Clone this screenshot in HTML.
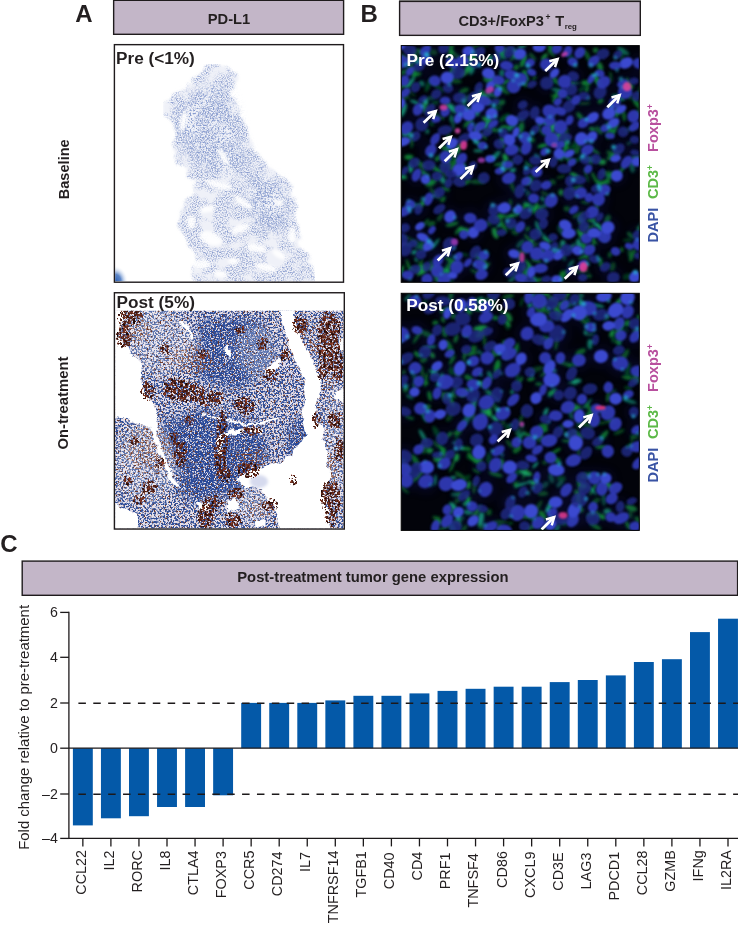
<!DOCTYPE html>
<html><head><meta charset="utf-8"><title>Figure</title>
<style>
html,body{margin:0;padding:0;background:#fff;}
body{width:738px;height:925px;overflow:hidden;font-family:"Liberation Sans",sans-serif;}
svg{display:block;font-family:"Liberation Sans",sans-serif;will-change:transform;-webkit-font-smoothing:antialiased;}
</style></head><body>
<svg width="738" height="925" viewBox="0 0 738 925">
<rect width="738" height="925" fill="#fff"/>
<defs>
<clipPath id="cA1"><rect x="115.1" y="45.3" width="227.7" height="236.2"/></clipPath>
<clipPath id="cA2"><rect x="115.1" y="310.8" width="228.5" height="217.6"/></clipPath>
<clipPath id="cB1"><rect x="401.2" y="45.6" width="238.1" height="236.7"/></clipPath>
<clipPath id="cB2"><rect x="401.2" y="293.3" width="238.1" height="237.1"/></clipPath>

<!-- pale tissue speckle for A-top -->
<filter id="fPale" x="0" y="0" width="100%" height="100%" color-interpolation-filters="sRGB">
  <feTurbulence type="fractalNoise" baseFrequency="0.8" numOctaves="1" seed="7" result="n"/>
  <feColorMatrix in="n" type="matrix" values="0 0 0 0 0.55  0 0 0 0 0.62  0 0 0 0 0.81  3.2 0 0 0 -1.35" result="sp0"/>
  <feTurbulence type="fractalNoise" baseFrequency="0.06" numOctaves="3" seed="29" result="lf"/>
  <feColorMatrix in="lf" type="matrix" values="0 0 0 0 0  0 0 0 0 0  0 0 0 0 0  0 4.5 0 0 -1.45" result="lfa"/>
  <feComposite in="sp0" in2="lfa" operator="in" result="sp1"/>
  <feGaussianBlur in="sp1" stdDeviation="0.7" result="sp"/>
  <feTurbulence type="fractalNoise" baseFrequency="0.05" numOctaves="3" seed="11" result="m"/>
  <feDisplacementMap in="SourceGraphic" in2="m" scale="16" xChannelSelector="R" yChannelSelector="G" result="shape"/>
  <feGaussianBlur in="shape" stdDeviation="1.0" result="soft"/>
  <feComposite in="sp" in2="soft" operator="in" result="tex"/>
  <feFlood flood-color="#dfe4f2" flood-opacity="0.5" result="bg"/>
  <feComposite in="bg" in2="soft" operator="in" result="bgc"/>
  <feMerge><feMergeNode in="bgc"/><feMergeNode in="tex"/></feMerge>
</filter>
<!-- denser pale layer -->
<filter id="fPale2" x="0" y="0" width="100%" height="100%" color-interpolation-filters="sRGB">
  <feTurbulence type="fractalNoise" baseFrequency="0.6" numOctaves="2" seed="19" result="n"/>
  <feColorMatrix in="n" type="matrix" values="0 0 0 0 0.53  0 0 0 0 0.61  0 0 0 0 0.81  4 0 0 0 -1.9" result="sp0"/>
  <feGaussianBlur in="sp0" stdDeviation="0.75" result="sp"/>
  <feGaussianBlur in="SourceGraphic" stdDeviation="6" result="soft"/>
  <feComposite in="sp" in2="soft" operator="in"/>
</filter>

<!-- blue speckled tissue for A-bottom -->
<filter id="fTis" x="0" y="0" width="100%" height="100%" color-interpolation-filters="sRGB">
  <feTurbulence type="fractalNoise" baseFrequency="0.55" numOctaves="2" seed="5" result="n"/>
  <feColorMatrix in="n" type="matrix" values="0 0 0 0 0.19  0 0 0 0 0.31  0 0 0 0 0.60  7 0 0 0 -3.15" result="sp0"/>
  <feGaussianBlur in="sp0" stdDeviation="0.35" result="sp"/>
  <feTurbulence type="fractalNoise" baseFrequency="0.09" numOctaves="3" seed="23" result="m"/>
  <feDisplacementMap in="SourceGraphic" in2="m" scale="9" xChannelSelector="R" yChannelSelector="G" result="shape"/>
  <feComposite in="sp" in2="shape" operator="in" result="tex"/>
  <feFlood flood-color="#e6dfe8" result="bg"/>
  <feComposite in="bg" in2="shape" operator="in" result="bgc"/>
  <feMerge><feMergeNode in="bgc"/><feMergeNode in="tex"/></feMerge>
</filter>
<!-- extra-dense blue overlay -->
<filter id="fDense" x="0" y="0" width="100%" height="100%" color-interpolation-filters="sRGB">
  <feTurbulence type="fractalNoise" baseFrequency="0.7" numOctaves="2" seed="31" result="n"/>
  <feColorMatrix in="n" type="matrix" values="0 0 0 0 0.15  0 0 0 0 0.28  0 0 0 0 0.60  7 0 0 0 -3.0" result="sp"/>
  <feGaussianBlur in="SourceGraphic" stdDeviation="5" result="soft"/>
  <feComposite in="sp" in2="soft" operator="in"/>
</filter>
<!-- brown stain clumps -->
<filter id="fBrown" x="0" y="0" width="100%" height="100%" color-interpolation-filters="sRGB">
  <feTurbulence type="fractalNoise" baseFrequency="0.42" numOctaves="2" seed="41" result="n"/>
  <feColorMatrix in="n" type="matrix" values="0 0.9 0 0 -0.12  0 0.42 0 0 -0.08  0 0.25 0 0 -0.04  1 0 0 0 0" result="na"/>
  <feGaussianBlur in="SourceGraphic" stdDeviation="2.2" result="soft"/>
  <feComposite in="na" in2="soft" operator="in" result="prod"/>
  <feColorMatrix in="prod" type="matrix" values="1 0 0 0 0  0 1 0 0 0  0 0 1 0 0  0 0 0 14 -6.25"/>
</filter>
<!-- faint brown/pink tint -->
<filter id="fTint" x="0" y="0" width="100%" height="100%" color-interpolation-filters="sRGB">
  <feTurbulence type="fractalNoise" baseFrequency="0.5" numOctaves="2" seed="53" result="n"/>
  <feColorMatrix in="n" type="matrix" values="0 0 0 0 0  0 0 0 0 0  0 0 0 0 0  1 0 0 0 0" result="na"/>
  <feGaussianBlur in="SourceGraphic" stdDeviation="5" result="soft"/>
  <feComposite in="na" in2="soft" operator="in" result="prod"/>
  <feColorMatrix in="prod" type="matrix" values="0 0 0 0 0.50  0 0 0 0 0.27  0 0 0 0 0.20  0 0 0 10 -5.4"/>
</filter>
<!-- global sparse brown specks -->
<filter id="fSpeck" x="0" y="0" width="100%" height="100%" color-interpolation-filters="sRGB">
  <feTurbulence type="fractalNoise" baseFrequency="0.55" numOctaves="2" seed="77" result="n"/>
  <feColorMatrix in="n" type="matrix" values="0 0 0 0 0.42  0 0 0 0 0.22  0 0 0 0 0.16  0 9 0 0 -5.6" result="sp"/>
  <feComposite in="sp" in2="SourceGraphic" operator="in"/>
</filter>
<!-- white holes with ragged edge -->
<filter id="fHole" x="0" y="0" width="100%" height="100%" color-interpolation-filters="sRGB">
  <feTurbulence type="fractalNoise" baseFrequency="0.12" numOctaves="3" seed="61" result="m"/>
  <feDisplacementMap in="SourceGraphic" in2="m" scale="7" xChannelSelector="R" yChannelSelector="G"/>
</filter>
<filter id="fBlurS" x="-20%" y="-20%" width="140%" height="140%"><feGaussianBlur stdDeviation="0.9"/></filter>
<filter id="fBlurM" x="-20%" y="-20%" width="140%" height="140%"><feGaussianBlur stdDeviation="1.6"/></filter>
<filter id="fBlurL" x="-50%" y="-50%" width="200%" height="200%"><feGaussianBlur stdDeviation="4"/></filter>
<radialGradient id="gN" cx="50%" cy="50%" r="50%"><stop offset="0" stop-color="#3444d8"/><stop offset="0.7" stop-color="#2a36c8"/><stop offset="1" stop-color="#1c249a"/></radialGradient>
<radialGradient id="gCorner" cx="0" cy="1" r="1"><stop offset="0" stop-color="#2b5fb4"/><stop offset="0.45" stop-color="#5c86c8"/><stop offset="1" stop-color="#ffffff" stop-opacity="0"/></radialGradient>
</defs>
<rect x="399" y="0" width="242" height="0.9" fill="#8e8e8e"/>
<g stroke="#1f1b1d" stroke-width="1.4" fill="#c3b6c8">
<rect x="113.65" y="0.3" width="229.95" height="34"/>
<rect x="399.6" y="1.4" width="240.7" height="33.95"/>
<rect x="22.2" y="561.1" width="715.4" height="34.2"/>
</g>
<g font-weight="bold" fill="#231f20">
<text x="75.2" y="21.7" font-size="24">A</text>
<text x="360.5" y="21.6" font-size="24">B</text>
<text x="0.2" y="551.8" font-size="24">C</text>
<text x="229" y="24.4" font-size="14.7" text-anchor="middle">PD-L1</text>
<text x="458.4" y="25.5" font-size="14.6">CD3+/FoxP3<tspan font-size="8.5" dy="-5.6" dx="1.6">+</tspan><tspan dy="5.6" dx="0.7"> T</tspan><tspan font-size="7.8" dy="3.6" dx="0.4">reg</tspan></text>
<text x="372.9" y="582.2" font-size="14.8" text-anchor="middle">Post-treatment tumor gene expression</text>
<text font-size="14.6" text-anchor="middle" transform="translate(69,169.3) rotate(-90)">Baseline</text>
<text font-size="14.8" text-anchor="middle" transform="translate(68,403.1) rotate(-90)">On-treatment</text>
</g>
<rect x="114.4" y="44.65" width="229.1" height="237.55" fill="#fff"/>
<g clip-path="url(#cA1)">
<g filter="url(#fPale)"><path d="M202.7,67.6 L217.3,64.4 L233.6,72.5 L238.5,80.7 L235.2,92.0 L240.1,108.3 L243.3,124.6 L248.2,137.6 L256.3,150.6 L269.3,166.8 L285.6,179.8 L293.7,186.3 L295.4,202.6 L292.1,215.6 L298.6,228.6 L300.2,244.9 L305.1,254.6 L311.6,267.6 L314.9,287.2 L194.6,287.2 L192.9,267.6 L196.2,254.6 L186.4,238.4 L179.9,228.6 L178.3,215.6 L183.2,202.6 L192.9,192.8 L196.2,179.8 L188.0,170.1 L175.0,160.3 L170.2,150.6 L173.4,137.6 L166.9,124.6 L163.7,109.9 L175.0,95.3 L188.0,85.5 L197.8,75.8Z" fill="#000"/></g>
<g filter="url(#fPale2)"><path d="M184.8,98.5 L217.3,82.3 L233.6,105.0 L240.1,137.6 L249.8,157.1 L233.6,176.6 L207.6,170.1 L184.8,150.6 L175.0,124.6Z" fill="#000"/><path d="M249.8,170.1 L285.6,186.3 L288.9,222.1 L266.1,235.1 L249.8,209.1Z" fill="#000"/></g>
<g filter="url(#fBlurM)" fill="#ffffff" opacity="0.9">
<ellipse cx="183.2" cy="121.3" rx="3.3" ry="10.4" transform="rotate(10 183.2 121.3)"/>
<ellipse cx="218.9" cy="184.7" rx="14.3" ry="3.9" transform="rotate(15 218.9 184.7)"/>
<ellipse cx="243.3" cy="202.6" rx="11.1" ry="3.6" transform="rotate(35 243.3 202.6)"/>
<ellipse cx="210.8" cy="238.4" rx="11.7" ry="6.5" transform="rotate(20 210.8 238.4)"/>
<ellipse cx="223.8" cy="157.1" rx="3.3" ry="9.8" transform="rotate(-30 223.8 157.1)"/>
<ellipse cx="256.3" cy="248.1" rx="10.4" ry="4.2" transform="rotate(10 256.3 248.1)"/>
<ellipse cx="207.6" cy="209.1" rx="8.5" ry="3.3" transform="rotate(-10 207.6 209.1)"/>
<ellipse cx="279.1" cy="254.6" rx="7.8" ry="3.3" transform="rotate(30 279.1 254.6)"/>
<ellipse cx="201.1" cy="264.4" rx="9.8" ry="4.6" transform="rotate(0 201.1 264.4)"/>
<ellipse cx="240.1" cy="228.6" rx="9.8" ry="3.9" transform="rotate(-20 240.1 228.6)"/>
<ellipse cx="266.1" cy="267.6" rx="11.1" ry="3.9" transform="rotate(15 266.1 267.6)"/>
<ellipse cx="292.1" cy="235.1" rx="3.9" ry="8.5" transform="rotate(0 292.1 235.1)"/>
<ellipse cx="220.6" cy="274.1" rx="7.8" ry="3.3" transform="rotate(10 220.6 274.1)"/>
<ellipse cx="191.3" cy="222.1" rx="4.6" ry="6.5" transform="rotate(0 191.3 222.1)"/>
<ellipse cx="279.1" cy="202.6" rx="5.2" ry="3.3" transform="rotate(0 279.1 202.6)"/>
<ellipse cx="233.6" cy="261.1" rx="5.9" ry="3.3" transform="rotate(0 233.6 261.1)"/>
</g>
<rect x="115.1" y="265.5" width="13" height="16" fill="url(#gCorner)"/>
</g>
<rect x="114.4" y="44.65" width="229.1" height="237.55" fill="none" stroke="#1f1b1d" stroke-width="1.4"/>
<text x="116" y="64.4" font-size="17.2" font-weight="bold" fill="#231f20">Pre (&lt;1%)</text>
<rect x="114.4" y="292.75" width="229.9" height="236.3" fill="#fff"/>
<g clip-path="url(#cA2)">
<g filter="url(#fTis)"><rect x="100" y="300" width="260" height="240" fill="#000"/></g>
<g filter="url(#fDense)">
<path d="M160.0,424.0 L200.0,410.0 L250.0,420.0 L268.0,440.0 L262.0,470.0 L240.0,490.0 L215.0,500.0 L195.0,492.0 L180.0,470.0 L165.0,445.0Z" fill="#000"/>
<path d="M180.0,465.0 L205.0,470.0 L212.0,495.0 L195.0,505.0 L178.0,490.0Z" fill="#000"/>
<path d="M292.0,420.0 L312.0,418.0 L312.0,445.0 L296.0,458.0 L286.0,450.0Z" fill="#000"/>
<path d="M200.0,320.0 L260.0,316.0 L275.0,360.0 L240.0,390.0 L200.0,380.0Z" fill="#000"/>
</g>
<g filter="url(#fTint)">
<ellipse cx="135" cy="330" rx="22" ry="18" fill="#000"/>
<ellipse cx="150" cy="450" rx="30" ry="30" fill="#000"/>
<ellipse cx="300" cy="340" rx="20" ry="25" fill="#000"/>
<ellipse cx="330" cy="360" rx="14" ry="40" fill="#000"/>
<ellipse cx="250" cy="460" rx="25" ry="18" fill="#000"/>
<ellipse cx="190" cy="360" rx="30" ry="20" fill="#000"/>
<ellipse cx="330" cy="480" rx="12" ry="40" fill="#000"/>
<ellipse cx="260" cy="510" rx="20" ry="14" fill="#000"/>
</g>
<g filter="url(#fBlurL)" fill="#fff" opacity="0.24">
<ellipse cx="146" cy="462" rx="30" ry="42"/>
<ellipse cx="160" cy="345" rx="34" ry="30"/>
<ellipse cx="150" cy="320" rx="30" ry="14"/>
<ellipse cx="334" cy="450" rx="10" ry="70"/>
<ellipse cx="330" cy="345" rx="12" ry="30"/>
<ellipse cx="255" cy="350" rx="20" ry="26"/>
<ellipse cx="250" cy="505" rx="24" ry="18"/>
</g>
<g filter="url(#fSpeck)"><rect x="100" y="300" width="260" height="240" fill="#000"/></g>
<g filter="url(#fHole)" fill="#fff">
<path d="M110.0,305.0 L127.0,305.0 L121.0,322.0 L120.0,334.0 L122.0,344.0 L133.0,355.0 L143.0,366.0 L141.0,378.0 L143.0,391.0 L153.0,404.0 L158.0,418.0 L157.0,430.0 L140.0,424.0 L126.0,419.0 L110.0,416.0Z"/>
<path d="M279.1,304.3 L282.4,323.8 L287.2,336.8 L292.1,353.0 L300.2,369.3 L303.5,382.3 L305.1,401.8 L301.9,418.1 L304.5,431.1 L310.0,440.8 L318.1,463.6 L323.0,457.1 L325.3,444.1 L321.4,427.8 L314.9,418.1 L316.5,401.8 L321.4,388.8 L319.8,375.8 L311.6,359.5 L305.1,343.3 L297.0,330.3 L294.1,304.3Z"/>
<path d="M265.0,369.7 L279.7,358.3 L281.0,366.4 L268.3,374.6Z"/>
<path d="M302.4,410.0 L313.8,410.0 L317.1,429.5 L323.6,442.5 L326.8,452.3 L325.2,463.7 L330.1,475.0 L323.6,491.3 L326.8,507.6 L331.7,535.0 L279.7,535.0 L276.4,510.8 L265.0,494.6 L258.5,488.0 L245.5,486.4 L237.4,481.5 L242.3,475.0 L255.3,468.5 L268.3,465.3 L279.7,462.0 L291.0,455.5 L294.3,447.4 L304.0,440.9 L310.6,427.9 L307.3,418.1Z"/>
<path d="M110.0,499.0 L121.8,507.6 L136.4,515.7 L140.0,535.0 L110.0,535.0Z"/>
<path d="M226.0,500.0 L236.0,498.0 L239.0,508.0 L229.0,514.0Z"/>
<path d="M198.0,503.0 L210.0,504.0 L211.0,509.0 L199.0,509.0Z"/>
<path d="M255.0,520.0 L266.0,522.0 L265.0,527.0 L254.0,526.0Z"/>
<path d="M202.0,414.0 L222.0,418.0 L245.0,423.5 L262.0,421.5 L278.0,417.0 L278.5,418.6 L262.0,424.0 L245.0,425.6 L222.0,420.0 L202.0,415.6Z"/>
<path d="M216.0,441.0 L222.0,434.0 L232.0,430.0 L246.0,428.0 L262.0,430.0 L262.0,433.0 L246.0,432.0 L233.0,434.0 L225.0,438.0 L221.0,446.0 L222.0,456.0 L218.0,456.0Z"/>
<path d="M151.0,428.0 L155.0,428.0 L162.0,450.0 L174.0,478.0 L178.0,485.0 L175.0,486.0 L168.0,474.0 L158.0,452.0Z"/>
<path d="M178.0,322.0 L182.0,320.0 L196.0,337.0 L194.0,339.0Z"/>
<path d="M226.0,345.0 L232.0,352.0 L229.0,357.0 L224.0,349.0Z"/>
<path d="M338.0,340.0 L345.0,338.0 L345.0,352.0 L339.0,350.0Z"/>
<path d="M334.0,392.0 L345.0,388.0 L345.0,402.0 L336.0,400.0Z"/>
</g>
<ellipse cx="259" cy="481.5" rx="9" ry="6.5" fill="#d6daee" filter="url(#fBlurM)"/>
<g filter="url(#fBrown)">
<ellipse cx="131" cy="316" rx="14.8" ry="11.0" fill="#000"/>
<ellipse cx="124" cy="338" rx="9.8" ry="13.5" fill="#000"/>
<ellipse cx="177" cy="389" rx="17.2" ry="13.5" fill="#000"/>
<ellipse cx="148" cy="391" rx="9.8" ry="11.0" fill="#000"/>
<ellipse cx="208" cy="399" rx="13.5" ry="9.8" fill="#000"/>
<ellipse cx="246" cy="406" rx="11.0" ry="11.0" fill="#000"/>
<ellipse cx="270" cy="375" rx="9.8" ry="8.5" fill="#000"/>
<ellipse cx="263" cy="344" rx="8.5" ry="8.5" fill="#000"/>
<ellipse cx="203" cy="355" rx="7.2" ry="7.2" fill="#000"/>
<ellipse cx="222" cy="428" rx="7.2" ry="21.0" fill="#000"/>
<ellipse cx="219" cy="456" rx="7.2" ry="21.0" fill="#000"/>
<ellipse cx="224" cy="474" rx="9.8" ry="9.8" fill="#000"/>
<ellipse cx="252" cy="431" rx="13.5" ry="7.2" fill="#000"/>
<ellipse cx="251" cy="472" rx="11.0" ry="8.5" fill="#000"/>
<ellipse cx="181" cy="455" rx="8.5" ry="16.0" fill="#000"/>
<ellipse cx="175" cy="438" rx="7.2" ry="9.8" fill="#000"/>
<ellipse cx="293.5" cy="480" rx="5.5" ry="8.0" fill="#000"/>
<ellipse cx="213" cy="503" rx="12.2" ry="9.8" fill="#000"/>
<ellipse cx="236" cy="494" rx="11.0" ry="8.5" fill="#000"/>
<ellipse cx="328" cy="495" rx="9.8" ry="14.8" fill="#000"/>
<ellipse cx="331" cy="515" rx="8.5" ry="13.5" fill="#000"/>
<ellipse cx="334" cy="330" rx="9.8" ry="16.0" fill="#000"/>
<ellipse cx="338" cy="365" rx="8.5" ry="18.5" fill="#000"/>
<ellipse cx="322" cy="372" rx="7.2" ry="11.0" fill="#000"/>
<ellipse cx="335" cy="420" rx="9.8" ry="11.0" fill="#000"/>
<ellipse cx="316" cy="420" rx="6.0" ry="11.0" fill="#000"/>
<ellipse cx="233" cy="520" rx="11.0" ry="9.8" fill="#000"/>
<ellipse cx="205" cy="523" rx="8.5" ry="8.5" fill="#000"/>
<ellipse cx="150" cy="487" rx="9.8" ry="8.5" fill="#000"/>
<ellipse cx="160" cy="463" rx="7.2" ry="7.2" fill="#000"/>
<ellipse cx="134" cy="441" rx="7.2" ry="7.2" fill="#000"/>
<ellipse cx="190" cy="420" rx="7.2" ry="7.2" fill="#000"/>
<ellipse cx="300" cy="325" rx="9.8" ry="11.0" fill="#000"/>
<ellipse cx="285" cy="355" rx="7.2" ry="8.5" fill="#000"/>
<ellipse cx="128" cy="318" rx="12.2" ry="9.8" fill="#000"/>
<ellipse cx="328" cy="340" rx="13.5" ry="31.0" fill="#000"/>
<ellipse cx="186" cy="392" rx="21.0" ry="12.2" fill="#000"/>
<ellipse cx="212" cy="398" rx="13.5" ry="9.8" fill="#000"/>
<ellipse cx="243" cy="404" rx="12.2" ry="9.8" fill="#000"/>
<ellipse cx="332" cy="500" rx="11.0" ry="21.0" fill="#000"/>
<ellipse cx="222" cy="445" rx="7.2" ry="31.0" fill="#000"/>
<ellipse cx="249" cy="470" rx="13.5" ry="9.8" fill="#000"/>
<ellipse cx="205" cy="515" rx="11.0" ry="9.8" fill="#000"/>
<ellipse cx="240" cy="330" rx="7.2" ry="7.2" fill="#000"/>
<ellipse cx="165" cy="350" rx="7.2" ry="7.2" fill="#000"/>
<ellipse cx="270" cy="505" rx="9.8" ry="8.5" fill="#000"/>
<ellipse cx="128" cy="480" rx="7.2" ry="7.2" fill="#000"/>
<ellipse cx="140" cy="500" rx="8.5" ry="7.2" fill="#000"/>
<ellipse cx="340" cy="450" rx="8.5" ry="13.5" fill="#000"/>
</g>
</g>
<rect x="114.4" y="292.75" width="229.9" height="236.3" fill="none" stroke="#1f1b1d" stroke-width="1.4"/>
<text x="116.6" y="308" font-size="17.2" font-weight="bold" fill="#231f20">Post (5%)</text>
<rect x="401.2" y="45.6" width="238.1" height="236.7" fill="#02030a"/>
<g clip-path="url(#cB1)">
<g filter="url(#fBlurL)" opacity="0.25">
<circle cx="508.9" cy="178.1" r="10.8" fill="#15166a"/>
<circle cx="422.8" cy="237.2" r="9.8" fill="#15166a"/>
<circle cx="511.7" cy="149.9" r="10.4" fill="#15166a"/>
<circle cx="569.7" cy="120.2" r="7.9" fill="#15166a"/>
<circle cx="634.6" cy="139.7" r="7.2" fill="#15166a"/>
<circle cx="425.3" cy="59.8" r="10.2" fill="#15166a"/>
<circle cx="592.5" cy="117.6" r="10.6" fill="#15166a"/>
<circle cx="418.7" cy="66.9" r="9.3" fill="#15166a"/>
<circle cx="437.9" cy="260.6" r="10.3" fill="#15166a"/>
<circle cx="569.0" cy="106.4" r="10.4" fill="#15166a"/>
<circle cx="467.9" cy="262.7" r="7.8" fill="#15166a"/>
<circle cx="613.3" cy="277.7" r="9.7" fill="#15166a"/>
<circle cx="639.1" cy="63.4" r="9.2" fill="#15166a"/>
<circle cx="589.4" cy="250.0" r="9.3" fill="#15166a"/>
<circle cx="493.7" cy="219.6" r="9.3" fill="#15166a"/>
<circle cx="519.6" cy="191.1" r="10.8" fill="#15166a"/>
<circle cx="613.5" cy="123.0" r="9.7" fill="#15166a"/>
<circle cx="570.5" cy="270.5" r="8.1" fill="#15166a"/>
<circle cx="635.0" cy="152.7" r="7.2" fill="#15166a"/>
<circle cx="509.5" cy="51.5" r="10.4" fill="#15166a"/>
<circle cx="443.7" cy="48.1" r="8.9" fill="#15166a"/>
<circle cx="573.2" cy="76.3" r="8.8" fill="#15166a"/>
<circle cx="450.0" cy="216.5" r="9.6" fill="#15166a"/>
<circle cx="605.0" cy="128.1" r="7.2" fill="#15166a"/>
<circle cx="434.7" cy="80.8" r="9.1" fill="#15166a"/>
<circle cx="470.3" cy="218.1" r="9.6" fill="#15166a"/>
<circle cx="526.0" cy="181.2" r="7.7" fill="#15166a"/>
<circle cx="518.1" cy="209.2" r="7.2" fill="#15166a"/>
<circle cx="615.6" cy="158.4" r="8.2" fill="#15166a"/>
<circle cx="522.7" cy="104.9" r="7.7" fill="#15166a"/>
<circle cx="527.3" cy="247.1" r="9.5" fill="#15166a"/>
<circle cx="638.9" cy="255.7" r="7.5" fill="#15166a"/>
<circle cx="428.7" cy="165.3" r="10.1" fill="#15166a"/>
<circle cx="583.3" cy="123.0" r="8.9" fill="#15166a"/>
<circle cx="497.7" cy="91.8" r="7.6" fill="#15166a"/>
<circle cx="521.3" cy="278.2" r="10.3" fill="#15166a"/>
<circle cx="583.9" cy="226.7" r="8.6" fill="#15166a"/>
<circle cx="582.6" cy="277.6" r="7.0" fill="#15166a"/>
<circle cx="616.8" cy="175.8" r="9.0" fill="#15166a"/>
<circle cx="622.7" cy="83.5" r="8.9" fill="#15166a"/>
<circle cx="534.7" cy="112.7" r="9.9" fill="#15166a"/>
<circle cx="459.2" cy="169.5" r="10.8" fill="#15166a"/>
<circle cx="430.8" cy="150.4" r="9.7" fill="#15166a"/>
<circle cx="535.7" cy="185.6" r="9.6" fill="#15166a"/>
<circle cx="530.2" cy="62.8" r="7.3" fill="#15166a"/>
<circle cx="584.2" cy="96.1" r="8.7" fill="#15166a"/>
<circle cx="503.0" cy="133.0" r="7.3" fill="#15166a"/>
<circle cx="573.8" cy="209.9" r="8.1" fill="#15166a"/>
<circle cx="618.7" cy="149.3" r="10.3" fill="#15166a"/>
<circle cx="535.4" cy="234.3" r="9.2" fill="#15166a"/>
<circle cx="416.5" cy="175.0" r="10.2" fill="#15166a"/>
<circle cx="459.6" cy="97.8" r="10.1" fill="#15166a"/>
<circle cx="604.4" cy="236.4" r="10.4" fill="#15166a"/>
<circle cx="490.6" cy="85.3" r="7.8" fill="#15166a"/>
<circle cx="409.9" cy="71.3" r="7.7" fill="#15166a"/>
<circle cx="595.8" cy="159.1" r="8.0" fill="#15166a"/>
<circle cx="592.0" cy="136.7" r="9.1" fill="#15166a"/>
<circle cx="477.8" cy="107.0" r="10.6" fill="#15166a"/>
<circle cx="473.5" cy="232.4" r="8.7" fill="#15166a"/>
<circle cx="475.2" cy="63.6" r="8.2" fill="#15166a"/>
<circle cx="637.3" cy="234.8" r="7.8" fill="#15166a"/>
<circle cx="493.1" cy="124.0" r="8.6" fill="#15166a"/>
<circle cx="546.8" cy="83.1" r="10.1" fill="#15166a"/>
<circle cx="600.1" cy="92.3" r="10.9" fill="#15166a"/>
<circle cx="511.4" cy="75.0" r="11.0" fill="#15166a"/>
<circle cx="444.1" cy="279.2" r="10.8" fill="#15166a"/>
<circle cx="410.2" cy="204.4" r="7.5" fill="#15166a"/>
<circle cx="526.2" cy="147.9" r="10.7" fill="#15166a"/>
<circle cx="507.6" cy="164.6" r="8.6" fill="#15166a"/>
<circle cx="579.0" cy="179.8" r="10.7" fill="#15166a"/>
<circle cx="519.9" cy="266.7" r="11.0" fill="#15166a"/>
<circle cx="446.8" cy="253.9" r="7.1" fill="#15166a"/>
<circle cx="448.0" cy="88.4" r="7.9" fill="#15166a"/>
<circle cx="560.0" cy="111.1" r="9.6" fill="#15166a"/>
<circle cx="467.7" cy="175.3" r="7.7" fill="#15166a"/>
<circle cx="533.6" cy="198.3" r="8.4" fill="#15166a"/>
<circle cx="520.0" cy="54.0" r="9.4" fill="#15166a"/>
<circle cx="436.0" cy="119.2" r="7.1" fill="#15166a"/>
<circle cx="452.7" cy="275.3" r="7.1" fill="#15166a"/>
<circle cx="576.0" cy="100.0" r="8.0" fill="#15166a"/>
<circle cx="566.6" cy="250.2" r="9.4" fill="#15166a"/>
<circle cx="418.5" cy="209.2" r="8.4" fill="#15166a"/>
<circle cx="583.5" cy="216.8" r="10.7" fill="#15166a"/>
<circle cx="495.0" cy="102.0" r="7.1" fill="#15166a"/>
<circle cx="470.7" cy="127.3" r="7.8" fill="#15166a"/>
<circle cx="415.5" cy="136.3" r="8.3" fill="#15166a"/>
<circle cx="567.9" cy="51.1" r="8.5" fill="#15166a"/>
<circle cx="406.8" cy="127.8" r="10.6" fill="#15166a"/>
<circle cx="499.0" cy="144.0" r="8.1" fill="#15166a"/>
<circle cx="633.8" cy="81.1" r="7.7" fill="#15166a"/>
<circle cx="439.2" cy="192.7" r="9.0" fill="#15166a"/>
<circle cx="585.0" cy="159.4" r="7.6" fill="#15166a"/>
<circle cx="569.5" cy="193.1" r="10.4" fill="#15166a"/>
<circle cx="551.6" cy="139.5" r="10.8" fill="#15166a"/>
<circle cx="493.9" cy="209.9" r="9.2" fill="#15166a"/>
<circle cx="516.0" cy="132.2" r="8.0" fill="#15166a"/>
<circle cx="599.7" cy="217.2" r="7.6" fill="#15166a"/>
<circle cx="427.0" cy="279.3" r="8.7" fill="#15166a"/>
<circle cx="547.9" cy="255.7" r="10.5" fill="#15166a"/>
<circle cx="636.9" cy="161.8" r="7.9" fill="#15166a"/>
<circle cx="546.4" cy="130.2" r="7.7" fill="#15166a"/>
<circle cx="609.0" cy="113.4" r="10.5" fill="#15166a"/>
<circle cx="560.5" cy="127.0" r="10.7" fill="#15166a"/>
<circle cx="598.5" cy="199.4" r="9.8" fill="#15166a"/>
<circle cx="405.0" cy="249.1" r="10.9" fill="#15166a"/>
<circle cx="523.2" cy="115.2" r="10.2" fill="#15166a"/>
<circle cx="499.6" cy="48.1" r="7.5" fill="#15166a"/>
<circle cx="413.0" cy="243.4" r="7.2" fill="#15166a"/>
<circle cx="546.2" cy="185.1" r="8.2" fill="#15166a"/>
<circle cx="588.9" cy="197.6" r="7.1" fill="#15166a"/>
<circle cx="587.3" cy="149.9" r="10.1" fill="#15166a"/>
<circle cx="565.4" cy="137.4" r="10.2" fill="#15166a"/>
<circle cx="462.4" cy="60.8" r="10.4" fill="#15166a"/>
<circle cx="437.3" cy="270.7" r="10.1" fill="#15166a"/>
<circle cx="484.2" cy="100.6" r="10.9" fill="#15166a"/>
<circle cx="588.1" cy="169.0" r="7.2" fill="#15166a"/>
<circle cx="404.8" cy="227.9" r="8.0" fill="#15166a"/>
<circle cx="445.1" cy="100.6" r="8.2" fill="#15166a"/>
<circle cx="491.6" cy="113.5" r="9.4" fill="#15166a"/>
<circle cx="429.8" cy="110.2" r="10.8" fill="#15166a"/>
<circle cx="544.8" cy="245.8" r="8.9" fill="#15166a"/>
<circle cx="456.8" cy="267.1" r="10.5" fill="#15166a"/>
<circle cx="506.6" cy="65.6" r="10.3" fill="#15166a"/>
<circle cx="607.8" cy="227.5" r="10.2" fill="#15166a"/>
<circle cx="479.9" cy="265.0" r="10.7" fill="#15166a"/>
<circle cx="504.3" cy="207.9" r="10.1" fill="#15166a"/>
<circle cx="437.0" cy="176.1" r="8.0" fill="#15166a"/>
<circle cx="418.1" cy="109.4" r="9.8" fill="#15166a"/>
<circle cx="514.0" cy="253.8" r="8.8" fill="#15166a"/>
<circle cx="541.8" cy="214.2" r="10.1" fill="#15166a"/>
<circle cx="546.3" cy="279.2" r="7.8" fill="#15166a"/>
<circle cx="425.4" cy="50.5" r="9.8" fill="#15166a"/>
<circle cx="428.1" cy="245.9" r="8.9" fill="#15166a"/>
<circle cx="509.4" cy="139.7" r="9.2" fill="#15166a"/>
<circle cx="452.2" cy="62.8" r="10.1" fill="#15166a"/>
<circle cx="571.4" cy="89.5" r="9.0" fill="#15166a"/>
<circle cx="520.2" cy="226.9" r="9.3" fill="#15166a"/>
<circle cx="468.9" cy="114.9" r="10.1" fill="#15166a"/>
<circle cx="639.1" cy="244.2" r="9.7" fill="#15166a"/>
<circle cx="605.2" cy="267.0" r="8.7" fill="#15166a"/>
</g>
<g filter="url(#fBlurM)">
<ellipse cx="455.8" cy="161.5" rx="4.8" ry="2.3" fill="#0c8030" opacity="0.68" transform="rotate(152 455.8 161.5)"/>
<ellipse cx="489.0" cy="223.6" rx="2.8" ry="2.4" fill="#14a040" opacity="0.41" transform="rotate(18 489.0 223.6)"/>
<ellipse cx="402.1" cy="86.1" rx="5.5" ry="1.4" fill="#1cb450" opacity="0.77" transform="rotate(154 402.1 86.1)"/>
<ellipse cx="630.0" cy="97.1" rx="3.1" ry="1.9" fill="#14a040" opacity="0.42" transform="rotate(106 630.0 97.1)"/>
<ellipse cx="587.2" cy="55.7" rx="7.0" ry="2.4" fill="#14a040" opacity="0.52" transform="rotate(62 587.2 55.7)"/>
<ellipse cx="521.1" cy="127.6" rx="5.5" ry="3.0" fill="#14a040" opacity="0.65" transform="rotate(105 521.1 127.6)"/>
<ellipse cx="552.6" cy="113.8" rx="4.1" ry="2.1" fill="#109838" opacity="0.35" transform="rotate(76 552.6 113.8)"/>
<ellipse cx="517.6" cy="148.9" rx="7.5" ry="1.5" fill="#1cb450" opacity="0.38" transform="rotate(28 517.6 148.9)"/>
<ellipse cx="476.6" cy="44.9" rx="7.9" ry="2.3" fill="#1cb450" opacity="0.38" transform="rotate(143 476.6 44.9)"/>
<ellipse cx="406.3" cy="133.5" rx="4.7" ry="2.5" fill="#18b090" opacity="0.77" transform="rotate(166 406.3 133.5)"/>
<ellipse cx="590.8" cy="162.6" rx="3.1" ry="2.5" fill="#0c8030" opacity="0.39" transform="rotate(126 590.8 162.6)"/>
<ellipse cx="547.2" cy="239.4" rx="5.6" ry="2.1" fill="#109838" opacity="0.69" transform="rotate(18 547.2 239.4)"/>
<ellipse cx="560.9" cy="176.9" rx="4.6" ry="1.6" fill="#14a040" opacity="0.35" transform="rotate(164 560.9 176.9)"/>
<ellipse cx="588.8" cy="232.1" rx="3.2" ry="1.6" fill="#14a040" opacity="0.60" transform="rotate(160 588.8 232.1)"/>
<ellipse cx="408.9" cy="138.7" rx="5.8" ry="1.5" fill="#14a040" opacity="0.50" transform="rotate(9 408.9 138.7)"/>
<ellipse cx="516.0" cy="56.8" rx="2.7" ry="2.9" fill="#18b090" opacity="0.53" transform="rotate(117 516.0 56.8)"/>
<ellipse cx="529.9" cy="206.3" rx="7.5" ry="2.9" fill="#18b090" opacity="0.49" transform="rotate(32 529.9 206.3)"/>
<ellipse cx="491.6" cy="78.7" rx="7.8" ry="2.4" fill="#109838" opacity="0.78" transform="rotate(75 491.6 78.7)"/>
<ellipse cx="591.5" cy="220.0" rx="4.8" ry="1.7" fill="#14a040" opacity="0.72" transform="rotate(167 591.5 220.0)"/>
<ellipse cx="556.2" cy="80.8" rx="5.5" ry="1.8" fill="#109838" opacity="0.60" transform="rotate(51 556.2 80.8)"/>
<ellipse cx="529.2" cy="181.2" rx="3.9" ry="2.9" fill="#18b090" opacity="0.74" transform="rotate(44 529.2 181.2)"/>
<ellipse cx="469.5" cy="108.9" rx="3.2" ry="2.0" fill="#109838" opacity="0.46" transform="rotate(17 469.5 108.9)"/>
<ellipse cx="474.2" cy="271.6" rx="4.5" ry="1.5" fill="#0c8030" opacity="0.62" transform="rotate(32 474.2 271.6)"/>
<ellipse cx="535.0" cy="209.4" rx="5.9" ry="2.6" fill="#0c8030" opacity="0.71" transform="rotate(139 535.0 209.4)"/>
<ellipse cx="526.3" cy="76.0" rx="6.1" ry="1.5" fill="#18b090" opacity="0.70" transform="rotate(67 526.3 76.0)"/>
<ellipse cx="506.1" cy="82.0" rx="4.4" ry="2.0" fill="#109838" opacity="0.73" transform="rotate(152 506.1 82.0)"/>
<ellipse cx="613.3" cy="285.6" rx="4.2" ry="1.8" fill="#109838" opacity="0.76" transform="rotate(18 613.3 285.6)"/>
<ellipse cx="588.7" cy="227.0" rx="6.3" ry="1.4" fill="#0c8030" opacity="0.75" transform="rotate(176 588.7 227.0)"/>
<ellipse cx="445.6" cy="270.6" rx="5.2" ry="2.1" fill="#14a040" opacity="0.51" transform="rotate(17 445.6 270.6)"/>
<ellipse cx="484.1" cy="267.2" rx="7.6" ry="1.4" fill="#1cb450" opacity="0.68" transform="rotate(145 484.1 267.2)"/>
<ellipse cx="488.8" cy="102.1" rx="2.6" ry="2.3" fill="#14a040" opacity="0.71" transform="rotate(75 488.8 102.1)"/>
<ellipse cx="629.6" cy="252.3" rx="5.1" ry="2.0" fill="#1cb450" opacity="0.37" transform="rotate(88 629.6 252.3)"/>
<ellipse cx="478.2" cy="95.2" rx="3.2" ry="1.9" fill="#0c8030" opacity="0.41" transform="rotate(112 478.2 95.2)"/>
<ellipse cx="607.8" cy="133.8" rx="6.1" ry="1.6" fill="#109838" opacity="0.53" transform="rotate(91 607.8 133.8)"/>
<ellipse cx="412.3" cy="205.9" rx="7.4" ry="2.1" fill="#18b090" opacity="0.64" transform="rotate(172 412.3 205.9)"/>
<ellipse cx="562.8" cy="243.4" rx="3.4" ry="2.6" fill="#18b090" opacity="0.71" transform="rotate(95 562.8 243.4)"/>
<ellipse cx="582.4" cy="271.4" rx="7.2" ry="1.5" fill="#1cb450" opacity="0.40" transform="rotate(173 582.4 271.4)"/>
<ellipse cx="528.5" cy="182.6" rx="4.0" ry="1.9" fill="#1cb450" opacity="0.40" transform="rotate(140 528.5 182.6)"/>
<ellipse cx="419.3" cy="243.4" rx="5.5" ry="1.8" fill="#109838" opacity="0.38" transform="rotate(17 419.3 243.4)"/>
<ellipse cx="528.7" cy="164.5" rx="5.4" ry="1.4" fill="#18b090" opacity="0.37" transform="rotate(37 528.7 164.5)"/>
<ellipse cx="436.6" cy="115.6" rx="3.3" ry="2.1" fill="#0c8030" opacity="0.59" transform="rotate(36 436.6 115.6)"/>
<ellipse cx="448.6" cy="106.5" rx="4.6" ry="2.6" fill="#18b090" opacity="0.43" transform="rotate(29 448.6 106.5)"/>
<ellipse cx="576.0" cy="150.9" rx="3.6" ry="2.8" fill="#109838" opacity="0.54" transform="rotate(22 576.0 150.9)"/>
<ellipse cx="610.3" cy="124.7" rx="5.1" ry="1.8" fill="#1cb450" opacity="0.39" transform="rotate(23 610.3 124.7)"/>
<ellipse cx="578.7" cy="243.5" rx="4.9" ry="2.6" fill="#18b090" opacity="0.70" transform="rotate(82 578.7 243.5)"/>
<ellipse cx="538.5" cy="206.6" rx="6.4" ry="1.6" fill="#0c8030" opacity="0.66" transform="rotate(59 538.5 206.6)"/>
<ellipse cx="586.1" cy="83.2" rx="4.5" ry="2.4" fill="#14a040" opacity="0.75" transform="rotate(6 586.1 83.2)"/>
<ellipse cx="482.3" cy="99.7" rx="2.7" ry="2.6" fill="#1cb450" opacity="0.40" transform="rotate(57 482.3 99.7)"/>
<ellipse cx="512.3" cy="186.4" rx="7.1" ry="1.9" fill="#109838" opacity="0.43" transform="rotate(69 512.3 186.4)"/>
<ellipse cx="605.4" cy="182.3" rx="3.8" ry="1.9" fill="#14a040" opacity="0.44" transform="rotate(130 605.4 182.3)"/>
<ellipse cx="545.7" cy="238.5" rx="6.6" ry="1.5" fill="#18b090" opacity="0.57" transform="rotate(55 545.7 238.5)"/>
<ellipse cx="477.7" cy="127.5" rx="3.9" ry="2.9" fill="#1cb450" opacity="0.62" transform="rotate(146 477.7 127.5)"/>
<ellipse cx="438.2" cy="87.4" rx="8.0" ry="1.8" fill="#109838" opacity="0.40" transform="rotate(36 438.2 87.4)"/>
<ellipse cx="444.6" cy="274.4" rx="5.7" ry="2.8" fill="#14a040" opacity="0.75" transform="rotate(57 444.6 274.4)"/>
<ellipse cx="609.0" cy="175.8" rx="4.1" ry="1.4" fill="#18b090" opacity="0.53" transform="rotate(164 609.0 175.8)"/>
<ellipse cx="505.5" cy="51.0" rx="3.9" ry="2.1" fill="#1cb450" opacity="0.55" transform="rotate(132 505.5 51.0)"/>
<ellipse cx="586.7" cy="257.2" rx="4.0" ry="1.9" fill="#0c8030" opacity="0.59" transform="rotate(53 586.7 257.2)"/>
<ellipse cx="457.7" cy="151.6" rx="4.3" ry="2.4" fill="#18b090" opacity="0.39" transform="rotate(88 457.7 151.6)"/>
<ellipse cx="403.0" cy="176.7" rx="4.1" ry="2.3" fill="#14a040" opacity="0.71" transform="rotate(21 403.0 176.7)"/>
<ellipse cx="413.7" cy="72.9" rx="4.9" ry="2.0" fill="#14a040" opacity="0.54" transform="rotate(95 413.7 72.9)"/>
<ellipse cx="442.6" cy="180.0" rx="4.6" ry="2.7" fill="#18b090" opacity="0.71" transform="rotate(49 442.6 180.0)"/>
<ellipse cx="580.6" cy="220.3" rx="5.0" ry="2.2" fill="#0c8030" opacity="0.73" transform="rotate(96 580.6 220.3)"/>
<ellipse cx="593.3" cy="243.3" rx="7.0" ry="1.4" fill="#0c8030" opacity="0.76" transform="rotate(97 593.3 243.3)"/>
<ellipse cx="410.7" cy="168.7" rx="3.4" ry="2.6" fill="#109838" opacity="0.75" transform="rotate(101 410.7 168.7)"/>
<ellipse cx="431.5" cy="223.9" rx="4.2" ry="2.8" fill="#14a040" opacity="0.50" transform="rotate(159 431.5 223.9)"/>
<ellipse cx="600.0" cy="227.5" rx="6.8" ry="2.1" fill="#14a040" opacity="0.53" transform="rotate(50 600.0 227.5)"/>
<ellipse cx="557.1" cy="90.1" rx="6.4" ry="1.9" fill="#18b090" opacity="0.57" transform="rotate(14 557.1 90.1)"/>
<ellipse cx="401.2" cy="271.4" rx="4.6" ry="2.2" fill="#18b090" opacity="0.41" transform="rotate(83 401.2 271.4)"/>
<ellipse cx="519.6" cy="258.5" rx="4.3" ry="1.5" fill="#18b090" opacity="0.59" transform="rotate(74 519.6 258.5)"/>
<ellipse cx="629.8" cy="129.2" rx="7.6" ry="1.7" fill="#0c8030" opacity="0.45" transform="rotate(163 629.8 129.2)"/>
<ellipse cx="425.7" cy="222.8" rx="5.2" ry="1.3" fill="#1cb450" opacity="0.49" transform="rotate(127 425.7 222.8)"/>
<ellipse cx="610.7" cy="125.5" rx="7.9" ry="1.5" fill="#14a040" opacity="0.65" transform="rotate(171 610.7 125.5)"/>
<ellipse cx="529.1" cy="239.5" rx="7.4" ry="1.8" fill="#14a040" opacity="0.55" transform="rotate(47 529.1 239.5)"/>
<ellipse cx="554.7" cy="125.8" rx="4.4" ry="2.3" fill="#1cb450" opacity="0.78" transform="rotate(164 554.7 125.8)"/>
<ellipse cx="494.7" cy="95.8" rx="3.2" ry="2.6" fill="#109838" opacity="0.43" transform="rotate(46 494.7 95.8)"/>
<ellipse cx="505.9" cy="168.9" rx="7.6" ry="1.4" fill="#1cb450" opacity="0.61" transform="rotate(151 505.9 168.9)"/>
<ellipse cx="528.0" cy="193.4" rx="2.8" ry="2.3" fill="#18b090" opacity="0.37" transform="rotate(132 528.0 193.4)"/>
<ellipse cx="489.6" cy="93.6" rx="3.6" ry="2.4" fill="#18b090" opacity="0.52" transform="rotate(57 489.6 93.6)"/>
<ellipse cx="571.0" cy="263.6" rx="4.6" ry="1.6" fill="#18b090" opacity="0.56" transform="rotate(129 571.0 263.6)"/>
<ellipse cx="393.6" cy="64.6" rx="7.0" ry="2.0" fill="#109838" opacity="0.35" transform="rotate(129 393.6 64.6)"/>
<ellipse cx="524.5" cy="72.2" rx="3.3" ry="2.5" fill="#0c8030" opacity="0.76" transform="rotate(174 524.5 72.2)"/>
<ellipse cx="421.2" cy="52.5" rx="6.4" ry="1.9" fill="#1cb450" opacity="0.63" transform="rotate(31 421.2 52.5)"/>
<ellipse cx="409.2" cy="157.0" rx="4.4" ry="2.4" fill="#0c8030" opacity="0.76" transform="rotate(178 409.2 157.0)"/>
<ellipse cx="483.0" cy="257.0" rx="7.8" ry="1.3" fill="#18b090" opacity="0.56" transform="rotate(146 483.0 257.0)"/>
<ellipse cx="415.1" cy="54.8" rx="5.9" ry="1.9" fill="#14a040" opacity="0.64" transform="rotate(65 415.1 54.8)"/>
<ellipse cx="537.6" cy="281.0" rx="5.8" ry="2.1" fill="#0c8030" opacity="0.80" transform="rotate(153 537.6 281.0)"/>
<ellipse cx="542.7" cy="145.7" rx="5.5" ry="2.0" fill="#14a040" opacity="0.80" transform="rotate(165 542.7 145.7)"/>
<ellipse cx="528.0" cy="270.2" rx="7.3" ry="1.5" fill="#18b090" opacity="0.68" transform="rotate(104 528.0 270.2)"/>
<ellipse cx="594.6" cy="177.8" rx="6.9" ry="1.8" fill="#109838" opacity="0.61" transform="rotate(61 594.6 177.8)"/>
<ellipse cx="501.2" cy="102.6" rx="4.2" ry="2.8" fill="#1cb450" opacity="0.50" transform="rotate(161 501.2 102.6)"/>
<ellipse cx="505.3" cy="157.7" rx="4.5" ry="2.6" fill="#1cb450" opacity="0.78" transform="rotate(73 505.3 157.7)"/>
<ellipse cx="502.1" cy="86.9" rx="6.6" ry="1.5" fill="#109838" opacity="0.46" transform="rotate(10 502.1 86.9)"/>
<ellipse cx="611.0" cy="129.5" rx="3.4" ry="2.1" fill="#0c8030" opacity="0.55" transform="rotate(102 611.0 129.5)"/>
<ellipse cx="556.3" cy="254.0" rx="5.3" ry="1.4" fill="#18b090" opacity="0.52" transform="rotate(48 556.3 254.0)"/>
<ellipse cx="554.0" cy="80.4" rx="3.7" ry="2.7" fill="#0c8030" opacity="0.54" transform="rotate(54 554.0 80.4)"/>
<ellipse cx="434.9" cy="193.7" rx="7.6" ry="2.3" fill="#1cb450" opacity="0.39" transform="rotate(46 434.9 193.7)"/>
<ellipse cx="501.1" cy="52.4" rx="5.3" ry="2.2" fill="#109838" opacity="0.67" transform="rotate(124 501.1 52.4)"/>
<ellipse cx="512.9" cy="170.4" rx="3.2" ry="2.1" fill="#18b090" opacity="0.74" transform="rotate(152 512.9 170.4)"/>
<ellipse cx="423.5" cy="173.3" rx="2.7" ry="1.5" fill="#18b090" opacity="0.66" transform="rotate(95 423.5 173.3)"/>
<ellipse cx="582.1" cy="89.1" rx="4.3" ry="2.2" fill="#0c8030" opacity="0.41" transform="rotate(139 582.1 89.1)"/>
<ellipse cx="519.3" cy="79.8" rx="6.3" ry="1.9" fill="#14a040" opacity="0.70" transform="rotate(53 519.3 79.8)"/>
<ellipse cx="493.5" cy="128.7" rx="3.1" ry="2.1" fill="#0c8030" opacity="0.57" transform="rotate(16 493.5 128.7)"/>
<ellipse cx="566.4" cy="225.0" rx="4.3" ry="1.4" fill="#1cb450" opacity="0.47" transform="rotate(70 566.4 225.0)"/>
<ellipse cx="427.2" cy="131.3" rx="2.7" ry="2.2" fill="#18b090" opacity="0.54" transform="rotate(89 427.2 131.3)"/>
<ellipse cx="563.9" cy="257.5" rx="3.5" ry="2.3" fill="#18b090" opacity="0.36" transform="rotate(77 563.9 257.5)"/>
<ellipse cx="541.6" cy="132.0" rx="6.4" ry="1.6" fill="#109838" opacity="0.46" transform="rotate(42 541.6 132.0)"/>
<ellipse cx="425.1" cy="105.3" rx="7.6" ry="2.7" fill="#14a040" opacity="0.72" transform="rotate(97 425.1 105.3)"/>
<ellipse cx="602.0" cy="161.9" rx="4.1" ry="2.8" fill="#1cb450" opacity="0.74" transform="rotate(8 602.0 161.9)"/>
<ellipse cx="412.0" cy="58.1" rx="4.9" ry="2.2" fill="#109838" opacity="0.39" transform="rotate(111 412.0 58.1)"/>
<ellipse cx="499.1" cy="225.1" rx="3.0" ry="1.7" fill="#18b090" opacity="0.72" transform="rotate(133 499.1 225.1)"/>
<ellipse cx="501.9" cy="73.2" rx="4.0" ry="2.5" fill="#18b090" opacity="0.59" transform="rotate(98 501.9 73.2)"/>
<ellipse cx="581.4" cy="219.9" rx="3.7" ry="1.7" fill="#18b090" opacity="0.73" transform="rotate(36 581.4 219.9)"/>
<ellipse cx="627.1" cy="276.5" rx="4.4" ry="2.9" fill="#0c8030" opacity="0.40" transform="rotate(155 627.1 276.5)"/>
<ellipse cx="497.2" cy="108.3" rx="4.6" ry="2.1" fill="#109838" opacity="0.38" transform="rotate(177 497.2 108.3)"/>
<ellipse cx="497.3" cy="85.1" rx="3.8" ry="2.3" fill="#1cb450" opacity="0.71" transform="rotate(85 497.3 85.1)"/>
<ellipse cx="477.4" cy="181.8" rx="7.8" ry="2.3" fill="#1cb450" opacity="0.41" transform="rotate(3 477.4 181.8)"/>
<ellipse cx="514.1" cy="273.9" rx="5.0" ry="2.8" fill="#0c8030" opacity="0.36" transform="rotate(72 514.1 273.9)"/>
<ellipse cx="510.5" cy="202.5" rx="3.5" ry="1.6" fill="#109838" opacity="0.49" transform="rotate(89 510.5 202.5)"/>
<ellipse cx="605.4" cy="182.3" rx="5.1" ry="2.6" fill="#1cb450" opacity="0.47" transform="rotate(178 605.4 182.3)"/>
<ellipse cx="511.4" cy="216.1" rx="7.4" ry="2.2" fill="#1cb450" opacity="0.49" transform="rotate(166 511.4 216.1)"/>
<ellipse cx="535.8" cy="208.5" rx="5.6" ry="1.4" fill="#1cb450" opacity="0.56" transform="rotate(96 535.8 208.5)"/>
<ellipse cx="548.1" cy="247.0" rx="3.6" ry="2.0" fill="#18b090" opacity="0.56" transform="rotate(15 548.1 247.0)"/>
<ellipse cx="501.0" cy="217.1" rx="3.2" ry="2.5" fill="#109838" opacity="0.66" transform="rotate(112 501.0 217.1)"/>
<ellipse cx="527.4" cy="283.9" rx="2.9" ry="1.4" fill="#109838" opacity="0.40" transform="rotate(76 527.4 283.9)"/>
<ellipse cx="574.6" cy="175.5" rx="5.5" ry="2.3" fill="#1cb450" opacity="0.76" transform="rotate(29 574.6 175.5)"/>
<ellipse cx="572.3" cy="84.0" rx="3.6" ry="1.7" fill="#109838" opacity="0.62" transform="rotate(78 572.3 84.0)"/>
<ellipse cx="411.3" cy="58.3" rx="4.4" ry="1.6" fill="#0c8030" opacity="0.44" transform="rotate(152 411.3 58.3)"/>
<ellipse cx="629.3" cy="143.0" rx="3.0" ry="1.3" fill="#18b090" opacity="0.42" transform="rotate(149 629.3 143.0)"/>
<ellipse cx="445.7" cy="164.5" rx="5.9" ry="2.3" fill="#0c8030" opacity="0.48" transform="rotate(164 445.7 164.5)"/>
<ellipse cx="467.1" cy="181.9" rx="3.6" ry="1.9" fill="#109838" opacity="0.75" transform="rotate(134 467.1 181.9)"/>
<ellipse cx="636.4" cy="102.9" rx="6.1" ry="2.3" fill="#14a040" opacity="0.70" transform="rotate(56 636.4 102.9)"/>
<ellipse cx="600.6" cy="101.0" rx="3.1" ry="2.1" fill="#109838" opacity="0.75" transform="rotate(140 600.6 101.0)"/>
<ellipse cx="613.2" cy="155.6" rx="7.6" ry="2.9" fill="#109838" opacity="0.62" transform="rotate(149 613.2 155.6)"/>
<ellipse cx="469.1" cy="60.2" rx="4.3" ry="3.0" fill="#0c8030" opacity="0.48" transform="rotate(68 469.1 60.2)"/>
<ellipse cx="550.8" cy="125.2" rx="6.5" ry="1.5" fill="#14a040" opacity="0.46" transform="rotate(41 550.8 125.2)"/>
<ellipse cx="596.9" cy="205.4" rx="5.5" ry="1.4" fill="#0c8030" opacity="0.72" transform="rotate(93 596.9 205.4)"/>
<ellipse cx="404.2" cy="57.6" rx="5.5" ry="1.8" fill="#14a040" opacity="0.61" transform="rotate(42 404.2 57.6)"/>
<ellipse cx="524.1" cy="207.1" rx="4.1" ry="2.1" fill="#0c8030" opacity="0.77" transform="rotate(103 524.1 207.1)"/>
<ellipse cx="533.8" cy="245.9" rx="6.3" ry="1.4" fill="#14a040" opacity="0.44" transform="rotate(149 533.8 245.9)"/>
<ellipse cx="450.5" cy="54.8" rx="5.7" ry="2.1" fill="#0c8030" opacity="0.70" transform="rotate(123 450.5 54.8)"/>
<ellipse cx="581.8" cy="233.7" rx="5.1" ry="1.5" fill="#109838" opacity="0.47" transform="rotate(124 581.8 233.7)"/>
<ellipse cx="459.1" cy="230.4" rx="5.5" ry="2.6" fill="#1cb450" opacity="0.49" transform="rotate(138 459.1 230.4)"/>
<ellipse cx="436.3" cy="169.3" rx="6.5" ry="2.1" fill="#109838" opacity="0.79" transform="rotate(33 436.3 169.3)"/>
<ellipse cx="408.6" cy="157.6" rx="4.6" ry="2.6" fill="#14a040" opacity="0.49" transform="rotate(16 408.6 157.6)"/>
<ellipse cx="452.4" cy="166.8" rx="4.9" ry="2.4" fill="#0c8030" opacity="0.73" transform="rotate(134 452.4 166.8)"/>
<ellipse cx="536.2" cy="260.7" rx="5.6" ry="2.0" fill="#0c8030" opacity="0.67" transform="rotate(16 536.2 260.7)"/>
<ellipse cx="607.5" cy="219.2" rx="4.7" ry="2.8" fill="#1cb450" opacity="0.42" transform="rotate(112 607.5 219.2)"/>
<ellipse cx="587.0" cy="89.3" rx="3.5" ry="1.5" fill="#109838" opacity="0.80" transform="rotate(102 587.0 89.3)"/>
<ellipse cx="409.7" cy="62.0" rx="7.9" ry="2.6" fill="#18b090" opacity="0.38" transform="rotate(164 409.7 62.0)"/>
<ellipse cx="599.6" cy="183.4" rx="4.5" ry="3.0" fill="#14a040" opacity="0.63" transform="rotate(51 599.6 183.4)"/>
<ellipse cx="447.2" cy="159.2" rx="5.8" ry="1.9" fill="#0c8030" opacity="0.66" transform="rotate(58 447.2 159.2)"/>
<ellipse cx="539.6" cy="124.6" rx="2.8" ry="2.1" fill="#18b090" opacity="0.50" transform="rotate(117 539.6 124.6)"/>
<ellipse cx="438.2" cy="278.8" rx="4.9" ry="2.1" fill="#0c8030" opacity="0.75" transform="rotate(76 438.2 278.8)"/>
<ellipse cx="451.2" cy="260.7" rx="7.6" ry="2.2" fill="#0c8030" opacity="0.79" transform="rotate(32 451.2 260.7)"/>
<ellipse cx="478.4" cy="150.6" rx="4.9" ry="1.7" fill="#18b090" opacity="0.66" transform="rotate(178 478.4 150.6)"/>
<ellipse cx="538.3" cy="228.2" rx="8.0" ry="2.2" fill="#18b090" opacity="0.61" transform="rotate(71 538.3 228.2)"/>
<ellipse cx="557.7" cy="134.4" rx="7.7" ry="1.5" fill="#14a040" opacity="0.51" transform="rotate(134 557.7 134.4)"/>
<ellipse cx="597.5" cy="81.0" rx="7.0" ry="2.9" fill="#14a040" opacity="0.71" transform="rotate(50 597.5 81.0)"/>
<ellipse cx="412.0" cy="268.8" rx="2.6" ry="2.0" fill="#14a040" opacity="0.66" transform="rotate(30 412.0 268.8)"/>
<ellipse cx="448.3" cy="267.6" rx="7.8" ry="2.8" fill="#109838" opacity="0.62" transform="rotate(117 448.3 267.6)"/>
<ellipse cx="485.9" cy="125.2" rx="4.5" ry="2.1" fill="#18b090" opacity="0.77" transform="rotate(130 485.9 125.2)"/>
<ellipse cx="464.1" cy="104.7" rx="6.6" ry="1.5" fill="#109838" opacity="0.61" transform="rotate(88 464.1 104.7)"/>
<ellipse cx="487.5" cy="129.3" rx="4.3" ry="2.5" fill="#14a040" opacity="0.45" transform="rotate(72 487.5 129.3)"/>
<ellipse cx="526.2" cy="139.3" rx="8.0" ry="2.2" fill="#18b090" opacity="0.55" transform="rotate(60 526.2 139.3)"/>
<ellipse cx="584.2" cy="103.3" rx="6.6" ry="1.4" fill="#14a040" opacity="0.40" transform="rotate(178 584.2 103.3)"/>
<ellipse cx="511.6" cy="279.7" rx="3.9" ry="2.1" fill="#18b090" opacity="0.50" transform="rotate(138 511.6 279.7)"/>
<ellipse cx="468.6" cy="66.0" rx="5.5" ry="1.7" fill="#18b090" opacity="0.70" transform="rotate(126 468.6 66.0)"/>
<ellipse cx="412.6" cy="269.2" rx="3.0" ry="1.8" fill="#0c8030" opacity="0.60" transform="rotate(40 412.6 269.2)"/>
<ellipse cx="420.5" cy="269.3" rx="7.0" ry="1.3" fill="#18b090" opacity="0.47" transform="rotate(170 420.5 269.3)"/>
<ellipse cx="559.8" cy="135.6" rx="4.7" ry="1.8" fill="#1cb450" opacity="0.66" transform="rotate(139 559.8 135.6)"/>
<ellipse cx="456.5" cy="55.8" rx="7.1" ry="2.1" fill="#1cb450" opacity="0.35" transform="rotate(39 456.5 55.8)"/>
<ellipse cx="429.3" cy="43.5" rx="5.0" ry="1.8" fill="#18b090" opacity="0.36" transform="rotate(105 429.3 43.5)"/>
<ellipse cx="502.5" cy="142.9" rx="6.3" ry="1.5" fill="#1cb450" opacity="0.60" transform="rotate(77 502.5 142.9)"/>
<ellipse cx="524.1" cy="277.0" rx="6.7" ry="2.6" fill="#0c8030" opacity="0.57" transform="rotate(77 524.1 277.0)"/>
<ellipse cx="408.6" cy="266.1" rx="7.5" ry="1.5" fill="#109838" opacity="0.69" transform="rotate(71 408.6 266.1)"/>
<ellipse cx="431.8" cy="123.8" rx="2.6" ry="2.6" fill="#109838" opacity="0.37" transform="rotate(132 431.8 123.8)"/>
<ellipse cx="564.0" cy="272.6" rx="2.6" ry="1.3" fill="#109838" opacity="0.56" transform="rotate(91 564.0 272.6)"/>
<ellipse cx="567.0" cy="208.8" rx="3.5" ry="2.6" fill="#109838" opacity="0.48" transform="rotate(12 567.0 208.8)"/>
<ellipse cx="562.2" cy="155.5" rx="6.0" ry="2.7" fill="#18b090" opacity="0.53" transform="rotate(102 562.2 155.5)"/>
<ellipse cx="515.1" cy="232.6" rx="3.6" ry="2.3" fill="#0c8030" opacity="0.59" transform="rotate(15 515.1 232.6)"/>
<ellipse cx="448.0" cy="136.9" rx="3.9" ry="1.9" fill="#0c8030" opacity="0.55" transform="rotate(110 448.0 136.9)"/>
<ellipse cx="496.5" cy="130.5" rx="7.5" ry="1.8" fill="#109838" opacity="0.49" transform="rotate(1 496.5 130.5)"/>
<ellipse cx="431.4" cy="182.1" rx="5.7" ry="2.7" fill="#14a040" opacity="0.70" transform="rotate(162 431.4 182.1)"/>
<ellipse cx="396.7" cy="251.9" rx="5.0" ry="1.8" fill="#1cb450" opacity="0.44" transform="rotate(117 396.7 251.9)"/>
<ellipse cx="550.2" cy="46.0" rx="5.4" ry="2.4" fill="#14a040" opacity="0.71" transform="rotate(66 550.2 46.0)"/>
<ellipse cx="584.3" cy="248.4" rx="3.3" ry="1.8" fill="#14a040" opacity="0.71" transform="rotate(163 584.3 248.4)"/>
<ellipse cx="421.8" cy="272.4" rx="4.1" ry="2.7" fill="#0c8030" opacity="0.72" transform="rotate(169 421.8 272.4)"/>
<ellipse cx="562.5" cy="275.7" rx="7.5" ry="2.7" fill="#109838" opacity="0.57" transform="rotate(136 562.5 275.7)"/>
<ellipse cx="464.2" cy="169.7" rx="7.6" ry="2.3" fill="#14a040" opacity="0.79" transform="rotate(81 464.2 169.7)"/>
<ellipse cx="406.8" cy="244.2" rx="4.6" ry="1.6" fill="#0c8030" opacity="0.74" transform="rotate(12 406.8 244.2)"/>
<ellipse cx="511.1" cy="216.1" rx="2.9" ry="1.4" fill="#1cb450" opacity="0.66" transform="rotate(156 511.1 216.1)"/>
<ellipse cx="437.8" cy="158.3" rx="3.6" ry="2.2" fill="#109838" opacity="0.73" transform="rotate(137 437.8 158.3)"/>
<ellipse cx="436.5" cy="275.0" rx="3.8" ry="1.6" fill="#0c8030" opacity="0.61" transform="rotate(8 436.5 275.0)"/>
<ellipse cx="617.6" cy="109.8" rx="4.6" ry="2.0" fill="#18b090" opacity="0.68" transform="rotate(115 617.6 109.8)"/>
<ellipse cx="580.8" cy="233.9" rx="6.1" ry="2.5" fill="#1cb450" opacity="0.68" transform="rotate(52 580.8 233.9)"/>
<ellipse cx="424.4" cy="172.6" rx="6.3" ry="2.0" fill="#14a040" opacity="0.42" transform="rotate(32 424.4 172.6)"/>
<ellipse cx="594.3" cy="241.3" rx="4.2" ry="1.5" fill="#109838" opacity="0.53" transform="rotate(44 594.3 241.3)"/>
<ellipse cx="477.9" cy="95.2" rx="3.5" ry="2.5" fill="#109838" opacity="0.75" transform="rotate(166 477.9 95.2)"/>
<ellipse cx="586.4" cy="175.3" rx="7.6" ry="1.3" fill="#0c8030" opacity="0.56" transform="rotate(74 586.4 175.3)"/>
<ellipse cx="430.7" cy="98.1" rx="4.5" ry="2.0" fill="#18b090" opacity="0.38" transform="rotate(174 430.7 98.1)"/>
<ellipse cx="478.5" cy="256.5" rx="2.8" ry="2.3" fill="#1cb450" opacity="0.46" transform="rotate(15 478.5 256.5)"/>
<ellipse cx="595.8" cy="78.2" rx="6.6" ry="2.9" fill="#0c8030" opacity="0.49" transform="rotate(44 595.8 78.2)"/>
<ellipse cx="630.9" cy="87.0" rx="2.8" ry="2.4" fill="#14a040" opacity="0.72" transform="rotate(133 630.9 87.0)"/>
<ellipse cx="572.5" cy="147.1" rx="6.4" ry="1.6" fill="#0c8030" opacity="0.37" transform="rotate(152 572.5 147.1)"/>
<ellipse cx="440.1" cy="217.3" rx="4.8" ry="2.2" fill="#1cb450" opacity="0.36" transform="rotate(125 440.1 217.3)"/>
<ellipse cx="622.1" cy="55.3" rx="7.6" ry="2.1" fill="#0c8030" opacity="0.41" transform="rotate(87 622.1 55.3)"/>
<ellipse cx="512.8" cy="57.0" rx="5.3" ry="1.3" fill="#1cb450" opacity="0.52" transform="rotate(124 512.8 57.0)"/>
<ellipse cx="618.4" cy="97.7" rx="7.0" ry="2.8" fill="#18b090" opacity="0.59" transform="rotate(19 618.4 97.7)"/>
<ellipse cx="501.4" cy="53.8" rx="7.2" ry="2.5" fill="#18b090" opacity="0.59" transform="rotate(47 501.4 53.8)"/>
<ellipse cx="490.2" cy="58.5" rx="3.4" ry="2.2" fill="#18b090" opacity="0.80" transform="rotate(116 490.2 58.5)"/>
<ellipse cx="403.1" cy="176.7" rx="3.1" ry="1.7" fill="#18b090" opacity="0.50" transform="rotate(137 403.1 176.7)"/>
<ellipse cx="525.4" cy="83.5" rx="4.1" ry="2.5" fill="#14a040" opacity="0.51" transform="rotate(71 525.4 83.5)"/>
<ellipse cx="566.6" cy="143.2" rx="7.3" ry="2.5" fill="#14a040" opacity="0.59" transform="rotate(98 566.6 143.2)"/>
<ellipse cx="401.2" cy="271.5" rx="6.9" ry="1.9" fill="#14a040" opacity="0.64" transform="rotate(113 401.2 271.5)"/>
<ellipse cx="493.6" cy="79.3" rx="5.2" ry="2.6" fill="#14a040" opacity="0.67" transform="rotate(42 493.6 79.3)"/>
<ellipse cx="466.5" cy="71.2" rx="7.8" ry="2.6" fill="#1cb450" opacity="0.68" transform="rotate(139 466.5 71.2)"/>
<ellipse cx="632.0" cy="166.4" rx="6.7" ry="2.8" fill="#18b090" opacity="0.43" transform="rotate(81 632.0 166.4)"/>
<ellipse cx="621.7" cy="170.0" rx="5.3" ry="1.4" fill="#14a040" opacity="0.75" transform="rotate(125 621.7 170.0)"/>
<ellipse cx="528.3" cy="289.0" rx="2.8" ry="2.7" fill="#1cb450" opacity="0.44" transform="rotate(161 528.3 289.0)"/>
<ellipse cx="435.2" cy="243.9" rx="7.1" ry="1.6" fill="#18b090" opacity="0.64" transform="rotate(128 435.2 243.9)"/>
<ellipse cx="624.1" cy="116.1" rx="5.3" ry="2.1" fill="#109838" opacity="0.56" transform="rotate(83 624.1 116.1)"/>
<ellipse cx="454.5" cy="80.4" rx="7.5" ry="2.9" fill="#109838" opacity="0.46" transform="rotate(11 454.5 80.4)"/>
<ellipse cx="552.5" cy="182.0" rx="3.3" ry="2.6" fill="#0c8030" opacity="0.56" transform="rotate(21 552.5 182.0)"/>
<ellipse cx="464.8" cy="254.6" rx="4.1" ry="1.6" fill="#0c8030" opacity="0.38" transform="rotate(15 464.8 254.6)"/>
<ellipse cx="523.5" cy="60.9" rx="6.9" ry="2.5" fill="#14a040" opacity="0.79" transform="rotate(112 523.5 60.9)"/>
<ellipse cx="610.8" cy="153.3" rx="4.6" ry="2.6" fill="#109838" opacity="0.47" transform="rotate(22 610.8 153.3)"/>
<ellipse cx="557.5" cy="138.0" rx="3.6" ry="2.9" fill="#14a040" opacity="0.72" transform="rotate(135 557.5 138.0)"/>
<ellipse cx="568.4" cy="98.0" rx="4.6" ry="1.4" fill="#18b090" opacity="0.47" transform="rotate(40 568.4 98.0)"/>
<ellipse cx="451.0" cy="46.8" rx="7.5" ry="2.6" fill="#14a040" opacity="0.61" transform="rotate(102 451.0 46.8)"/>
<ellipse cx="475.5" cy="100.4" rx="7.9" ry="3.0" fill="#18b090" opacity="0.43" transform="rotate(83 475.5 100.4)"/>
<ellipse cx="477.0" cy="142.1" rx="7.7" ry="1.9" fill="#18b090" opacity="0.75" transform="rotate(49 477.0 142.1)"/>
<ellipse cx="416.4" cy="74.3" rx="5.0" ry="2.2" fill="#0c8030" opacity="0.77" transform="rotate(167 416.4 74.3)"/>
<ellipse cx="470.5" cy="58.5" rx="7.2" ry="1.8" fill="#1cb450" opacity="0.60" transform="rotate(175 470.5 58.5)"/>
<ellipse cx="500.6" cy="216.1" rx="6.2" ry="1.4" fill="#109838" opacity="0.70" transform="rotate(168 500.6 216.1)"/>
<ellipse cx="621.8" cy="249.7" rx="2.6" ry="1.9" fill="#109838" opacity="0.63" transform="rotate(86 621.8 249.7)"/>
<ellipse cx="532.3" cy="140.0" rx="2.7" ry="3.0" fill="#0c8030" opacity="0.59" transform="rotate(109 532.3 140.0)"/>
<ellipse cx="410.5" cy="84.4" rx="3.2" ry="1.9" fill="#0c8030" opacity="0.57" transform="rotate(100 410.5 84.4)"/>
<ellipse cx="565.0" cy="145.7" rx="6.6" ry="1.9" fill="#0c8030" opacity="0.58" transform="rotate(37 565.0 145.7)"/>
<ellipse cx="567.2" cy="158.3" rx="6.7" ry="1.8" fill="#1cb450" opacity="0.51" transform="rotate(54 567.2 158.3)"/>
<ellipse cx="527.1" cy="284.2" rx="3.5" ry="2.2" fill="#18b090" opacity="0.69" transform="rotate(17 527.1 284.2)"/>
<ellipse cx="512.5" cy="227.2" rx="4.6" ry="2.8" fill="#109838" opacity="0.40" transform="rotate(178 512.5 227.2)"/>
<ellipse cx="513.1" cy="50.4" rx="4.9" ry="2.1" fill="#0c8030" opacity="0.70" transform="rotate(55 513.1 50.4)"/>
<ellipse cx="578.8" cy="146.7" rx="2.8" ry="2.3" fill="#1cb450" opacity="0.39" transform="rotate(51 578.8 146.7)"/>
<ellipse cx="443.1" cy="40.8" rx="5.1" ry="1.8" fill="#0c8030" opacity="0.51" transform="rotate(31 443.1 40.8)"/>
<ellipse cx="632.4" cy="255.4" rx="6.8" ry="2.3" fill="#0c8030" opacity="0.74" transform="rotate(114 632.4 255.4)"/>
<ellipse cx="574.8" cy="143.9" rx="4.7" ry="2.6" fill="#0c8030" opacity="0.37" transform="rotate(130 574.8 143.9)"/>
<ellipse cx="600.5" cy="262.3" rx="5.1" ry="2.3" fill="#109838" opacity="0.62" transform="rotate(76 600.5 262.3)"/>
<ellipse cx="565.7" cy="133.9" rx="6.8" ry="2.1" fill="#1cb450" opacity="0.36" transform="rotate(101 565.7 133.9)"/>
<ellipse cx="516.7" cy="55.7" rx="5.9" ry="1.6" fill="#0c8030" opacity="0.63" transform="rotate(10 516.7 55.7)"/>
<ellipse cx="449.4" cy="106.0" rx="6.5" ry="2.2" fill="#1cb450" opacity="0.41" transform="rotate(64 449.4 106.0)"/>
<ellipse cx="571.4" cy="246.9" rx="5.2" ry="1.4" fill="#18b090" opacity="0.67" transform="rotate(140 571.4 246.9)"/>
<ellipse cx="429.5" cy="184.5" rx="4.7" ry="2.9" fill="#14a040" opacity="0.39" transform="rotate(173 429.5 184.5)"/>
<ellipse cx="555.7" cy="96.1" rx="7.7" ry="1.6" fill="#109838" opacity="0.78" transform="rotate(115 555.7 96.1)"/>
<ellipse cx="562.9" cy="276.2" rx="3.9" ry="2.3" fill="#0c8030" opacity="0.45" transform="rotate(113 562.9 276.2)"/>
<ellipse cx="487.2" cy="119.8" rx="5.5" ry="2.8" fill="#1cb450" opacity="0.71" transform="rotate(24 487.2 119.8)"/>
<ellipse cx="411.5" cy="64.9" rx="6.2" ry="2.2" fill="#0c8030" opacity="0.63" transform="rotate(101 411.5 64.9)"/>
<ellipse cx="551.1" cy="52.7" rx="5.2" ry="1.4" fill="#1cb450" opacity="0.61" transform="rotate(46 551.1 52.7)"/>
<ellipse cx="588.5" cy="276.0" rx="3.3" ry="2.0" fill="#0c8030" opacity="0.61" transform="rotate(174 588.5 276.0)"/>
<ellipse cx="584.9" cy="202.4" rx="4.2" ry="1.3" fill="#109838" opacity="0.57" transform="rotate(12 584.9 202.4)"/>
<ellipse cx="604.3" cy="235.1" rx="6.5" ry="2.7" fill="#109838" opacity="0.57" transform="rotate(84 604.3 235.1)"/>
<ellipse cx="445.6" cy="188.9" rx="4.4" ry="1.9" fill="#109838" opacity="0.68" transform="rotate(20 445.6 188.9)"/>
<ellipse cx="532.6" cy="56.9" rx="4.9" ry="2.1" fill="#14a040" opacity="0.46" transform="rotate(53 532.6 56.9)"/>
<ellipse cx="409.8" cy="83.2" rx="7.5" ry="2.5" fill="#18b090" opacity="0.68" transform="rotate(131 409.8 83.2)"/>
<ellipse cx="453.4" cy="157.2" rx="7.7" ry="2.3" fill="#109838" opacity="0.38" transform="rotate(54 453.4 157.2)"/>
<ellipse cx="556.4" cy="95.9" rx="6.0" ry="2.7" fill="#109838" opacity="0.43" transform="rotate(0 556.4 95.9)"/>
<ellipse cx="414.7" cy="102.1" rx="5.1" ry="1.5" fill="#18b090" opacity="0.79" transform="rotate(20 414.7 102.1)"/>
<ellipse cx="431.0" cy="265.3" rx="5.9" ry="2.5" fill="#0c8030" opacity="0.47" transform="rotate(91 431.0 265.3)"/>
<ellipse cx="564.9" cy="145.7" rx="7.2" ry="1.4" fill="#14a040" opacity="0.79" transform="rotate(85 564.9 145.7)"/>
<ellipse cx="597.5" cy="225.7" rx="7.6" ry="1.6" fill="#18b090" opacity="0.75" transform="rotate(41 597.5 225.7)"/>
<ellipse cx="610.8" cy="130.7" rx="2.8" ry="1.8" fill="#14a040" opacity="0.69" transform="rotate(23 610.8 130.7)"/>
<ellipse cx="450.6" cy="281.2" rx="3.3" ry="2.4" fill="#0c8030" opacity="0.39" transform="rotate(31 450.6 281.2)"/>
<ellipse cx="528.4" cy="264.3" rx="6.5" ry="1.8" fill="#14a040" opacity="0.78" transform="rotate(50 528.4 264.3)"/>
<ellipse cx="416.2" cy="259.6" rx="2.8" ry="1.5" fill="#18b090" opacity="0.72" transform="rotate(70 416.2 259.6)"/>
<ellipse cx="433.3" cy="52.2" rx="4.0" ry="2.8" fill="#14a040" opacity="0.36" transform="rotate(15 433.3 52.2)"/>
<ellipse cx="450.2" cy="162.9" rx="7.5" ry="2.4" fill="#0c8030" opacity="0.39" transform="rotate(91 450.2 162.9)"/>
<ellipse cx="609.6" cy="173.7" rx="8.0" ry="2.4" fill="#109838" opacity="0.60" transform="rotate(7 609.6 173.7)"/>
<ellipse cx="583.2" cy="245.5" rx="2.9" ry="1.4" fill="#14a040" opacity="0.74" transform="rotate(58 583.2 245.5)"/>
<ellipse cx="528.6" cy="164.5" rx="4.3" ry="1.4" fill="#14a040" opacity="0.35" transform="rotate(31 528.6 164.5)"/>
<ellipse cx="420.5" cy="164.5" rx="6.3" ry="2.7" fill="#0c8030" opacity="0.73" transform="rotate(34 420.5 164.5)"/>
<ellipse cx="422.1" cy="267.3" rx="3.3" ry="2.9" fill="#14a040" opacity="0.80" transform="rotate(79 422.1 267.3)"/>
<ellipse cx="627.4" cy="240.4" rx="4.5" ry="1.8" fill="#0c8030" opacity="0.41" transform="rotate(1 627.4 240.4)"/>
<ellipse cx="501.9" cy="141.0" rx="3.1" ry="2.0" fill="#14a040" opacity="0.80" transform="rotate(126 501.9 141.0)"/>
<ellipse cx="542.6" cy="199.0" rx="3.0" ry="2.1" fill="#18b090" opacity="0.59" transform="rotate(51 542.6 199.0)"/>
<ellipse cx="556.1" cy="134.4" rx="4.4" ry="1.3" fill="#1cb450" opacity="0.37" transform="rotate(38 556.1 134.4)"/>
<ellipse cx="628.0" cy="84.2" rx="7.1" ry="2.3" fill="#109838" opacity="0.56" transform="rotate(79 628.0 84.2)"/>
<ellipse cx="448.3" cy="271.6" rx="5.0" ry="1.5" fill="#18b090" opacity="0.44" transform="rotate(45 448.3 271.6)"/>
<ellipse cx="414.6" cy="73.5" rx="3.6" ry="2.8" fill="#14a040" opacity="0.45" transform="rotate(104 414.6 73.5)"/>
<ellipse cx="503.4" cy="126.6" rx="3.4" ry="1.6" fill="#14a040" opacity="0.41" transform="rotate(166 503.4 126.6)"/>
<ellipse cx="559.5" cy="247.0" rx="4.6" ry="1.3" fill="#14a040" opacity="0.36" transform="rotate(32 559.5 247.0)"/>
<ellipse cx="570.8" cy="57.6" rx="4.3" ry="2.8" fill="#0c8030" opacity="0.41" transform="rotate(58 570.8 57.6)"/>
<ellipse cx="421.5" cy="203.4" rx="2.8" ry="2.0" fill="#1cb450" opacity="0.40" transform="rotate(109 421.5 203.4)"/>
<ellipse cx="592.0" cy="129.1" rx="3.0" ry="1.9" fill="#1cb450" opacity="0.68" transform="rotate(23 592.0 129.1)"/>
<ellipse cx="466.3" cy="231.2" rx="4.7" ry="3.0" fill="#1cb450" opacity="0.74" transform="rotate(20 466.3 231.2)"/>
<ellipse cx="452.6" cy="71.0" rx="7.9" ry="2.4" fill="#14a040" opacity="0.75" transform="rotate(110 452.6 71.0)"/>
<ellipse cx="460.5" cy="229.2" rx="2.6" ry="2.6" fill="#1cb450" opacity="0.49" transform="rotate(169 460.5 229.2)"/>
<ellipse cx="465.1" cy="98.5" rx="5.4" ry="2.7" fill="#14a040" opacity="0.53" transform="rotate(165 465.1 98.5)"/>
<ellipse cx="495.9" cy="155.6" rx="6.5" ry="2.5" fill="#18b090" opacity="0.64" transform="rotate(132 495.9 155.6)"/>
<ellipse cx="542.6" cy="39.5" rx="5.1" ry="2.8" fill="#1cb450" opacity="0.69" transform="rotate(11 542.6 39.5)"/>
<ellipse cx="428.4" cy="85.0" rx="7.8" ry="2.2" fill="#0c8030" opacity="0.52" transform="rotate(112 428.4 85.0)"/>
<ellipse cx="396.8" cy="252.3" rx="7.3" ry="2.9" fill="#0c8030" opacity="0.39" transform="rotate(124 396.8 252.3)"/>
<ellipse cx="612.5" cy="266.7" rx="4.5" ry="2.8" fill="#109838" opacity="0.41" transform="rotate(106 612.5 266.7)"/>
<ellipse cx="578.5" cy="159.5" rx="5.0" ry="1.8" fill="#0c8030" opacity="0.52" transform="rotate(168 578.5 159.5)"/>
<ellipse cx="481.3" cy="44.4" rx="7.7" ry="1.8" fill="#0c8030" opacity="0.41" transform="rotate(12 481.3 44.4)"/>
<ellipse cx="422.4" cy="270.3" rx="7.4" ry="2.9" fill="#1cb450" opacity="0.61" transform="rotate(141 422.4 270.3)"/>
<ellipse cx="599.9" cy="66.5" rx="4.9" ry="2.8" fill="#1cb450" opacity="0.63" transform="rotate(68 599.9 66.5)"/>
<ellipse cx="473.1" cy="56.7" rx="2.8" ry="2.8" fill="#0c8030" opacity="0.80" transform="rotate(116 473.1 56.7)"/>
<ellipse cx="420.3" cy="247.5" rx="6.6" ry="2.6" fill="#18b090" opacity="0.38" transform="rotate(16 420.3 247.5)"/>
<ellipse cx="531.8" cy="176.9" rx="3.8" ry="1.9" fill="#0c8030" opacity="0.44" transform="rotate(15 531.8 176.9)"/>
<ellipse cx="545.4" cy="194.1" rx="4.9" ry="1.9" fill="#14a040" opacity="0.39" transform="rotate(28 545.4 194.1)"/>
<ellipse cx="572.5" cy="160.3" rx="3.9" ry="1.7" fill="#0c8030" opacity="0.37" transform="rotate(47 572.5 160.3)"/>
<ellipse cx="534.4" cy="78.2" rx="3.0" ry="1.5" fill="#0c8030" opacity="0.69" transform="rotate(128 534.4 78.2)"/>
<ellipse cx="544.4" cy="56.9" rx="4.4" ry="2.2" fill="#1cb450" opacity="0.68" transform="rotate(131 544.4 56.9)"/>
<ellipse cx="472.3" cy="69.9" rx="5.6" ry="2.0" fill="#18b090" opacity="0.64" transform="rotate(110 472.3 69.9)"/>
<ellipse cx="404.7" cy="97.3" rx="5.5" ry="2.8" fill="#14a040" opacity="0.40" transform="rotate(177 404.7 97.3)"/>
<ellipse cx="583.3" cy="256.9" rx="5.7" ry="1.4" fill="#1cb450" opacity="0.63" transform="rotate(157 583.3 256.9)"/>
<ellipse cx="552.7" cy="127.9" rx="6.0" ry="2.9" fill="#1cb450" opacity="0.75" transform="rotate(113 552.7 127.9)"/>
<ellipse cx="614.5" cy="130.9" rx="6.0" ry="1.3" fill="#1cb450" opacity="0.76" transform="rotate(118 614.5 130.9)"/>
<ellipse cx="517.7" cy="212.2" rx="3.4" ry="2.5" fill="#18b090" opacity="0.64" transform="rotate(28 517.7 212.2)"/>
<ellipse cx="483.1" cy="93.7" rx="7.3" ry="2.4" fill="#1cb450" opacity="0.62" transform="rotate(43 483.1 93.7)"/>
<ellipse cx="416.3" cy="59.6" rx="2.7" ry="2.5" fill="#1cb450" opacity="0.60" transform="rotate(94 416.3 59.6)"/>
<ellipse cx="495.2" cy="233.2" rx="5.9" ry="2.9" fill="#1cb450" opacity="0.73" transform="rotate(70 495.2 233.2)"/>
<ellipse cx="476.5" cy="130.8" rx="3.1" ry="2.6" fill="#0c8030" opacity="0.65" transform="rotate(91 476.5 130.8)"/>
<ellipse cx="526.8" cy="205.4" rx="2.7" ry="2.1" fill="#14a040" opacity="0.72" transform="rotate(144 526.8 205.4)"/>
<ellipse cx="411.6" cy="93.2" rx="5.1" ry="1.3" fill="#14a040" opacity="0.36" transform="rotate(39 411.6 93.2)"/>
<ellipse cx="410.0" cy="239.2" rx="7.5" ry="1.7" fill="#109838" opacity="0.35" transform="rotate(25 410.0 239.2)"/>
<ellipse cx="609.7" cy="178.1" rx="4.7" ry="1.8" fill="#0c8030" opacity="0.73" transform="rotate(141 609.7 178.1)"/>
<ellipse cx="639.9" cy="111.5" rx="7.8" ry="2.3" fill="#14a040" opacity="0.54" transform="rotate(137 639.9 111.5)"/>
<ellipse cx="595.7" cy="50.4" rx="2.6" ry="2.9" fill="#1cb450" opacity="0.57" transform="rotate(81 595.7 50.4)"/>
<ellipse cx="478.6" cy="98.5" rx="7.7" ry="2.0" fill="#18b090" opacity="0.77" transform="rotate(160 478.6 98.5)"/>
<ellipse cx="484.0" cy="136.5" rx="4.3" ry="1.5" fill="#109838" opacity="0.63" transform="rotate(55 484.0 136.5)"/>
<ellipse cx="421.6" cy="83.5" rx="3.1" ry="2.6" fill="#18b090" opacity="0.60" transform="rotate(52 421.6 83.5)"/>
<ellipse cx="412.1" cy="141.3" rx="7.3" ry="1.4" fill="#0c8030" opacity="0.67" transform="rotate(95 412.1 141.3)"/>
<ellipse cx="411.5" cy="134.9" rx="2.7" ry="2.7" fill="#109838" opacity="0.44" transform="rotate(127 411.5 134.9)"/>
<ellipse cx="443.0" cy="199.2" rx="3.4" ry="2.1" fill="#0c8030" opacity="0.78" transform="rotate(118 443.0 199.2)"/>
<ellipse cx="588.9" cy="159.3" rx="6.0" ry="2.2" fill="#18b090" opacity="0.67" transform="rotate(4 588.9 159.3)"/>
<ellipse cx="599.0" cy="130.3" rx="4.8" ry="2.8" fill="#14a040" opacity="0.49" transform="rotate(42 599.0 130.3)"/>
<ellipse cx="629.3" cy="84.4" rx="2.8" ry="2.3" fill="#14a040" opacity="0.49" transform="rotate(52 629.3 84.4)"/>
<ellipse cx="610.7" cy="77.1" rx="5.6" ry="1.6" fill="#1cb450" opacity="0.37" transform="rotate(86 610.7 77.1)"/>
<ellipse cx="458.3" cy="175.6" rx="3.4" ry="2.0" fill="#18b090" opacity="0.52" transform="rotate(62 458.3 175.6)"/>
<ellipse cx="532.2" cy="241.0" rx="3.8" ry="2.0" fill="#1cb450" opacity="0.53" transform="rotate(134 532.2 241.0)"/>
<ellipse cx="458.7" cy="148.0" rx="5.9" ry="2.5" fill="#1cb450" opacity="0.60" transform="rotate(121 458.7 148.0)"/>
<ellipse cx="519.8" cy="119.2" rx="5.1" ry="1.5" fill="#18b090" opacity="0.44" transform="rotate(11 519.8 119.2)"/>
<ellipse cx="403.5" cy="109.9" rx="7.3" ry="2.5" fill="#18b090" opacity="0.78" transform="rotate(109 403.5 109.9)"/>
<ellipse cx="498.0" cy="216.3" rx="4.6" ry="2.4" fill="#0c8030" opacity="0.58" transform="rotate(133 498.0 216.3)"/>
<ellipse cx="561.3" cy="274.3" rx="3.6" ry="1.7" fill="#0c8030" opacity="0.70" transform="rotate(97 561.3 274.3)"/>
<ellipse cx="433.4" cy="267.8" rx="5.6" ry="2.9" fill="#1cb450" opacity="0.55" transform="rotate(173 433.4 267.8)"/>
<ellipse cx="641.5" cy="229.7" rx="5.3" ry="2.1" fill="#1cb450" opacity="0.56" transform="rotate(23 641.5 229.7)"/>
<ellipse cx="411.3" cy="69.3" rx="5.1" ry="1.9" fill="#0c8030" opacity="0.39" transform="rotate(176 411.3 69.3)"/>
<ellipse cx="443.1" cy="173.0" rx="5.3" ry="2.1" fill="#14a040" opacity="0.37" transform="rotate(45 443.1 173.0)"/>
<ellipse cx="516.1" cy="67.4" rx="3.2" ry="2.6" fill="#0c8030" opacity="0.78" transform="rotate(133 516.1 67.4)"/>
<ellipse cx="476.8" cy="255.1" rx="3.1" ry="2.0" fill="#109838" opacity="0.67" transform="rotate(131 476.8 255.1)"/>
<ellipse cx="422.0" cy="245.2" rx="7.2" ry="2.1" fill="#0c8030" opacity="0.36" transform="rotate(98 422.0 245.2)"/>
<ellipse cx="414.3" cy="252.3" rx="3.2" ry="2.0" fill="#18b090" opacity="0.77" transform="rotate(166 414.3 252.3)"/>
<ellipse cx="420.2" cy="264.4" rx="6.0" ry="2.0" fill="#109838" opacity="0.50" transform="rotate(115 420.2 264.4)"/>
<ellipse cx="640.9" cy="90.7" rx="7.0" ry="2.8" fill="#0c8030" opacity="0.65" transform="rotate(110 640.9 90.7)"/>
<ellipse cx="501.6" cy="54.4" rx="7.1" ry="2.3" fill="#0c8030" opacity="0.49" transform="rotate(100 501.6 54.4)"/>
<ellipse cx="623.2" cy="51.1" rx="7.1" ry="2.6" fill="#18b090" opacity="0.51" transform="rotate(32 623.2 51.1)"/>
<ellipse cx="395.8" cy="146.4" rx="7.9" ry="2.8" fill="#18b090" opacity="0.76" transform="rotate(96 395.8 146.4)"/>
<ellipse cx="511.4" cy="162.2" rx="2.9" ry="2.2" fill="#14a040" opacity="0.39" transform="rotate(139 511.4 162.2)"/>
<ellipse cx="609.9" cy="254.6" rx="3.1" ry="2.1" fill="#1cb450" opacity="0.42" transform="rotate(99 609.9 254.6)"/>
<ellipse cx="511.7" cy="126.9" rx="6.1" ry="2.6" fill="#18b090" opacity="0.53" transform="rotate(137 511.7 126.9)"/>
<ellipse cx="452.1" cy="224.1" rx="6.6" ry="2.2" fill="#14a040" opacity="0.64" transform="rotate(166 452.1 224.1)"/>
<ellipse cx="580.0" cy="116.3" rx="4.9" ry="2.2" fill="#14a040" opacity="0.62" transform="rotate(52 580.0 116.3)"/>
<ellipse cx="476.8" cy="112.7" rx="3.5" ry="2.7" fill="#18b090" opacity="0.67" transform="rotate(85 476.8 112.7)"/>
<ellipse cx="542.4" cy="252.9" rx="4.0" ry="2.5" fill="#14a040" opacity="0.55" transform="rotate(88 542.4 252.9)"/>
<ellipse cx="639.8" cy="228.6" rx="5.9" ry="1.6" fill="#18b090" opacity="0.58" transform="rotate(99 639.8 228.6)"/>
<ellipse cx="483.7" cy="262.4" rx="6.0" ry="2.7" fill="#1cb450" opacity="0.56" transform="rotate(65 483.7 262.4)"/>
<ellipse cx="436.3" cy="278.8" rx="2.7" ry="2.5" fill="#1cb450" opacity="0.40" transform="rotate(118 436.3 278.8)"/>
<ellipse cx="546.1" cy="122.7" rx="3.9" ry="2.6" fill="#18b090" opacity="0.64" transform="rotate(42 546.1 122.7)"/>
<ellipse cx="630.6" cy="235.3" rx="4.6" ry="1.9" fill="#1cb450" opacity="0.47" transform="rotate(40 630.6 235.3)"/>
<ellipse cx="575.6" cy="83.2" rx="3.6" ry="1.9" fill="#18b090" opacity="0.37" transform="rotate(2 575.6 83.2)"/>
<ellipse cx="520.4" cy="243.5" rx="5.7" ry="2.4" fill="#18b090" opacity="0.40" transform="rotate(133 520.4 243.5)"/>
<ellipse cx="521.5" cy="252.3" rx="7.1" ry="2.8" fill="#109838" opacity="0.44" transform="rotate(164 521.5 252.3)"/>
<ellipse cx="442.1" cy="118.1" rx="2.8" ry="1.5" fill="#14a040" opacity="0.54" transform="rotate(180 442.1 118.1)"/>
<ellipse cx="396.3" cy="42.5" rx="5.2" ry="1.3" fill="#14a040" opacity="0.77" transform="rotate(167 396.3 42.5)"/>
<ellipse cx="453.1" cy="123.2" rx="7.7" ry="2.0" fill="#18b090" opacity="0.38" transform="rotate(89 453.1 123.2)"/>
<ellipse cx="464.0" cy="90.8" rx="5.2" ry="2.5" fill="#109838" opacity="0.54" transform="rotate(155 464.0 90.8)"/>
<ellipse cx="576.3" cy="188.1" rx="7.1" ry="2.2" fill="#109838" opacity="0.46" transform="rotate(161 576.3 188.1)"/>
<ellipse cx="450.9" cy="118.1" rx="4.2" ry="1.5" fill="#18b090" opacity="0.54" transform="rotate(91 450.9 118.1)"/>
<ellipse cx="487.0" cy="79.7" rx="4.0" ry="2.8" fill="#109838" opacity="0.68" transform="rotate(36 487.0 79.7)"/>
<ellipse cx="500.4" cy="164.4" rx="6.7" ry="2.0" fill="#1cb450" opacity="0.50" transform="rotate(177 500.4 164.4)"/>
<ellipse cx="410.4" cy="167.9" rx="5.6" ry="2.0" fill="#18b090" opacity="0.61" transform="rotate(86 410.4 167.9)"/>
<ellipse cx="583.7" cy="245.1" rx="2.6" ry="2.9" fill="#109838" opacity="0.52" transform="rotate(19 583.7 245.1)"/>
<ellipse cx="447.4" cy="149.8" rx="7.4" ry="2.5" fill="#109838" opacity="0.74" transform="rotate(29 447.4 149.8)"/>
<ellipse cx="522.0" cy="46.4" rx="4.2" ry="2.3" fill="#18b090" opacity="0.66" transform="rotate(162 522.0 46.4)"/>
<ellipse cx="403.3" cy="72.4" rx="4.0" ry="2.6" fill="#1cb450" opacity="0.47" transform="rotate(153 403.3 72.4)"/>
<ellipse cx="578.4" cy="215.0" rx="6.4" ry="2.5" fill="#14a040" opacity="0.41" transform="rotate(158 578.4 215.0)"/>
<ellipse cx="524.4" cy="269.8" rx="5.3" ry="2.1" fill="#0c8030" opacity="0.70" transform="rotate(73 524.4 269.8)"/>
<ellipse cx="434.8" cy="103.0" rx="4.4" ry="1.8" fill="#0c8030" opacity="0.49" transform="rotate(159 434.8 103.0)"/>
<ellipse cx="638.5" cy="158.0" rx="7.8" ry="2.8" fill="#18b090" opacity="0.48" transform="rotate(1 638.5 158.0)"/>
<ellipse cx="557.7" cy="156.3" rx="3.7" ry="1.9" fill="#0c8030" opacity="0.74" transform="rotate(78 557.7 156.3)"/>
<ellipse cx="560.7" cy="230.0" rx="5.4" ry="2.8" fill="#18b090" opacity="0.36" transform="rotate(65 560.7 230.0)"/>
<ellipse cx="526.8" cy="139.3" rx="3.9" ry="2.8" fill="#18b090" opacity="0.39" transform="rotate(122 526.8 139.3)"/>
<ellipse cx="422.9" cy="203.6" rx="6.0" ry="1.8" fill="#1cb450" opacity="0.68" transform="rotate(137 422.9 203.6)"/>
<ellipse cx="527.6" cy="228.9" rx="2.8" ry="2.4" fill="#109838" opacity="0.47" transform="rotate(159 527.6 228.9)"/>
<ellipse cx="561.1" cy="192.4" rx="3.2" ry="2.7" fill="#1cb450" opacity="0.64" transform="rotate(95 561.1 192.4)"/>
<ellipse cx="398.0" cy="90.5" rx="3.0" ry="2.8" fill="#14a040" opacity="0.57" transform="rotate(41 398.0 90.5)"/>
<ellipse cx="585.6" cy="82.5" rx="4.7" ry="2.3" fill="#0c8030" opacity="0.71" transform="rotate(174 585.6 82.5)"/>
<ellipse cx="452.9" cy="108.6" rx="6.1" ry="3.0" fill="#18b090" opacity="0.68" transform="rotate(47 452.9 108.6)"/>
<ellipse cx="505.9" cy="127.3" rx="6.5" ry="1.6" fill="#14a040" opacity="0.69" transform="rotate(175 505.9 127.3)"/>
<ellipse cx="615.0" cy="113.6" rx="7.7" ry="2.5" fill="#0c8030" opacity="0.44" transform="rotate(172 615.0 113.6)"/>
<ellipse cx="595.3" cy="151.4" rx="5.4" ry="1.3" fill="#1cb450" opacity="0.59" transform="rotate(34 595.3 151.4)"/>
<ellipse cx="617.4" cy="112.7" rx="6.6" ry="1.3" fill="#14a040" opacity="0.67" transform="rotate(102 617.4 112.7)"/>
<ellipse cx="468.2" cy="123.1" rx="6.1" ry="2.5" fill="#0c8030" opacity="0.78" transform="rotate(137 468.2 123.1)"/>
<ellipse cx="503.5" cy="226.4" rx="7.2" ry="2.4" fill="#109838" opacity="0.61" transform="rotate(61 503.5 226.4)"/>
<ellipse cx="543.8" cy="206.2" rx="4.5" ry="2.2" fill="#18b090" opacity="0.43" transform="rotate(149 543.8 206.2)"/>
<ellipse cx="478.0" cy="94.4" rx="3.4" ry="1.4" fill="#0c8030" opacity="0.63" transform="rotate(21 478.0 94.4)"/>
<ellipse cx="504.2" cy="91.0" rx="6.3" ry="2.1" fill="#109838" opacity="0.56" transform="rotate(24 504.2 91.0)"/>
<ellipse cx="533.7" cy="279.2" rx="3.2" ry="2.6" fill="#18b090" opacity="0.69" transform="rotate(159 533.7 279.2)"/>
<ellipse cx="504.3" cy="117.8" rx="6.7" ry="2.6" fill="#0c8030" opacity="0.54" transform="rotate(144 504.3 117.8)"/>
<ellipse cx="504.7" cy="226.6" rx="4.0" ry="1.3" fill="#0c8030" opacity="0.45" transform="rotate(159 504.7 226.6)"/>
</g>
<g filter="url(#fBlurS)">
<ellipse cx="508.9" cy="178.1" rx="7.2" ry="5.6" fill="#2e3ab4" opacity="0.95" transform="rotate(-24 508.9 178.1)"/>
<ellipse cx="445.2" cy="166.8" rx="6.4" ry="5.7" fill="#222a86" opacity="0.82" transform="rotate(-66 445.2 166.8)"/>
<ellipse cx="422.8" cy="237.2" rx="6.5" ry="4.0" fill="#3a48cf" opacity="1" transform="rotate(23 422.8 237.2)"/>
<ellipse cx="404.8" cy="170.7" rx="4.8" ry="3.2" fill="#222a86" opacity="0.82" transform="rotate(-51 404.8 170.7)"/>
<ellipse cx="511.7" cy="149.9" rx="7.0" ry="5.5" fill="#2e3ab4" opacity="0.95" transform="rotate(-11 511.7 149.9)"/>
<ellipse cx="558.9" cy="153.8" rx="5.4" ry="5.3" fill="#3a48cf" opacity="1" transform="rotate(25 558.9 153.8)"/>
<ellipse cx="569.7" cy="120.2" rx="5.2" ry="3.7" fill="#2e3ab4" opacity="0.95" transform="rotate(-68 569.7 120.2)"/>
<ellipse cx="629.3" cy="246.2" rx="4.6" ry="3.1" fill="#2e3ab4" opacity="0.95" transform="rotate(16 629.3 246.2)"/>
<ellipse cx="634.6" cy="139.7" rx="4.8" ry="4.0" fill="#222a86" opacity="0.82" transform="rotate(3 634.6 139.7)"/>
<ellipse cx="421.9" cy="124.3" rx="7.3" ry="6.5" fill="#222a86" opacity="0.82" transform="rotate(-63 421.9 124.3)"/>
<ellipse cx="425.3" cy="59.8" rx="6.8" ry="4.6" fill="#2e3ab4" opacity="0.95" transform="rotate(-19 425.3 59.8)"/>
<ellipse cx="554.5" cy="73.2" rx="5.8" ry="3.9" fill="#3a48cf" opacity="1" transform="rotate(-48 554.5 73.2)"/>
<ellipse cx="592.5" cy="117.6" rx="7.1" ry="4.8" fill="#3a48cf" opacity="1" transform="rotate(-36 592.5 117.6)"/>
<ellipse cx="636.8" cy="96.1" rx="5.3" ry="4.8" fill="#222a86" opacity="0.82" transform="rotate(-42 636.8 96.1)"/>
<ellipse cx="418.7" cy="66.9" rx="6.2" ry="4.3" fill="#222a86" opacity="0.82" transform="rotate(-15 418.7 66.9)"/>
<ellipse cx="509.1" cy="272.6" rx="6.0" ry="4.9" fill="#222a86" opacity="0.82" transform="rotate(12 509.1 272.6)"/>
<ellipse cx="437.9" cy="260.6" rx="6.9" ry="4.8" fill="#2e3ab4" opacity="0.95" transform="rotate(-56 437.9 260.6)"/>
<ellipse cx="625.1" cy="92.1" rx="7.3" ry="6.8" fill="#2e3ab4" opacity="0.95" transform="rotate(-15 625.1 92.1)"/>
<ellipse cx="569.0" cy="106.4" rx="6.9" ry="5.7" fill="#222a86" opacity="0.82" transform="rotate(-46 569.0 106.4)"/>
<ellipse cx="572.7" cy="61.9" rx="5.2" ry="4.3" fill="#2e3ab4" opacity="0.95" transform="rotate(10 572.7 61.9)"/>
<ellipse cx="467.9" cy="262.7" rx="5.2" ry="3.1" fill="#2e3ab4" opacity="0.95" transform="rotate(-48 467.9 262.7)"/>
<ellipse cx="415.6" cy="87.3" rx="5.6" ry="4.6" fill="#222a86" opacity="0.82" transform="rotate(-62 415.6 87.3)"/>
<ellipse cx="613.3" cy="277.7" rx="6.4" ry="5.6" fill="#222a86" opacity="0.82" transform="rotate(-17 613.3 277.7)"/>
<ellipse cx="409.6" cy="49.8" rx="7.1" ry="6.2" fill="#222a86" opacity="0.82" transform="rotate(21 409.6 49.8)"/>
<ellipse cx="639.1" cy="63.4" rx="6.1" ry="5.4" fill="#2e3ab4" opacity="0.95" transform="rotate(15 639.1 63.4)"/>
<ellipse cx="568.7" cy="233.4" rx="7.2" ry="5.3" fill="#3a48cf" opacity="1" transform="rotate(-6 568.7 233.4)"/>
<ellipse cx="589.4" cy="250.0" rx="6.2" ry="5.2" fill="#2e3ab4" opacity="0.95" transform="rotate(-37 589.4 250.0)"/>
<ellipse cx="546.2" cy="64.6" rx="6.4" ry="6.2" fill="#2e3ab4" opacity="0.95" transform="rotate(13 546.2 64.6)"/>
<ellipse cx="493.7" cy="219.6" rx="6.2" ry="4.8" fill="#222a86" opacity="0.82" transform="rotate(9 493.7 219.6)"/>
<ellipse cx="579.8" cy="52.7" rx="6.3" ry="4.9" fill="#2e3ab4" opacity="0.95" transform="rotate(-52 579.8 52.7)"/>
<ellipse cx="519.6" cy="191.1" rx="7.2" ry="5.0" fill="#222a86" opacity="0.82" transform="rotate(-74 519.6 191.1)"/>
<ellipse cx="562.7" cy="93.5" rx="5.1" ry="4.8" fill="#2e3ab4" opacity="0.95" transform="rotate(-9 562.7 93.5)"/>
<ellipse cx="613.5" cy="123.0" rx="6.5" ry="4.4" fill="#3a48cf" opacity="1" transform="rotate(-32 613.5 123.0)"/>
<ellipse cx="540.0" cy="120.5" rx="5.0" ry="3.9" fill="#3a48cf" opacity="1" transform="rotate(9 540.0 120.5)"/>
<ellipse cx="570.5" cy="270.5" rx="5.4" ry="3.6" fill="#222a86" opacity="0.82" transform="rotate(-30 570.5 270.5)"/>
<ellipse cx="452.2" cy="143.6" rx="6.4" ry="5.0" fill="#3a48cf" opacity="1" transform="rotate(-43 452.2 143.6)"/>
<ellipse cx="635.0" cy="152.7" rx="4.8" ry="2.9" fill="#222a86" opacity="0.82" transform="rotate(12 635.0 152.7)"/>
<ellipse cx="569.9" cy="180.7" rx="5.5" ry="4.9" fill="#222a86" opacity="0.82" transform="rotate(-73 569.9 180.7)"/>
<ellipse cx="509.5" cy="51.5" rx="6.9" ry="4.8" fill="#222a86" opacity="0.82" transform="rotate(-61 509.5 51.5)"/>
<ellipse cx="551.2" cy="200.6" rx="7.3" ry="6.3" fill="#2e3ab4" opacity="0.95" transform="rotate(-55 551.2 200.6)"/>
<ellipse cx="443.7" cy="48.1" rx="5.9" ry="5.2" fill="#222a86" opacity="0.82" transform="rotate(-57 443.7 48.1)"/>
<ellipse cx="581.3" cy="138.7" rx="6.8" ry="6.4" fill="#3a48cf" opacity="1" transform="rotate(-66 581.3 138.7)"/>
<ellipse cx="573.2" cy="76.3" rx="5.9" ry="4.9" fill="#222a86" opacity="0.82" transform="rotate(16 573.2 76.3)"/>
<ellipse cx="536.6" cy="253.7" rx="6.8" ry="6.5" fill="#2e3ab4" opacity="0.95" transform="rotate(-29 536.6 253.7)"/>
<ellipse cx="450.0" cy="216.5" rx="6.4" ry="5.6" fill="#3a48cf" opacity="1" transform="rotate(-54 450.0 216.5)"/>
<ellipse cx="634.7" cy="276.9" rx="6.1" ry="5.5" fill="#3a48cf" opacity="1" transform="rotate(-43 634.7 276.9)"/>
<ellipse cx="605.0" cy="128.1" rx="4.8" ry="3.7" fill="#2e3ab4" opacity="0.95" transform="rotate(-20 605.0 128.1)"/>
<ellipse cx="593.9" cy="60.8" rx="6.8" ry="4.6" fill="#2e3ab4" opacity="0.95" transform="rotate(-41 593.9 60.8)"/>
<ellipse cx="434.7" cy="80.8" rx="6.0" ry="5.3" fill="#2e3ab4" opacity="0.95" transform="rotate(9 434.7 80.8)"/>
<ellipse cx="626.4" cy="162.2" rx="7.3" ry="4.6" fill="#2e3ab4" opacity="0.95" transform="rotate(-53 626.4 162.2)"/>
<ellipse cx="470.3" cy="218.1" rx="6.4" ry="5.1" fill="#2e3ab4" opacity="0.95" transform="rotate(9 470.3 218.1)"/>
<ellipse cx="475.4" cy="135.8" rx="7.1" ry="4.8" fill="#3a48cf" opacity="1" transform="rotate(10 475.4 135.8)"/>
<ellipse cx="526.0" cy="181.2" rx="5.2" ry="4.1" fill="#2e3ab4" opacity="0.95" transform="rotate(-25 526.0 181.2)"/>
<ellipse cx="407.8" cy="275.1" rx="6.0" ry="4.5" fill="#2e3ab4" opacity="0.95" transform="rotate(5 407.8 275.1)"/>
<ellipse cx="518.1" cy="209.2" rx="4.8" ry="3.9" fill="#3a48cf" opacity="1" transform="rotate(-34 518.1 209.2)"/>
<ellipse cx="621.1" cy="109.3" rx="5.9" ry="3.8" fill="#3a48cf" opacity="1" transform="rotate(-32 621.1 109.3)"/>
<ellipse cx="615.6" cy="158.4" rx="5.5" ry="3.7" fill="#3a48cf" opacity="1" transform="rotate(-13 615.6 158.4)"/>
<ellipse cx="432.0" cy="230.1" rx="4.7" ry="3.1" fill="#2e3ab4" opacity="0.95" transform="rotate(-52 432.0 230.1)"/>
<ellipse cx="522.7" cy="104.9" rx="5.2" ry="4.1" fill="#222a86" opacity="0.82" transform="rotate(-31 522.7 104.9)"/>
<ellipse cx="499.6" cy="170.9" rx="5.0" ry="3.4" fill="#2e3ab4" opacity="0.95" transform="rotate(-12 499.6 170.9)"/>
<ellipse cx="527.3" cy="247.1" rx="6.3" ry="5.8" fill="#2e3ab4" opacity="0.95" transform="rotate(-52 527.3 247.1)"/>
<ellipse cx="594.2" cy="259.3" rx="5.5" ry="3.9" fill="#222a86" opacity="0.82" transform="rotate(17 594.2 259.3)"/>
<ellipse cx="638.9" cy="255.7" rx="5.0" ry="3.4" fill="#222a86" opacity="0.82" transform="rotate(-2 638.9 255.7)"/>
<ellipse cx="501.6" cy="232.6" rx="5.0" ry="3.7" fill="#222a86" opacity="0.82" transform="rotate(-6 501.6 232.6)"/>
<ellipse cx="428.7" cy="165.3" rx="6.7" ry="5.3" fill="#222a86" opacity="0.82" transform="rotate(-6 428.7 165.3)"/>
<ellipse cx="449.8" cy="244.5" rx="7.4" ry="7.0" fill="#222a86" opacity="0.82" transform="rotate(-65 449.8 244.5)"/>
<ellipse cx="583.3" cy="123.0" rx="5.9" ry="4.7" fill="#2e3ab4" opacity="0.95" transform="rotate(-32 583.3 123.0)"/>
<ellipse cx="404.4" cy="211.5" rx="7.0" ry="4.7" fill="#2e3ab4" opacity="0.95" transform="rotate(-30 404.4 211.5)"/>
<ellipse cx="497.7" cy="91.8" rx="5.1" ry="4.0" fill="#3a48cf" opacity="1" transform="rotate(-73 497.7 91.8)"/>
<ellipse cx="592.1" cy="212.4" rx="7.0" ry="5.9" fill="#2e3ab4" opacity="0.95" transform="rotate(-35 592.1 212.4)"/>
<ellipse cx="521.3" cy="278.2" rx="6.9" ry="4.8" fill="#2e3ab4" opacity="0.95" transform="rotate(16 521.3 278.2)"/>
<ellipse cx="586.4" cy="238.4" rx="5.7" ry="5.4" fill="#2e3ab4" opacity="0.95" transform="rotate(13 586.4 238.4)"/>
<ellipse cx="583.9" cy="226.7" rx="5.7" ry="5.0" fill="#222a86" opacity="0.82" transform="rotate(-68 583.9 226.7)"/>
<ellipse cx="536.8" cy="171.8" rx="5.7" ry="5.6" fill="#2e3ab4" opacity="0.95" transform="rotate(-11 536.8 171.8)"/>
<ellipse cx="582.6" cy="277.6" rx="4.7" ry="3.9" fill="#222a86" opacity="0.82" transform="rotate(-1 582.6 277.6)"/>
<ellipse cx="496.8" cy="57.5" rx="5.1" ry="3.8" fill="#222a86" opacity="0.82" transform="rotate(-65 496.8 57.5)"/>
<ellipse cx="616.8" cy="175.8" rx="6.0" ry="5.8" fill="#3a48cf" opacity="1" transform="rotate(-18 616.8 175.8)"/>
<ellipse cx="553.1" cy="237.2" rx="4.8" ry="4.0" fill="#222a86" opacity="0.82" transform="rotate(1 553.1 237.2)"/>
<ellipse cx="622.7" cy="83.5" rx="5.9" ry="3.9" fill="#2e3ab4" opacity="0.95" transform="rotate(-25 622.7 83.5)"/>
<ellipse cx="415.1" cy="269.3" rx="5.8" ry="4.6" fill="#222a86" opacity="0.82" transform="rotate(-15 415.1 269.3)"/>
<ellipse cx="534.7" cy="112.7" rx="6.6" ry="4.7" fill="#222a86" opacity="0.82" transform="rotate(-74 534.7 112.7)"/>
<ellipse cx="626.1" cy="63.0" rx="7.1" ry="5.4" fill="#3a48cf" opacity="1" transform="rotate(-27 626.1 63.0)"/>
<ellipse cx="459.2" cy="169.5" rx="7.2" ry="6.3" fill="#3a48cf" opacity="1" transform="rotate(-28 459.2 169.5)"/>
<ellipse cx="595.7" cy="188.5" rx="4.9" ry="4.1" fill="#222a86" opacity="0.82" transform="rotate(-29 595.7 188.5)"/>
<ellipse cx="430.8" cy="150.4" rx="6.5" ry="5.0" fill="#2e3ab4" opacity="0.95" transform="rotate(-49 430.8 150.4)"/>
<ellipse cx="458.0" cy="72.6" rx="7.1" ry="6.4" fill="#222a86" opacity="0.82" transform="rotate(-13 458.0 72.6)"/>
<ellipse cx="535.7" cy="185.6" rx="6.4" ry="5.6" fill="#222a86" opacity="0.82" transform="rotate(-56 535.7 185.6)"/>
<ellipse cx="410.6" cy="60.0" rx="5.4" ry="4.1" fill="#222a86" opacity="0.82" transform="rotate(-13 410.6 60.0)"/>
<ellipse cx="530.2" cy="62.8" rx="4.8" ry="4.1" fill="#2e3ab4" opacity="0.95" transform="rotate(-20 530.2 62.8)"/>
<ellipse cx="490.1" cy="158.9" rx="5.2" ry="3.8" fill="#3a48cf" opacity="1" transform="rotate(-1 490.1 158.9)"/>
<ellipse cx="584.2" cy="96.1" rx="5.8" ry="4.0" fill="#222a86" opacity="0.82" transform="rotate(6 584.2 96.1)"/>
<ellipse cx="556.8" cy="279.7" rx="5.5" ry="4.5" fill="#3a48cf" opacity="1" transform="rotate(-0 556.8 279.7)"/>
<ellipse cx="503.0" cy="133.0" rx="4.9" ry="4.5" fill="#222a86" opacity="0.82" transform="rotate(-67 503.0 133.0)"/>
<ellipse cx="535.5" cy="160.4" rx="6.5" ry="4.7" fill="#222a86" opacity="0.82" transform="rotate(3 535.5 160.4)"/>
<ellipse cx="573.8" cy="209.9" rx="5.4" ry="3.5" fill="#2e3ab4" opacity="0.95" transform="rotate(-39 573.8 209.9)"/>
<ellipse cx="488.4" cy="73.4" rx="6.6" ry="5.4" fill="#3a48cf" opacity="1" transform="rotate(17 488.4 73.4)"/>
<ellipse cx="618.7" cy="149.3" rx="6.8" ry="4.9" fill="#222a86" opacity="0.82" transform="rotate(-43 618.7 149.3)"/>
<ellipse cx="487.3" cy="132.1" rx="5.6" ry="4.2" fill="#222a86" opacity="0.82" transform="rotate(-36 487.3 132.1)"/>
<ellipse cx="535.4" cy="234.3" rx="6.1" ry="5.6" fill="#222a86" opacity="0.82" transform="rotate(-19 535.4 234.3)"/>
<ellipse cx="468.2" cy="50.9" rx="6.0" ry="4.9" fill="#3a48cf" opacity="1" transform="rotate(-18 468.2 50.9)"/>
<ellipse cx="416.5" cy="175.0" rx="6.8" ry="4.3" fill="#2e3ab4" opacity="0.95" transform="rotate(-67 416.5 175.0)"/>
<ellipse cx="615.3" cy="65.6" rx="6.4" ry="4.2" fill="#2e3ab4" opacity="0.95" transform="rotate(-0 615.3 65.6)"/>
<ellipse cx="459.6" cy="97.8" rx="6.7" ry="5.4" fill="#222a86" opacity="0.82" transform="rotate(1 459.6 97.8)"/>
<ellipse cx="481.6" cy="274.8" rx="6.5" ry="5.1" fill="#2e3ab4" opacity="0.95" transform="rotate(-21 481.6 274.8)"/>
<ellipse cx="604.4" cy="236.4" rx="6.9" ry="6.5" fill="#2e3ab4" opacity="0.95" transform="rotate(21 604.4 236.4)"/>
<ellipse cx="525.9" cy="213.7" rx="6.8" ry="5.2" fill="#222a86" opacity="0.82" transform="rotate(-33 525.9 213.7)"/>
<ellipse cx="490.6" cy="85.3" rx="5.2" ry="3.9" fill="#3a48cf" opacity="1" transform="rotate(-46 490.6 85.3)"/>
<ellipse cx="428.5" cy="199.0" rx="6.8" ry="4.5" fill="#2e3ab4" opacity="0.95" transform="rotate(-69 428.5 199.0)"/>
<ellipse cx="409.9" cy="71.3" rx="5.1" ry="3.5" fill="#2e3ab4" opacity="0.95" transform="rotate(-51 409.9 71.3)"/>
<ellipse cx="445.2" cy="112.1" rx="5.1" ry="4.5" fill="#2e3ab4" opacity="0.95" transform="rotate(-44 445.2 112.1)"/>
<ellipse cx="595.8" cy="159.1" rx="5.3" ry="5.0" fill="#222a86" opacity="0.82" transform="rotate(16 595.8 159.1)"/>
<ellipse cx="531.5" cy="272.1" rx="6.0" ry="4.1" fill="#3a48cf" opacity="1" transform="rotate(-70 531.5 272.1)"/>
<ellipse cx="592.0" cy="136.7" rx="6.1" ry="4.8" fill="#3a48cf" opacity="1" transform="rotate(-48 592.0 136.7)"/>
<ellipse cx="557.8" cy="101.8" rx="4.6" ry="3.6" fill="#2e3ab4" opacity="0.95" transform="rotate(-38 557.8 101.8)"/>
<ellipse cx="477.8" cy="107.0" rx="7.0" ry="5.6" fill="#3a48cf" opacity="1" transform="rotate(-11 477.8 107.0)"/>
<ellipse cx="401.5" cy="240.0" rx="7.0" ry="6.4" fill="#222a86" opacity="0.82" transform="rotate(-67 401.5 240.0)"/>
<ellipse cx="473.5" cy="232.4" rx="5.8" ry="5.5" fill="#3a48cf" opacity="1" transform="rotate(-66 473.5 232.4)"/>
<ellipse cx="450.8" cy="174.2" rx="6.1" ry="4.0" fill="#222a86" opacity="0.82" transform="rotate(8 450.8 174.2)"/>
<ellipse cx="475.2" cy="63.6" rx="5.5" ry="4.2" fill="#222a86" opacity="0.82" transform="rotate(-3 475.2 63.6)"/>
<ellipse cx="556.9" cy="48.5" rx="5.7" ry="4.9" fill="#2e3ab4" opacity="0.95" transform="rotate(-51 556.9 48.5)"/>
<ellipse cx="637.3" cy="234.8" rx="5.2" ry="4.3" fill="#222a86" opacity="0.82" transform="rotate(-46 637.3 234.8)"/>
<ellipse cx="422.7" cy="99.2" rx="5.0" ry="3.3" fill="#222a86" opacity="0.82" transform="rotate(-34 422.7 99.2)"/>
<ellipse cx="493.1" cy="124.0" rx="5.8" ry="3.5" fill="#2e3ab4" opacity="0.95" transform="rotate(-35 493.1 124.0)"/>
<ellipse cx="480.0" cy="126.6" rx="6.4" ry="4.1" fill="#2e3ab4" opacity="0.95" transform="rotate(-37 480.0 126.6)"/>
<ellipse cx="546.8" cy="83.1" rx="6.7" ry="6.4" fill="#222a86" opacity="0.82" transform="rotate(-20 546.8 83.1)"/>
<ellipse cx="520.3" cy="79.2" rx="6.6" ry="6.4" fill="#2e3ab4" opacity="0.95" transform="rotate(-23 520.3 79.2)"/>
<ellipse cx="600.1" cy="92.3" rx="7.2" ry="6.1" fill="#222a86" opacity="0.82" transform="rotate(-55 600.1 92.3)"/>
<ellipse cx="459.4" cy="182.1" rx="6.6" ry="4.8" fill="#222a86" opacity="0.82" transform="rotate(18 459.4 182.1)"/>
<ellipse cx="511.4" cy="75.0" rx="7.3" ry="4.8" fill="#2e3ab4" opacity="0.95" transform="rotate(15 511.4 75.0)"/>
<ellipse cx="614.8" cy="102.6" rx="6.2" ry="5.7" fill="#2e3ab4" opacity="0.95" transform="rotate(-56 614.8 102.6)"/>
<ellipse cx="444.1" cy="279.2" rx="7.2" ry="6.1" fill="#2e3ab4" opacity="0.95" transform="rotate(-44 444.1 279.2)"/>
<ellipse cx="405.1" cy="92.8" rx="5.9" ry="3.9" fill="#2e3ab4" opacity="0.95" transform="rotate(-36 405.1 92.8)"/>
<ellipse cx="410.2" cy="204.4" rx="5.0" ry="4.8" fill="#2e3ab4" opacity="0.95" transform="rotate(-15 410.2 204.4)"/>
<ellipse cx="565.3" cy="225.0" rx="6.7" ry="5.3" fill="#3a48cf" opacity="1" transform="rotate(24 565.3 225.0)"/>
<ellipse cx="526.2" cy="147.9" rx="7.1" ry="5.1" fill="#2e3ab4" opacity="0.95" transform="rotate(-70 526.2 147.9)"/>
<ellipse cx="543.5" cy="223.6" rx="5.5" ry="4.5" fill="#222a86" opacity="0.82" transform="rotate(-68 543.5 223.6)"/>
<ellipse cx="507.6" cy="164.6" rx="5.7" ry="3.5" fill="#2e3ab4" opacity="0.95" transform="rotate(-6 507.6 164.6)"/>
<ellipse cx="458.1" cy="118.1" rx="5.7" ry="3.9" fill="#3a48cf" opacity="1" transform="rotate(-68 458.1 118.1)"/>
<ellipse cx="579.0" cy="179.8" rx="7.1" ry="4.5" fill="#222a86" opacity="0.82" transform="rotate(4 579.0 179.8)"/>
<ellipse cx="401.3" cy="103.3" rx="5.4" ry="3.9" fill="#3a48cf" opacity="1" transform="rotate(-69 401.3 103.3)"/>
<ellipse cx="519.9" cy="266.7" rx="7.3" ry="5.7" fill="#222a86" opacity="0.82" transform="rotate(-54 519.9 266.7)"/>
<ellipse cx="513.7" cy="86.3" rx="7.1" ry="6.9" fill="#2e3ab4" opacity="0.95" transform="rotate(-55 513.7 86.3)"/>
<ellipse cx="446.8" cy="253.9" rx="4.7" ry="3.0" fill="#222a86" opacity="0.82" transform="rotate(-2 446.8 253.9)"/>
<ellipse cx="615.6" cy="251.4" rx="5.0" ry="4.3" fill="#2e3ab4" opacity="0.95" transform="rotate(19 615.6 251.4)"/>
<ellipse cx="448.0" cy="88.4" rx="5.3" ry="4.5" fill="#222a86" opacity="0.82" transform="rotate(4 448.0 88.4)"/>
<ellipse cx="558.8" cy="254.9" rx="6.3" ry="4.3" fill="#3a48cf" opacity="1" transform="rotate(-45 558.8 254.9)"/>
<ellipse cx="560.0" cy="111.1" rx="6.4" ry="4.1" fill="#2e3ab4" opacity="0.95" transform="rotate(23 560.0 111.1)"/>
<ellipse cx="527.0" cy="171.2" rx="4.7" ry="3.9" fill="#222a86" opacity="0.82" transform="rotate(-47 527.0 171.2)"/>
<ellipse cx="467.7" cy="175.3" rx="5.1" ry="4.8" fill="#222a86" opacity="0.82" transform="rotate(24 467.7 175.3)"/>
<ellipse cx="511.1" cy="223.3" rx="5.7" ry="5.4" fill="#222a86" opacity="0.82" transform="rotate(-25 511.1 223.3)"/>
<ellipse cx="533.6" cy="198.3" rx="5.6" ry="4.8" fill="#2e3ab4" opacity="0.95" transform="rotate(3 533.6 198.3)"/>
<ellipse cx="564.1" cy="168.8" rx="7.3" ry="4.8" fill="#222a86" opacity="0.82" transform="rotate(3 564.1 168.8)"/>
<ellipse cx="520.0" cy="54.0" rx="6.3" ry="5.5" fill="#3a48cf" opacity="1" transform="rotate(-18 520.0 54.0)"/>
<ellipse cx="463.8" cy="234.6" rx="4.8" ry="4.5" fill="#2e3ab4" opacity="0.95" transform="rotate(-18 463.8 234.6)"/>
<ellipse cx="436.0" cy="119.2" rx="4.7" ry="3.4" fill="#2e3ab4" opacity="0.95" transform="rotate(-13 436.0 119.2)"/>
<ellipse cx="439.3" cy="209.1" rx="6.8" ry="4.2" fill="#222a86" opacity="0.82" transform="rotate(-34 439.3 209.1)"/>
<ellipse cx="452.7" cy="275.3" rx="4.7" ry="3.7" fill="#3a48cf" opacity="1" transform="rotate(1 452.7 275.3)"/>
<ellipse cx="458.5" cy="256.3" rx="5.0" ry="3.7" fill="#2e3ab4" opacity="0.95" transform="rotate(-45 458.5 256.3)"/>
<ellipse cx="576.0" cy="100.0" rx="5.3" ry="4.3" fill="#2e3ab4" opacity="0.95" transform="rotate(-51 576.0 100.0)"/>
<ellipse cx="623.2" cy="131.8" rx="5.5" ry="5.4" fill="#222a86" opacity="0.82" transform="rotate(-14 623.2 131.8)"/>
<ellipse cx="566.6" cy="250.2" rx="6.3" ry="5.9" fill="#222a86" opacity="0.82" transform="rotate(-29 566.6 250.2)"/>
<ellipse cx="532.0" cy="84.4" rx="5.2" ry="3.5" fill="#222a86" opacity="0.82" transform="rotate(-28 532.0 84.4)"/>
<ellipse cx="418.5" cy="209.2" rx="5.6" ry="4.0" fill="#222a86" opacity="0.82" transform="rotate(-73 418.5 209.2)"/>
<ellipse cx="463.7" cy="138.6" rx="6.6" ry="4.6" fill="#222a86" opacity="0.82" transform="rotate(-39 463.7 138.6)"/>
<ellipse cx="583.5" cy="216.8" rx="7.1" ry="4.3" fill="#222a86" opacity="0.82" transform="rotate(-43 583.5 216.8)"/>
<ellipse cx="421.0" cy="254.5" rx="5.5" ry="4.9" fill="#222a86" opacity="0.82" transform="rotate(-23 421.0 254.5)"/>
<ellipse cx="495.0" cy="102.0" rx="4.7" ry="3.1" fill="#222a86" opacity="0.82" transform="rotate(-15 495.0 102.0)"/>
<ellipse cx="436.2" cy="94.1" rx="5.4" ry="4.7" fill="#222a86" opacity="0.82" transform="rotate(-34 436.2 94.1)"/>
<ellipse cx="470.7" cy="127.3" rx="5.2" ry="3.2" fill="#2e3ab4" opacity="0.95" transform="rotate(-73 470.7 127.3)"/>
<ellipse cx="633.5" cy="116.2" rx="6.5" ry="6.1" fill="#2e3ab4" opacity="0.95" transform="rotate(-53 633.5 116.2)"/>
<ellipse cx="415.5" cy="136.3" rx="5.5" ry="4.4" fill="#222a86" opacity="0.82" transform="rotate(-47 415.5 136.3)"/>
<ellipse cx="482.6" cy="145.6" rx="5.0" ry="4.1" fill="#2e3ab4" opacity="0.95" transform="rotate(-5 482.6 145.6)"/>
<ellipse cx="567.9" cy="51.1" rx="5.7" ry="4.2" fill="#2e3ab4" opacity="0.95" transform="rotate(-69 567.9 51.1)"/>
<ellipse cx="414.2" cy="162.9" rx="6.2" ry="4.9" fill="#222a86" opacity="0.82" transform="rotate(-42 414.2 162.9)"/>
<ellipse cx="406.8" cy="127.8" rx="7.1" ry="5.8" fill="#2e3ab4" opacity="0.95" transform="rotate(-49 406.8 127.8)"/>
<ellipse cx="445.5" cy="156.7" rx="6.3" ry="6.1" fill="#2e3ab4" opacity="0.95" transform="rotate(-39 445.5 156.7)"/>
<ellipse cx="499.0" cy="144.0" rx="5.4" ry="4.9" fill="#222a86" opacity="0.82" transform="rotate(13 499.0 144.0)"/>
<ellipse cx="617.8" cy="54.6" rx="5.0" ry="3.9" fill="#222a86" opacity="0.82" transform="rotate(-44 617.8 54.6)"/>
<ellipse cx="633.8" cy="81.1" rx="5.1" ry="3.5" fill="#222a86" opacity="0.82" transform="rotate(-7 633.8 81.1)"/>
<ellipse cx="483.7" cy="255.4" rx="5.5" ry="4.8" fill="#2e3ab4" opacity="0.95" transform="rotate(-5 483.7 255.4)"/>
<ellipse cx="439.2" cy="192.7" rx="6.0" ry="4.9" fill="#222a86" opacity="0.82" transform="rotate(-38 439.2 192.7)"/>
<ellipse cx="478.6" cy="87.7" rx="6.0" ry="3.9" fill="#222a86" opacity="0.82" transform="rotate(-69 478.6 87.7)"/>
<ellipse cx="585.0" cy="159.4" rx="5.1" ry="4.7" fill="#222a86" opacity="0.82" transform="rotate(12 585.0 159.4)"/>
<ellipse cx="480.7" cy="225.3" rx="7.0" ry="6.4" fill="#2e3ab4" opacity="0.95" transform="rotate(-18 480.7 225.3)"/>
<ellipse cx="569.5" cy="193.1" rx="6.9" ry="6.3" fill="#222a86" opacity="0.82" transform="rotate(-62 569.5 193.1)"/>
<ellipse cx="540.6" cy="268.3" rx="7.3" ry="4.8" fill="#2e3ab4" opacity="0.95" transform="rotate(-6 540.6 268.3)"/>
<ellipse cx="551.6" cy="139.5" rx="7.2" ry="7.0" fill="#2e3ab4" opacity="0.95" transform="rotate(-70 551.6 139.5)"/>
<ellipse cx="479.8" cy="51.9" rx="6.1" ry="4.8" fill="#222a86" opacity="0.82" transform="rotate(-38 479.8 51.9)"/>
<ellipse cx="493.9" cy="209.9" rx="6.1" ry="5.5" fill="#222a86" opacity="0.82" transform="rotate(-60 493.9 209.9)"/>
<ellipse cx="426.7" cy="266.6" rx="5.3" ry="4.2" fill="#222a86" opacity="0.82" transform="rotate(-63 426.7 266.6)"/>
<ellipse cx="516.0" cy="132.2" rx="5.3" ry="3.3" fill="#3a48cf" opacity="1" transform="rotate(-69 516.0 132.2)"/>
<ellipse cx="549.5" cy="111.2" rx="7.2" ry="6.7" fill="#2e3ab4" opacity="0.95" transform="rotate(24 549.5 111.2)"/>
<ellipse cx="599.7" cy="217.2" rx="5.1" ry="3.1" fill="#222a86" opacity="0.82" transform="rotate(-58 599.7 217.2)"/>
<ellipse cx="594.1" cy="233.1" rx="6.7" ry="5.0" fill="#3a48cf" opacity="1" transform="rotate(5 594.1 233.1)"/>
<ellipse cx="427.0" cy="279.3" rx="5.8" ry="5.6" fill="#2e3ab4" opacity="0.95" transform="rotate(-53 427.0 279.3)"/>
<ellipse cx="444.9" cy="130.1" rx="7.4" ry="4.8" fill="#222a86" opacity="0.82" transform="rotate(-12 444.9 130.1)"/>
<ellipse cx="547.9" cy="255.7" rx="7.0" ry="5.9" fill="#2e3ab4" opacity="0.95" transform="rotate(-25 547.9 255.7)"/>
<ellipse cx="559.6" cy="144.9" rx="5.7" ry="3.9" fill="#2e3ab4" opacity="0.95" transform="rotate(-15 559.6 144.9)"/>
<ellipse cx="636.9" cy="161.8" rx="5.3" ry="4.8" fill="#3a48cf" opacity="1" transform="rotate(-10 636.9 161.8)"/>
<ellipse cx="599.7" cy="73.4" rx="5.1" ry="3.8" fill="#2e3ab4" opacity="0.95" transform="rotate(10 599.7 73.4)"/>
<ellipse cx="546.4" cy="130.2" rx="5.1" ry="5.0" fill="#2e3ab4" opacity="0.95" transform="rotate(-6 546.4 130.2)"/>
<ellipse cx="498.4" cy="80.2" rx="6.4" ry="4.8" fill="#2e3ab4" opacity="0.95" transform="rotate(7 498.4 80.2)"/>
<ellipse cx="609.0" cy="113.4" rx="7.0" ry="6.0" fill="#3a48cf" opacity="1" transform="rotate(-30 609.0 113.4)"/>
<ellipse cx="544.4" cy="151.7" rx="4.8" ry="3.6" fill="#2e3ab4" opacity="0.95" transform="rotate(-47 544.4 151.7)"/>
<ellipse cx="560.5" cy="127.0" rx="7.1" ry="6.8" fill="#2e3ab4" opacity="0.95" transform="rotate(-73 560.5 127.0)"/>
<ellipse cx="511.9" cy="120.4" rx="6.5" ry="5.4" fill="#3a48cf" opacity="1" transform="rotate(22 511.9 120.4)"/>
<ellipse cx="598.5" cy="199.4" rx="6.6" ry="6.4" fill="#2e3ab4" opacity="0.95" transform="rotate(-68 598.5 199.4)"/>
<ellipse cx="435.2" cy="139.0" rx="6.7" ry="4.2" fill="#2e3ab4" opacity="0.95" transform="rotate(-58 435.2 139.0)"/>
<ellipse cx="405.0" cy="249.1" rx="7.2" ry="6.8" fill="#222a86" opacity="0.82" transform="rotate(-73 405.0 249.1)"/>
<ellipse cx="473.0" cy="165.7" rx="4.9" ry="4.0" fill="#222a86" opacity="0.82" transform="rotate(-62 473.0 165.7)"/>
<ellipse cx="523.2" cy="115.2" rx="6.8" ry="4.7" fill="#222a86" opacity="0.82" transform="rotate(-34 523.2 115.2)"/>
<ellipse cx="603.6" cy="82.3" rx="7.3" ry="5.8" fill="#2e3ab4" opacity="0.95" transform="rotate(-34 603.6 82.3)"/>
<ellipse cx="499.6" cy="48.1" rx="5.0" ry="4.6" fill="#2e3ab4" opacity="0.95" transform="rotate(-2 499.6 48.1)"/>
<ellipse cx="554.3" cy="246.2" rx="4.7" ry="3.6" fill="#222a86" opacity="0.82" transform="rotate(-67 554.3 246.2)"/>
<ellipse cx="413.0" cy="243.4" rx="4.8" ry="3.8" fill="#222a86" opacity="0.82" transform="rotate(-20 413.0 243.4)"/>
<ellipse cx="403.3" cy="141.8" rx="7.3" ry="4.4" fill="#3a48cf" opacity="1" transform="rotate(-16 403.3 141.8)"/>
<ellipse cx="546.2" cy="185.1" rx="5.5" ry="4.3" fill="#2e3ab4" opacity="0.95" transform="rotate(-23 546.2 185.1)"/>
<ellipse cx="461.2" cy="109.5" rx="6.8" ry="5.2" fill="#2e3ab4" opacity="0.95" transform="rotate(11 461.2 109.5)"/>
<ellipse cx="588.9" cy="197.6" rx="4.8" ry="4.2" fill="#2e3ab4" opacity="0.95" transform="rotate(-70 588.9 197.6)"/>
<ellipse cx="539.3" cy="46.9" rx="6.7" ry="5.1" fill="#3a48cf" opacity="1" transform="rotate(-7 539.3 46.9)"/>
<ellipse cx="587.3" cy="149.9" rx="6.7" ry="5.0" fill="#2e3ab4" opacity="0.95" transform="rotate(-30 587.3 149.9)"/>
<ellipse cx="531.7" cy="72.4" rx="4.9" ry="3.5" fill="#2e3ab4" opacity="0.95" transform="rotate(20 531.7 72.4)"/>
<ellipse cx="565.4" cy="137.4" rx="6.8" ry="4.3" fill="#222a86" opacity="0.82" transform="rotate(-1 565.4 137.4)"/>
<ellipse cx="525.0" cy="137.6" rx="6.2" ry="5.7" fill="#2e3ab4" opacity="0.95" transform="rotate(-39 525.0 137.6)"/>
<ellipse cx="462.4" cy="60.8" rx="6.9" ry="5.1" fill="#2e3ab4" opacity="0.95" transform="rotate(-3 462.4 60.8)"/>
<ellipse cx="603.0" cy="53.9" rx="6.6" ry="5.3" fill="#222a86" opacity="0.82" transform="rotate(-20 603.0 53.9)"/>
<ellipse cx="437.3" cy="270.7" rx="6.7" ry="6.1" fill="#2e3ab4" opacity="0.95" transform="rotate(-65 437.3 270.7)"/>
<ellipse cx="604.7" cy="189.8" rx="6.1" ry="5.4" fill="#2e3ab4" opacity="0.95" transform="rotate(-22 604.7 189.8)"/>
<ellipse cx="484.2" cy="100.6" rx="7.3" ry="4.7" fill="#2e3ab4" opacity="0.95" transform="rotate(19 484.2 100.6)"/>
<ellipse cx="425.5" cy="179.4" rx="4.9" ry="4.8" fill="#3a48cf" opacity="1" transform="rotate(-44 425.5 179.4)"/>
<ellipse cx="588.1" cy="169.0" rx="4.8" ry="3.9" fill="#2e3ab4" opacity="0.95" transform="rotate(-57 588.1 169.0)"/>
<ellipse cx="401.4" cy="61.7" rx="6.8" ry="6.6" fill="#2e3ab4" opacity="0.95" transform="rotate(8 401.4 61.7)"/>
<ellipse cx="404.8" cy="227.9" rx="5.3" ry="4.4" fill="#222a86" opacity="0.82" transform="rotate(-22 404.8 227.9)"/>
<ellipse cx="461.5" cy="159.0" rx="6.8" ry="4.9" fill="#2e3ab4" opacity="0.95" transform="rotate(-51 461.5 159.0)"/>
<ellipse cx="445.1" cy="100.6" rx="5.4" ry="3.9" fill="#2e3ab4" opacity="0.95" transform="rotate(-2 445.1 100.6)"/>
<ellipse cx="419.9" cy="226.3" rx="5.3" ry="3.6" fill="#3a48cf" opacity="1" transform="rotate(-34 419.9 226.3)"/>
<ellipse cx="491.6" cy="113.5" rx="6.3" ry="5.5" fill="#3a48cf" opacity="1" transform="rotate(-27 491.6 113.5)"/>
<ellipse cx="447.1" cy="77.7" rx="6.5" ry="6.1" fill="#3a48cf" opacity="1" transform="rotate(-2 447.1 77.7)"/>
<ellipse cx="429.8" cy="110.2" rx="7.2" ry="4.5" fill="#222a86" opacity="0.82" transform="rotate(-57 429.8 110.2)"/>
<ellipse cx="582.3" cy="264.4" rx="6.0" ry="4.0" fill="#2e3ab4" opacity="0.95" transform="rotate(-42 582.3 264.4)"/>
<ellipse cx="544.8" cy="245.8" rx="5.9" ry="4.0" fill="#3a48cf" opacity="1" transform="rotate(19 544.8 245.8)"/>
<ellipse cx="549.8" cy="120.7" rx="5.6" ry="5.2" fill="#2e3ab4" opacity="0.95" transform="rotate(-17 549.8 120.7)"/>
<ellipse cx="456.8" cy="267.1" rx="7.0" ry="6.5" fill="#2e3ab4" opacity="0.95" transform="rotate(-59 456.8 267.1)"/>
<ellipse cx="483.8" cy="178.0" rx="6.0" ry="5.7" fill="#222a86" opacity="0.82" transform="rotate(-24 483.8 178.0)"/>
<ellipse cx="506.6" cy="65.6" rx="6.8" ry="4.7" fill="#2e3ab4" opacity="0.95" transform="rotate(8 506.6 65.6)"/>
<ellipse cx="517.8" cy="159.7" rx="5.4" ry="5.0" fill="#222a86" opacity="0.82" transform="rotate(-25 517.8 159.7)"/>
<ellipse cx="607.8" cy="227.5" rx="6.8" ry="6.3" fill="#3a48cf" opacity="1" transform="rotate(-18 607.8 227.5)"/>
<ellipse cx="553.4" cy="162.0" rx="5.7" ry="4.2" fill="#222a86" opacity="0.82" transform="rotate(-73 553.4 162.0)"/>
<ellipse cx="479.9" cy="265.0" rx="7.2" ry="5.1" fill="#2e3ab4" opacity="0.95" transform="rotate(20 479.9 265.0)"/>
<ellipse cx="448.6" cy="183.1" rx="5.3" ry="3.8" fill="#222a86" opacity="0.82" transform="rotate(-68 448.6 183.1)"/>
<ellipse cx="504.3" cy="207.9" rx="6.7" ry="5.5" fill="#3a48cf" opacity="1" transform="rotate(-11 504.3 207.9)"/>
<ellipse cx="530.1" cy="281.7" rx="6.1" ry="4.1" fill="#222a86" opacity="0.82" transform="rotate(2 530.1 281.7)"/>
<ellipse cx="437.0" cy="176.1" rx="5.4" ry="4.7" fill="#222a86" opacity="0.82" transform="rotate(-2 437.0 176.1)"/>
<ellipse cx="569.3" cy="153.7" rx="5.8" ry="3.7" fill="#3a48cf" opacity="1" transform="rotate(-28 569.3 153.7)"/>
<ellipse cx="418.1" cy="109.4" rx="6.5" ry="5.0" fill="#2e3ab4" opacity="0.95" transform="rotate(-62 418.1 109.4)"/>
<ellipse cx="473.6" cy="97.9" rx="7.0" ry="5.6" fill="#222a86" opacity="0.82" transform="rotate(-34 473.6 97.9)"/>
<ellipse cx="514.0" cy="253.8" rx="5.9" ry="4.4" fill="#3a48cf" opacity="1" transform="rotate(15 514.0 253.8)"/>
<ellipse cx="634.5" cy="126.5" rx="6.6" ry="4.0" fill="#2e3ab4" opacity="0.95" transform="rotate(-33 634.5 126.5)"/>
<ellipse cx="541.8" cy="214.2" rx="6.7" ry="5.9" fill="#222a86" opacity="0.82" transform="rotate(-17 541.8 214.2)"/>
<ellipse cx="475.3" cy="252.1" rx="7.2" ry="5.0" fill="#222a86" opacity="0.82" transform="rotate(-57 475.3 252.1)"/>
<ellipse cx="546.3" cy="279.2" rx="5.2" ry="3.6" fill="#222a86" opacity="0.82" transform="rotate(-13 546.3 279.2)"/>
<ellipse cx="601.5" cy="174.2" rx="6.2" ry="4.0" fill="#222a86" opacity="0.82" transform="rotate(-71 601.5 174.2)"/>
<ellipse cx="425.4" cy="50.5" rx="6.6" ry="4.4" fill="#2e3ab4" opacity="0.95" transform="rotate(-48 425.4 50.5)"/>
<ellipse cx="534.9" cy="129.8" rx="5.6" ry="3.9" fill="#222a86" opacity="0.82" transform="rotate(-46 534.9 129.8)"/>
<ellipse cx="428.1" cy="245.9" rx="5.9" ry="4.7" fill="#3a48cf" opacity="1" transform="rotate(-44 428.1 245.9)"/>
<ellipse cx="580.7" cy="193.0" rx="6.4" ry="5.6" fill="#2e3ab4" opacity="0.95" transform="rotate(-25 580.7 193.0)"/>
<ellipse cx="509.4" cy="139.7" rx="6.1" ry="5.7" fill="#3a48cf" opacity="1" transform="rotate(24 509.4 139.7)"/>
<ellipse cx="404.4" cy="80.7" rx="5.7" ry="4.8" fill="#2e3ab4" opacity="0.95" transform="rotate(-64 404.4 80.7)"/>
<ellipse cx="452.2" cy="62.8" rx="6.7" ry="4.9" fill="#2e3ab4" opacity="0.95" transform="rotate(21 452.2 62.8)"/>
<ellipse cx="591.2" cy="78.9" rx="5.2" ry="3.2" fill="#2e3ab4" opacity="0.95" transform="rotate(-59 591.2 78.9)"/>
<ellipse cx="571.4" cy="89.5" rx="6.0" ry="5.8" fill="#222a86" opacity="0.82" transform="rotate(-51 571.4 89.5)"/>
<ellipse cx="572.0" cy="162.4" rx="4.8" ry="3.7" fill="#2e3ab4" opacity="0.95" transform="rotate(-37 572.0 162.4)"/>
<ellipse cx="520.2" cy="226.9" rx="6.2" ry="4.3" fill="#2e3ab4" opacity="0.95" transform="rotate(-56 520.2 226.9)"/>
<ellipse cx="610.0" cy="135.8" rx="4.8" ry="3.0" fill="#2e3ab4" opacity="0.95" transform="rotate(10 610.0 135.8)"/>
<ellipse cx="468.9" cy="114.9" rx="6.7" ry="6.0" fill="#3a48cf" opacity="1" transform="rotate(-5 468.9 114.9)"/>
<ellipse cx="577.5" cy="250.6" rx="5.6" ry="4.7" fill="#3a48cf" opacity="1" transform="rotate(21 577.5 250.6)"/>
<ellipse cx="639.1" cy="244.2" rx="6.4" ry="6.2" fill="#2e3ab4" opacity="0.95" transform="rotate(-61 639.1 244.2)"/>
<ellipse cx="401.5" cy="45.8" rx="4.6" ry="3.3" fill="#3a48cf" opacity="1" transform="rotate(-47 401.5 45.8)"/>
<ellipse cx="605.2" cy="267.0" rx="5.8" ry="4.2" fill="#222a86" opacity="0.82" transform="rotate(-35 605.2 267.0)"/>
<ellipse cx="564.4" cy="81.6" rx="6.8" ry="6.6" fill="#2e3ab4" opacity="0.95" transform="rotate(-55 564.4 81.6)"/>
</g>
<g filter="url(#fBlurM)">
<circle cx="466.6" cy="109.0" r="1.3" fill="#28b8d8" opacity="0.76"/>
<circle cx="405.9" cy="64.7" r="2.2" fill="#28b8d8" opacity="0.64"/>
<circle cx="523.4" cy="83.5" r="1.6" fill="#28b8d8" opacity="0.80"/>
<circle cx="586.5" cy="119.5" r="1.8" fill="#28b8d8" opacity="0.77"/>
<circle cx="475.3" cy="141.5" r="2.1" fill="#28b8d8" opacity="0.64"/>
<circle cx="429.1" cy="241.2" r="2.4" fill="#28b8d8" opacity="0.79"/>
<circle cx="513.2" cy="80.6" r="1.5" fill="#28b8d8" opacity="0.79"/>
<circle cx="449.6" cy="84.6" r="1.8" fill="#28b8d8" opacity="0.64"/>
<circle cx="398.3" cy="235.5" r="1.7" fill="#28b8d8" opacity="0.90"/>
<circle cx="608.7" cy="127.1" r="1.9" fill="#28b8d8" opacity="0.90"/>
<circle cx="454.5" cy="256.9" r="2.1" fill="#28b8d8" opacity="0.52"/>
<circle cx="586.4" cy="119.4" r="1.7" fill="#28b8d8" opacity="0.80"/>
<circle cx="423.1" cy="198.9" r="2.1" fill="#28b8d8" opacity="0.69"/>
<circle cx="598.6" cy="259.6" r="1.7" fill="#28b8d8" opacity="0.73"/>
<circle cx="495.6" cy="116.5" r="2.1" fill="#28b8d8" opacity="0.63"/>
<circle cx="485.9" cy="251.6" r="1.9" fill="#28b8d8" opacity="0.73"/>
<circle cx="526.0" cy="167.6" r="2.3" fill="#28b8d8" opacity="0.81"/>
<circle cx="417.7" cy="62.0" r="2.0" fill="#28b8d8" opacity="0.77"/>
<circle cx="607.3" cy="194.0" r="1.4" fill="#28b8d8" opacity="0.84"/>
<circle cx="427.3" cy="54.7" r="2.3" fill="#28b8d8" opacity="0.87"/>
<circle cx="395.9" cy="240.0" r="1.3" fill="#28b8d8" opacity="0.76"/>
<circle cx="582.4" cy="269.2" r="1.5" fill="#28b8d8" opacity="0.51"/>
<circle cx="427.4" cy="176.0" r="1.5" fill="#28b8d8" opacity="0.58"/>
<circle cx="553.9" cy="283.0" r="1.7" fill="#28b8d8" opacity="0.59"/>
<circle cx="473.1" cy="123.8" r="1.2" fill="#28b8d8" opacity="0.81"/>
<circle cx="425.6" cy="101.9" r="2.3" fill="#28b8d8" opacity="0.57"/>
<circle cx="582.1" cy="156.6" r="2.2" fill="#28b8d8" opacity="0.76"/>
<circle cx="597.5" cy="256.4" r="1.4" fill="#28b8d8" opacity="0.77"/>
<circle cx="529.7" cy="139.2" r="2.3" fill="#28b8d8" opacity="0.80"/>
<circle cx="426.1" cy="54.4" r="2.1" fill="#28b8d8" opacity="0.87"/>
<circle cx="431.1" cy="155.6" r="2.4" fill="#28b8d8" opacity="0.75"/>
<circle cx="530.0" cy="210.0" r="1.8" fill="#28b8d8" opacity="0.59"/>
<circle cx="500.3" cy="88.7" r="2.0" fill="#28b8d8" opacity="0.81"/>
<circle cx="503.4" cy="169.4" r="2.1" fill="#28b8d8" opacity="0.67"/>
<circle cx="611.5" cy="106.4" r="1.4" fill="#28b8d8" opacity="0.76"/>
<circle cx="558.0" cy="250.0" r="1.8" fill="#28b8d8" opacity="0.79"/>
<circle cx="411.2" cy="135.6" r="2.0" fill="#28b8d8" opacity="0.80"/>
<circle cx="637.2" cy="239.4" r="1.3" fill="#28b8d8" opacity="0.73"/>
<circle cx="595.9" cy="74.8" r="2.3" fill="#28b8d8" opacity="0.63"/>
<circle cx="432.7" cy="245.0" r="1.8" fill="#28b8d8" opacity="0.64"/>
<circle cx="535.7" cy="155.2" r="1.4" fill="#28b8d8" opacity="0.71"/>
<circle cx="502.3" cy="167.8" r="2.1" fill="#28b8d8" opacity="0.83"/>
<circle cx="586.0" cy="141.5" r="1.6" fill="#28b8d8" opacity="0.63"/>
<circle cx="455.0" cy="217.6" r="1.5" fill="#28b8d8" opacity="0.74"/>
<circle cx="486.2" cy="147.2" r="1.4" fill="#28b8d8" opacity="0.88"/>
<circle cx="550.2" cy="116.9" r="1.7" fill="#28b8d8" opacity="0.65"/>
<circle cx="485.3" cy="266.9" r="2.2" fill="#28b8d8" opacity="0.59"/>
<circle cx="516.7" cy="75.3" r="2.4" fill="#28b8d8" opacity="0.83"/>
<circle cx="581.8" cy="251.9" r="2.2" fill="#28b8d8" opacity="0.50"/>
<circle cx="552.6" cy="195.0" r="2.3" fill="#28b8d8" opacity="0.51"/>
<circle cx="599.5" cy="189.5" r="2.2" fill="#28b8d8" opacity="0.52"/>
<circle cx="576.9" cy="196.4" r="1.7" fill="#28b8d8" opacity="0.55"/>
<circle cx="492.7" cy="205.1" r="2.3" fill="#28b8d8" opacity="0.70"/>
<circle cx="525.3" cy="190.1" r="1.3" fill="#28b8d8" opacity="0.56"/>
<circle cx="410.0" cy="279.4" r="1.6" fill="#28b8d8" opacity="0.56"/>
<circle cx="488.4" cy="117.4" r="1.8" fill="#28b8d8" opacity="0.81"/>
<circle cx="500.2" cy="130.3" r="1.9" fill="#28b8d8" opacity="0.79"/>
<circle cx="546.1" cy="261.0" r="2.0" fill="#28b8d8" opacity="0.70"/>
<circle cx="421.7" cy="105.6" r="1.4" fill="#28b8d8" opacity="0.75"/>
<circle cx="548.1" cy="151.2" r="2.4" fill="#28b8d8" opacity="0.82"/>
<circle cx="617.0" cy="70.4" r="1.4" fill="#28b8d8" opacity="0.84"/>
<circle cx="520.2" cy="136.3" r="2.3" fill="#28b8d8" opacity="0.62"/>
<circle cx="591.3" cy="141.5" r="2.3" fill="#28b8d8" opacity="0.58"/>
<circle cx="503.5" cy="162.5" r="1.6" fill="#28b8d8" opacity="0.64"/>
<circle cx="583.4" cy="155.7" r="2.1" fill="#28b8d8" opacity="0.58"/>
<circle cx="554.5" cy="144.5" r="1.5" fill="#28b8d8" opacity="0.81"/>
<circle cx="621.0" cy="79.0" r="2.3" fill="#28b8d8" opacity="0.66"/>
<circle cx="493.8" cy="157.1" r="1.4" fill="#28b8d8" opacity="0.76"/>
<circle cx="474.2" cy="265.0" r="1.2" fill="#28b8d8" opacity="0.61"/>
<circle cx="514.4" cy="210.0" r="2.1" fill="#28b8d8" opacity="0.51"/>
<circle cx="575.3" cy="65.2" r="2.1" fill="#28b8d8" opacity="0.76"/>
<circle cx="507.3" cy="220.8" r="2.3" fill="#28b8d8" opacity="0.65"/>
<circle cx="408.8" cy="208.2" r="2.1" fill="#28b8d8" opacity="0.66"/>
<circle cx="441.2" cy="274.2" r="1.4" fill="#28b8d8" opacity="0.54"/>
<circle cx="448.0" cy="146.5" r="1.7" fill="#28b8d8" opacity="0.58"/>
<circle cx="615.3" cy="57.8" r="2.0" fill="#28b8d8" opacity="0.59"/>
<circle cx="561.2" cy="279.9" r="1.8" fill="#28b8d8" opacity="0.73"/>
<circle cx="613.6" cy="147.1" r="2.4" fill="#28b8d8" opacity="0.86"/>
<circle cx="518.2" cy="205.3" r="1.2" fill="#28b8d8" opacity="0.77"/>
<circle cx="529.2" cy="69.4" r="1.2" fill="#28b8d8" opacity="0.53"/>
<circle cx="593.5" cy="75.5" r="1.5" fill="#28b8d8" opacity="0.87"/>
<circle cx="463.9" cy="101.1" r="2.3" fill="#28b8d8" opacity="0.51"/>
<circle cx="493.9" cy="105.6" r="2.3" fill="#28b8d8" opacity="0.82"/>
<circle cx="472.9" cy="52.2" r="2.4" fill="#28b8d8" opacity="0.58"/>
<circle cx="532.2" cy="133.4" r="2.3" fill="#28b8d8" opacity="0.72"/>
<circle cx="422.8" cy="107.0" r="1.3" fill="#28b8d8" opacity="0.78"/>
<circle cx="527.6" cy="65.7" r="2.4" fill="#28b8d8" opacity="0.80"/>
<circle cx="409.9" cy="211.1" r="1.8" fill="#28b8d8" opacity="0.80"/>
<circle cx="598.9" cy="186.2" r="2.2" fill="#28b8d8" opacity="0.81"/>
<circle cx="587.1" cy="264.2" r="2.4" fill="#28b8d8" opacity="0.76"/>
<circle cx="573.3" cy="179.9" r="2.3" fill="#28b8d8" opacity="0.80"/>
<circle cx="621.8" cy="87.3" r="1.5" fill="#28b8d8" opacity="0.52"/>
<circle cx="538.5" cy="156.1" r="1.2" fill="#28b8d8" opacity="0.76"/>
<circle cx="460.3" cy="114.1" r="1.6" fill="#28b8d8" opacity="0.65"/>
<circle cx="408.5" cy="200.8" r="1.7" fill="#28b8d8" opacity="0.55"/>
<circle cx="567.9" cy="142.3" r="1.8" fill="#28b8d8" opacity="0.71"/>
<circle cx="588.3" cy="98.2" r="1.8" fill="#28b8d8" opacity="0.51"/>
<circle cx="635.4" cy="272.1" r="2.4" fill="#28b8d8" opacity="0.84"/>
<circle cx="514.9" cy="50.3" r="1.4" fill="#28b8d8" opacity="0.57"/>
<circle cx="479.3" cy="65.1" r="2.4" fill="#28b8d8" opacity="0.78"/>
<circle cx="519.7" cy="84.4" r="1.5" fill="#28b8d8" opacity="0.52"/>
<circle cx="454.3" cy="248.3" r="1.7" fill="#28b8d8" opacity="0.51"/>
<circle cx="433.4" cy="196.6" r="1.4" fill="#28b8d8" opacity="0.61"/>
<circle cx="590.9" cy="65.4" r="2.4" fill="#28b8d8" opacity="0.57"/>
<circle cx="554.3" cy="250.0" r="2.3" fill="#28b8d8" opacity="0.70"/>
</g>
<g filter="url(#fBlurS)">
<ellipse cx="564.5" cy="54.2" rx="3.6" ry="2.2" fill="#c040a8" opacity="0.88" transform="rotate(-30 564.5 54.2)"/>
<ellipse cx="489.6" cy="90" rx="4.6" ry="3.2" fill="#b83ca8" opacity="0.88" transform="rotate(-30 489.6 90)"/>
<ellipse cx="443.5" cy="107.6" rx="4" ry="3" fill="#d040a0" opacity="0.88" transform="rotate(0 443.5 107.6)"/>
<ellipse cx="457.6" cy="130.8" rx="2.8" ry="2.8" fill="#c848a0" opacity="0.88" transform="rotate(0 457.6 130.8)"/>
<ellipse cx="463.6" cy="145.3" rx="3.5" ry="4.5" fill="#e03c98" opacity="0.88" transform="rotate(10 463.6 145.3)"/>
<ellipse cx="481.4" cy="160.2" rx="3.6" ry="2.6" fill="#9838a8" opacity="0.88" transform="rotate(0 481.4 160.2)"/>
<ellipse cx="627" cy="86.7" rx="4.4" ry="4.6" fill="#e04498" opacity="0.88" transform="rotate(0 627 86.7)"/>
<ellipse cx="454.5" cy="242" rx="3.6" ry="3.4" fill="#9838b0" opacity="0.88" transform="rotate(0 454.5 242)"/>
<ellipse cx="522" cy="257.3" rx="2.6" ry="5" fill="#c03898" opacity="0.88" transform="rotate(0 522 257.3)"/>
<ellipse cx="583.4" cy="267.1" rx="4.2" ry="5" fill="#e84098" opacity="0.88" transform="rotate(0 583.4 267.1)"/>
<ellipse cx="554.2" cy="145" rx="3" ry="2.6" fill="#8838a8" opacity="0.88" transform="rotate(0 554.2 145)"/>
</g>
<path d="M545.2,71.0 L557.6,59.0" stroke="#fff" stroke-width="2.8" fill="none"/><path d="M555.0,67.2 L557.6,59.0 L549.3,61.3" stroke="#fff" stroke-width="2.5" fill="none" stroke-linejoin="miter" stroke-miterlimit="8"/>
<path d="M467.5,106.0 L480.2,94.0" stroke="#fff" stroke-width="2.8" fill="none"/><path d="M477.5,102.2 L480.2,94.0 L471.9,96.2" stroke="#fff" stroke-width="2.5" fill="none" stroke-linejoin="miter" stroke-miterlimit="8"/>
<path d="M423.6,122.7 L435.8,111.0" stroke="#fff" stroke-width="2.8" fill="none"/><path d="M433.2,119.2 L435.8,111.0 L427.5,113.3" stroke="#fff" stroke-width="2.5" fill="none" stroke-linejoin="miter" stroke-miterlimit="8"/>
<path d="M439.0,148.3 L450.9,136.7" stroke="#fff" stroke-width="2.8" fill="none"/><path d="M448.4,144.9 L450.9,136.7 L442.6,139.0" stroke="#fff" stroke-width="2.5" fill="none" stroke-linejoin="miter" stroke-miterlimit="8"/>
<path d="M444.7,161.3 L457.0,149.2" stroke="#fff" stroke-width="2.8" fill="none"/><path d="M454.5,157.5 L457.0,149.2 L448.8,151.6" stroke="#fff" stroke-width="2.5" fill="none" stroke-linejoin="miter" stroke-miterlimit="8"/>
<path d="M460.5,178.9 L473.2,166.4" stroke="#fff" stroke-width="2.8" fill="none"/><path d="M470.7,174.7 L473.2,166.4 L465.0,168.8" stroke="#fff" stroke-width="2.5" fill="none" stroke-linejoin="miter" stroke-miterlimit="8"/>
<path d="M535.6,172.1 L548.9,159.7" stroke="#fff" stroke-width="2.8" fill="none"/><path d="M546.2,167.8 L548.9,159.7 L540.6,161.8" stroke="#fff" stroke-width="2.5" fill="none" stroke-linejoin="miter" stroke-miterlimit="8"/>
<path d="M607.3,107.3 L619.7,95.1" stroke="#fff" stroke-width="2.8" fill="none"/><path d="M617.2,103.4 L619.7,95.1 L611.5,97.5" stroke="#fff" stroke-width="2.5" fill="none" stroke-linejoin="miter" stroke-miterlimit="8"/>
<path d="M437.7,260.6 L450.1,248.2" stroke="#fff" stroke-width="2.8" fill="none"/><path d="M447.7,256.4 L450.1,248.2 L441.9,250.6" stroke="#fff" stroke-width="2.5" fill="none" stroke-linejoin="miter" stroke-miterlimit="8"/>
<path d="M505.7,275.2 L518.1,263.2" stroke="#fff" stroke-width="2.8" fill="none"/><path d="M515.5,271.4 L518.1,263.2 L509.8,265.5" stroke="#fff" stroke-width="2.5" fill="none" stroke-linejoin="miter" stroke-miterlimit="8"/>
<path d="M564.7,278.8 L577.0,266.9" stroke="#fff" stroke-width="2.8" fill="none"/><path d="M574.4,275.1 L577.0,266.9 L568.7,269.2" stroke="#fff" stroke-width="2.5" fill="none" stroke-linejoin="miter" stroke-miterlimit="8"/>
</g>
<rect x="401.2" y="45.6" width="238.1" height="236.7" fill="none" stroke="#050505" stroke-width="1.0"/>
<text x="406.6" y="65.8" font-size="17.2" font-weight="bold" fill="#fff">Pre (2.15%)</text>
<rect x="401.2" y="293.3" width="238.1" height="237.1" fill="#02030a"/>
<g clip-path="url(#cB2)">
<g filter="url(#fBlurL)" opacity="0.25">
<circle cx="621.4" cy="518.2" r="12.4" fill="#15166a"/>
<circle cx="570.3" cy="393.2" r="10.4" fill="#15166a"/>
<circle cx="537.4" cy="449.9" r="9.4" fill="#15166a"/>
<circle cx="537.6" cy="487.9" r="9.5" fill="#15166a"/>
<circle cx="531.1" cy="511.1" r="10.8" fill="#15166a"/>
<circle cx="592.9" cy="518.3" r="10.5" fill="#15166a"/>
<circle cx="527.1" cy="333.5" r="10.6" fill="#15166a"/>
<circle cx="566.2" cy="490.1" r="11.1" fill="#15166a"/>
<circle cx="627.8" cy="311.9" r="10.7" fill="#15166a"/>
<circle cx="449.7" cy="454.8" r="8.7" fill="#15166a"/>
<circle cx="472.1" cy="506.4" r="8.2" fill="#15166a"/>
<circle cx="473.1" cy="520.8" r="9.5" fill="#15166a"/>
<circle cx="464.0" cy="495.4" r="10.4" fill="#15166a"/>
<circle cx="552.2" cy="303.4" r="11.9" fill="#15166a"/>
<circle cx="557.1" cy="333.5" r="12.8" fill="#15166a"/>
<circle cx="584.7" cy="488.1" r="10.9" fill="#15166a"/>
<circle cx="556.3" cy="469.9" r="12.5" fill="#15166a"/>
<circle cx="495.3" cy="465.0" r="11.7" fill="#15166a"/>
<circle cx="459.8" cy="368.1" r="11.2" fill="#15166a"/>
<circle cx="558.6" cy="395.3" r="8.1" fill="#15166a"/>
<circle cx="560.4" cy="358.0" r="8.7" fill="#15166a"/>
<circle cx="545.6" cy="419.3" r="8.8" fill="#15166a"/>
<circle cx="406.5" cy="480.7" r="10.7" fill="#15166a"/>
<circle cx="572.6" cy="520.2" r="11.0" fill="#15166a"/>
<circle cx="443.1" cy="344.8" r="8.1" fill="#15166a"/>
<circle cx="590.6" cy="327.2" r="8.5" fill="#15166a"/>
<circle cx="601.0" cy="356.4" r="10.9" fill="#15166a"/>
<circle cx="424.8" cy="352.0" r="9.7" fill="#15166a"/>
<circle cx="511.7" cy="478.0" r="9.5" fill="#15166a"/>
<circle cx="610.7" cy="517.2" r="7.9" fill="#15166a"/>
<circle cx="552.1" cy="512.6" r="8.5" fill="#15166a"/>
<circle cx="497.0" cy="373.7" r="8.6" fill="#15166a"/>
<circle cx="455.4" cy="526.9" r="10.0" fill="#15166a"/>
<circle cx="634.9" cy="526.4" r="8.6" fill="#15166a"/>
<circle cx="485.8" cy="317.3" r="11.2" fill="#15166a"/>
<circle cx="578.9" cy="360.2" r="10.4" fill="#15166a"/>
<circle cx="574.2" cy="509.9" r="12.1" fill="#15166a"/>
<circle cx="442.2" cy="438.5" r="10.0" fill="#15166a"/>
<circle cx="458.3" cy="444.5" r="9.3" fill="#15166a"/>
<circle cx="401.9" cy="381.4" r="11.6" fill="#15166a"/>
<circle cx="447.3" cy="313.2" r="9.1" fill="#15166a"/>
<circle cx="559.8" cy="295.0" r="10.4" fill="#15166a"/>
<circle cx="596.3" cy="408.8" r="8.2" fill="#15166a"/>
<circle cx="495.7" cy="428.9" r="11.3" fill="#15166a"/>
<circle cx="593.0" cy="507.1" r="8.0" fill="#15166a"/>
<circle cx="605.9" cy="478.3" r="8.6" fill="#15166a"/>
<circle cx="486.4" cy="402.2" r="12.5" fill="#15166a"/>
<circle cx="510.3" cy="502.6" r="11.0" fill="#15166a"/>
<circle cx="437.0" cy="366.0" r="9.2" fill="#15166a"/>
<circle cx="543.0" cy="390.0" r="8.7" fill="#15166a"/>
<circle cx="437.0" cy="393.2" r="9.4" fill="#15166a"/>
<circle cx="466.2" cy="349.5" r="7.9" fill="#15166a"/>
<circle cx="485.4" cy="489.4" r="11.7" fill="#15166a"/>
<circle cx="456.6" cy="382.3" r="10.0" fill="#15166a"/>
<circle cx="496.9" cy="394.6" r="11.3" fill="#15166a"/>
<circle cx="551.7" cy="379.8" r="12.8" fill="#15166a"/>
<circle cx="471.9" cy="303.8" r="10.2" fill="#15166a"/>
<circle cx="558.2" cy="432.0" r="9.1" fill="#15166a"/>
<circle cx="638.5" cy="371.3" r="12.1" fill="#15166a"/>
<circle cx="473.0" cy="395.4" r="11.1" fill="#15166a"/>
<circle cx="522.7" cy="465.2" r="10.2" fill="#15166a"/>
<circle cx="490.4" cy="527.0" r="11.5" fill="#15166a"/>
<circle cx="633.9" cy="412.1" r="8.0" fill="#15166a"/>
<circle cx="564.4" cy="305.2" r="9.0" fill="#15166a"/>
<circle cx="636.0" cy="429.8" r="8.1" fill="#15166a"/>
<circle cx="487.1" cy="331.6" r="9.3" fill="#15166a"/>
<circle cx="477.3" cy="371.8" r="9.1" fill="#15166a"/>
<circle cx="620.9" cy="335.4" r="8.7" fill="#15166a"/>
<circle cx="428.7" cy="294.3" r="9.8" fill="#15166a"/>
<circle cx="579.2" cy="416.1" r="10.3" fill="#15166a"/>
<circle cx="597.8" cy="441.4" r="9.5" fill="#15166a"/>
<circle cx="404.5" cy="469.3" r="10.2" fill="#15166a"/>
<circle cx="487.2" cy="358.0" r="10.2" fill="#15166a"/>
<circle cx="431.2" cy="339.9" r="8.9" fill="#15166a"/>
<circle cx="550.8" cy="524.3" r="9.5" fill="#15166a"/>
<circle cx="417.0" cy="330.2" r="8.2" fill="#15166a"/>
<circle cx="404.3" cy="456.9" r="11.5" fill="#15166a"/>
<circle cx="405.0" cy="411.5" r="9.4" fill="#15166a"/>
<circle cx="443.0" cy="301.0" r="11.5" fill="#15166a"/>
<circle cx="548.5" cy="343.6" r="9.6" fill="#15166a"/>
<circle cx="461.8" cy="392.3" r="9.7" fill="#15166a"/>
<circle cx="437.5" cy="455.1" r="8.3" fill="#15166a"/>
<circle cx="445.4" cy="382.0" r="12.2" fill="#15166a"/>
<circle cx="523.0" cy="492.0" r="9.0" fill="#15166a"/>
<circle cx="498.1" cy="450.7" r="11.1" fill="#15166a"/>
<circle cx="480.3" cy="422.0" r="12.8" fill="#15166a"/>
<circle cx="560.8" cy="519.1" r="11.8" fill="#15166a"/>
<circle cx="401.3" cy="334.7" r="12.1" fill="#15166a"/>
<circle cx="461.9" cy="425.8" r="9.8" fill="#15166a"/>
<circle cx="582.1" cy="477.8" r="9.5" fill="#15166a"/>
<circle cx="588.5" cy="308.3" r="12.6" fill="#15166a"/>
<circle cx="635.2" cy="336.3" r="10.6" fill="#15166a"/>
<circle cx="620.1" cy="506.7" r="8.6" fill="#15166a"/>
<circle cx="555.7" cy="315.6" r="11.0" fill="#15166a"/>
<circle cx="536.8" cy="477.1" r="8.4" fill="#15166a"/>
<circle cx="512.7" cy="370.0" r="12.8" fill="#15166a"/>
<circle cx="521.1" cy="358.7" r="9.6" fill="#15166a"/>
<circle cx="425.8" cy="481.3" r="12.0" fill="#15166a"/>
<circle cx="594.3" cy="478.0" r="9.8" fill="#15166a"/>
<circle cx="555.7" cy="502.3" r="10.3" fill="#15166a"/>
<circle cx="620.2" cy="363.3" r="12.5" fill="#15166a"/>
<circle cx="460.7" cy="305.1" r="10.1" fill="#15166a"/>
<circle cx="575.8" cy="443.0" r="11.6" fill="#15166a"/>
<circle cx="481.3" cy="466.3" r="8.0" fill="#15166a"/>
<circle cx="418.8" cy="381.3" r="8.6" fill="#15166a"/>
<circle cx="466.8" cy="331.0" r="9.7" fill="#15166a"/>
<circle cx="579.0" cy="312.7" r="11.7" fill="#15166a"/>
<circle cx="531.0" cy="312.1" r="8.2" fill="#15166a"/>
</g>
<g filter="url(#fBlurM)">
<ellipse cx="620.3" cy="331.9" rx="8.0" ry="1.7" fill="#1cb450" opacity="0.59" transform="rotate(92 620.3 331.9)"/>
<ellipse cx="426.7" cy="408.5" rx="5.2" ry="2.7" fill="#1cb450" opacity="0.52" transform="rotate(136 426.7 408.5)"/>
<ellipse cx="524.8" cy="473.2" rx="7.6" ry="1.4" fill="#0c8030" opacity="0.63" transform="rotate(108 524.8 473.2)"/>
<ellipse cx="505.7" cy="353.7" rx="6.3" ry="2.3" fill="#1cb450" opacity="0.54" transform="rotate(83 505.7 353.7)"/>
<ellipse cx="543.5" cy="307.2" rx="7.3" ry="2.7" fill="#14a040" opacity="0.55" transform="rotate(112 543.5 307.2)"/>
<ellipse cx="536.3" cy="369.3" rx="7.9" ry="2.7" fill="#14a040" opacity="0.36" transform="rotate(164 536.3 369.3)"/>
<ellipse cx="578.4" cy="501.3" rx="6.6" ry="2.7" fill="#109838" opacity="0.72" transform="rotate(85 578.4 501.3)"/>
<ellipse cx="425.1" cy="301.6" rx="2.9" ry="2.2" fill="#0c8030" opacity="0.38" transform="rotate(121 425.1 301.6)"/>
<ellipse cx="550.5" cy="505.6" rx="5.0" ry="1.6" fill="#14a040" opacity="0.35" transform="rotate(100 550.5 505.6)"/>
<ellipse cx="506.7" cy="324.8" rx="5.4" ry="2.5" fill="#0c8030" opacity="0.42" transform="rotate(68 506.7 324.8)"/>
<ellipse cx="403.7" cy="372.3" rx="2.6" ry="1.9" fill="#1cb450" opacity="0.42" transform="rotate(155 403.7 372.3)"/>
<ellipse cx="442.0" cy="449.7" rx="2.9" ry="2.7" fill="#0c8030" opacity="0.49" transform="rotate(90 442.0 449.7)"/>
<ellipse cx="531.1" cy="527.3" rx="5.1" ry="2.1" fill="#1cb450" opacity="0.51" transform="rotate(153 531.1 527.3)"/>
<ellipse cx="494.6" cy="417.6" rx="5.6" ry="2.4" fill="#1cb450" opacity="0.43" transform="rotate(28 494.6 417.6)"/>
<ellipse cx="557.9" cy="313.6" rx="7.0" ry="2.6" fill="#0c8030" opacity="0.53" transform="rotate(88 557.9 313.6)"/>
<ellipse cx="444.5" cy="332.0" rx="5.4" ry="3.0" fill="#1cb450" opacity="0.51" transform="rotate(75 444.5 332.0)"/>
<ellipse cx="519.1" cy="435.9" rx="3.4" ry="2.7" fill="#0c8030" opacity="0.48" transform="rotate(74 519.1 435.9)"/>
<ellipse cx="542.2" cy="318.3" rx="4.5" ry="2.3" fill="#1cb450" opacity="0.42" transform="rotate(149 542.2 318.3)"/>
<ellipse cx="440.1" cy="386.1" rx="5.0" ry="2.7" fill="#18b090" opacity="0.35" transform="rotate(19 440.1 386.1)"/>
<ellipse cx="520.5" cy="436.6" rx="7.1" ry="2.2" fill="#18b090" opacity="0.50" transform="rotate(127 520.5 436.6)"/>
<ellipse cx="561.7" cy="427.6" rx="3.0" ry="2.1" fill="#0c8030" opacity="0.49" transform="rotate(77 561.7 427.6)"/>
<ellipse cx="497.2" cy="366.5" rx="7.2" ry="3.0" fill="#109838" opacity="0.80" transform="rotate(102 497.2 366.5)"/>
<ellipse cx="452.2" cy="360.0" rx="5.8" ry="1.7" fill="#109838" opacity="0.63" transform="rotate(122 452.2 360.0)"/>
<ellipse cx="462.3" cy="531.2" rx="7.9" ry="2.3" fill="#109838" opacity="0.48" transform="rotate(127 462.3 531.2)"/>
<ellipse cx="566.5" cy="289.8" rx="5.8" ry="2.4" fill="#109838" opacity="0.50" transform="rotate(67 566.5 289.8)"/>
<ellipse cx="440.1" cy="446.4" rx="2.8" ry="1.6" fill="#109838" opacity="0.78" transform="rotate(53 440.1 446.4)"/>
<ellipse cx="544.8" cy="430.0" rx="3.4" ry="2.4" fill="#109838" opacity="0.75" transform="rotate(149 544.8 430.0)"/>
<ellipse cx="479.3" cy="459.7" rx="3.7" ry="2.9" fill="#0c8030" opacity="0.73" transform="rotate(67 479.3 459.7)"/>
<ellipse cx="440.8" cy="461.2" rx="3.8" ry="2.0" fill="#18b090" opacity="0.53" transform="rotate(142 440.8 461.2)"/>
<ellipse cx="499.4" cy="351.1" rx="7.6" ry="2.7" fill="#14a040" opacity="0.56" transform="rotate(136 499.4 351.1)"/>
<ellipse cx="472.9" cy="458.7" rx="8.0" ry="2.0" fill="#109838" opacity="0.73" transform="rotate(44 472.9 458.7)"/>
<ellipse cx="592.6" cy="513.9" rx="6.5" ry="2.1" fill="#0c8030" opacity="0.76" transform="rotate(161 592.6 513.9)"/>
<ellipse cx="455.7" cy="494.5" rx="4.8" ry="2.2" fill="#18b090" opacity="0.44" transform="rotate(180 455.7 494.5)"/>
<ellipse cx="603.1" cy="410.4" rx="2.9" ry="2.4" fill="#18b090" opacity="0.77" transform="rotate(171 603.1 410.4)"/>
<ellipse cx="575.2" cy="381.8" rx="4.5" ry="2.7" fill="#0c8030" opacity="0.36" transform="rotate(114 575.2 381.8)"/>
<ellipse cx="529.1" cy="435.7" rx="7.2" ry="1.8" fill="#1cb450" opacity="0.63" transform="rotate(25 529.1 435.7)"/>
<ellipse cx="568.0" cy="441.1" rx="6.7" ry="1.4" fill="#14a040" opacity="0.62" transform="rotate(5 568.0 441.1)"/>
<ellipse cx="586.5" cy="475.8" rx="7.0" ry="2.9" fill="#109838" opacity="0.64" transform="rotate(166 586.5 475.8)"/>
<ellipse cx="440.0" cy="456.8" rx="4.0" ry="1.4" fill="#0c8030" opacity="0.71" transform="rotate(125 440.0 456.8)"/>
<ellipse cx="618.0" cy="342.1" rx="3.3" ry="2.6" fill="#0c8030" opacity="0.77" transform="rotate(45 618.0 342.1)"/>
<ellipse cx="627.5" cy="378.0" rx="6.1" ry="1.9" fill="#109838" opacity="0.65" transform="rotate(13 627.5 378.0)"/>
<ellipse cx="423.6" cy="415.7" rx="7.6" ry="1.7" fill="#18b090" opacity="0.59" transform="rotate(66 423.6 415.7)"/>
<ellipse cx="526.0" cy="472.8" rx="6.5" ry="2.7" fill="#1cb450" opacity="0.75" transform="rotate(19 526.0 472.8)"/>
<ellipse cx="435.5" cy="290.1" rx="4.1" ry="1.5" fill="#109838" opacity="0.75" transform="rotate(5 435.5 290.1)"/>
<ellipse cx="495.5" cy="407.8" rx="7.9" ry="2.4" fill="#109838" opacity="0.45" transform="rotate(54 495.5 407.8)"/>
<ellipse cx="458.3" cy="519.3" rx="7.7" ry="2.5" fill="#1cb450" opacity="0.44" transform="rotate(74 458.3 519.3)"/>
<ellipse cx="556.8" cy="460.1" rx="3.8" ry="2.6" fill="#109838" opacity="0.71" transform="rotate(22 556.8 460.1)"/>
<ellipse cx="547.4" cy="342.3" rx="3.4" ry="2.4" fill="#109838" opacity="0.63" transform="rotate(66 547.4 342.3)"/>
<ellipse cx="440.3" cy="456.7" rx="2.8" ry="1.4" fill="#14a040" opacity="0.38" transform="rotate(41 440.3 456.7)"/>
<ellipse cx="534.5" cy="515.1" rx="6.0" ry="2.1" fill="#1cb450" opacity="0.37" transform="rotate(62 534.5 515.1)"/>
<ellipse cx="538.4" cy="506.4" rx="7.2" ry="2.1" fill="#14a040" opacity="0.39" transform="rotate(121 538.4 506.4)"/>
<ellipse cx="547.6" cy="338.6" rx="5.7" ry="1.7" fill="#0c8030" opacity="0.69" transform="rotate(28 547.6 338.6)"/>
<ellipse cx="515.6" cy="484.9" rx="3.1" ry="1.8" fill="#109838" opacity="0.78" transform="rotate(71 515.6 484.9)"/>
<ellipse cx="479.8" cy="333.8" rx="5.0" ry="2.5" fill="#0c8030" opacity="0.60" transform="rotate(122 479.8 333.8)"/>
<ellipse cx="468.6" cy="377.8" rx="4.6" ry="2.6" fill="#109838" opacity="0.64" transform="rotate(27 468.6 377.8)"/>
<ellipse cx="640.6" cy="318.2" rx="4.4" ry="2.5" fill="#109838" opacity="0.75" transform="rotate(31 640.6 318.2)"/>
<ellipse cx="544.9" cy="485.0" rx="4.5" ry="2.7" fill="#18b090" opacity="0.35" transform="rotate(137 544.9 485.0)"/>
<ellipse cx="574.6" cy="409.0" rx="3.8" ry="2.2" fill="#1cb450" opacity="0.68" transform="rotate(163 574.6 409.0)"/>
<ellipse cx="566.0" cy="297.9" rx="7.6" ry="2.1" fill="#0c8030" opacity="0.56" transform="rotate(113 566.0 297.9)"/>
<ellipse cx="405.8" cy="389.7" rx="3.1" ry="2.1" fill="#109838" opacity="0.65" transform="rotate(144 405.8 389.7)"/>
<ellipse cx="473.9" cy="403.3" rx="6.7" ry="2.5" fill="#18b090" opacity="0.67" transform="rotate(100 473.9 403.3)"/>
<ellipse cx="457.5" cy="500.7" rx="3.0" ry="1.9" fill="#14a040" opacity="0.51" transform="rotate(164 457.5 500.7)"/>
<ellipse cx="613.7" cy="336.4" rx="6.8" ry="2.3" fill="#0c8030" opacity="0.47" transform="rotate(99 613.7 336.4)"/>
<ellipse cx="480.0" cy="334.5" rx="5.4" ry="2.3" fill="#109838" opacity="0.68" transform="rotate(153 480.0 334.5)"/>
<ellipse cx="435.4" cy="322.8" rx="3.1" ry="2.3" fill="#14a040" opacity="0.66" transform="rotate(168 435.4 322.8)"/>
<ellipse cx="480.6" cy="352.9" rx="4.4" ry="1.4" fill="#18b090" opacity="0.49" transform="rotate(49 480.6 352.9)"/>
<ellipse cx="510.4" cy="523.4" rx="2.8" ry="1.5" fill="#0c8030" opacity="0.54" transform="rotate(156 510.4 523.4)"/>
<ellipse cx="521.8" cy="301.8" rx="5.1" ry="1.5" fill="#0c8030" opacity="0.44" transform="rotate(107 521.8 301.8)"/>
<ellipse cx="601.2" cy="516.5" rx="4.8" ry="2.4" fill="#14a040" opacity="0.78" transform="rotate(21 601.2 516.5)"/>
<ellipse cx="452.2" cy="466.1" rx="6.9" ry="1.4" fill="#14a040" opacity="0.65" transform="rotate(114 452.2 466.1)"/>
<ellipse cx="520.8" cy="380.0" rx="3.9" ry="1.5" fill="#14a040" opacity="0.63" transform="rotate(117 520.8 380.0)"/>
<ellipse cx="468.1" cy="512.2" rx="4.8" ry="2.5" fill="#18b090" opacity="0.61" transform="rotate(9 468.1 512.2)"/>
<ellipse cx="454.5" cy="390.2" rx="6.8" ry="1.6" fill="#18b090" opacity="0.36" transform="rotate(113 454.5 390.2)"/>
<ellipse cx="578.0" cy="493.7" rx="4.7" ry="2.8" fill="#1cb450" opacity="0.54" transform="rotate(54 578.0 493.7)"/>
<ellipse cx="414.1" cy="375.7" rx="7.5" ry="2.2" fill="#18b090" opacity="0.37" transform="rotate(74 414.1 375.7)"/>
<ellipse cx="629.8" cy="401.1" rx="7.1" ry="1.9" fill="#18b090" opacity="0.58" transform="rotate(17 629.8 401.1)"/>
<ellipse cx="561.6" cy="304.7" rx="5.8" ry="2.7" fill="#14a040" opacity="0.63" transform="rotate(11 561.6 304.7)"/>
<ellipse cx="556.7" cy="529.4" rx="6.3" ry="1.9" fill="#18b090" opacity="0.58" transform="rotate(119 556.7 529.4)"/>
<ellipse cx="573.3" cy="364.7" rx="6.2" ry="2.7" fill="#0c8030" opacity="0.51" transform="rotate(161 573.3 364.7)"/>
<ellipse cx="583.3" cy="320.9" rx="4.9" ry="1.9" fill="#0c8030" opacity="0.69" transform="rotate(43 583.3 320.9)"/>
<ellipse cx="467.5" cy="309.9" rx="5.3" ry="1.8" fill="#14a040" opacity="0.57" transform="rotate(81 467.5 309.9)"/>
<ellipse cx="538.6" cy="291.9" rx="6.4" ry="1.9" fill="#18b090" opacity="0.60" transform="rotate(8 538.6 291.9)"/>
<ellipse cx="415.3" cy="460.2" rx="6.7" ry="2.8" fill="#109838" opacity="0.63" transform="rotate(57 415.3 460.2)"/>
<ellipse cx="521.4" cy="484.6" rx="7.6" ry="1.4" fill="#18b090" opacity="0.76" transform="rotate(161 521.4 484.6)"/>
<ellipse cx="612.0" cy="421.1" rx="4.9" ry="2.5" fill="#0c8030" opacity="0.67" transform="rotate(14 612.0 421.1)"/>
<ellipse cx="407.8" cy="297.4" rx="4.6" ry="1.7" fill="#18b090" opacity="0.57" transform="rotate(133 407.8 297.4)"/>
<ellipse cx="483.5" cy="412.5" rx="5.2" ry="2.5" fill="#18b090" opacity="0.50" transform="rotate(75 483.5 412.5)"/>
<ellipse cx="561.2" cy="478.4" rx="4.7" ry="2.7" fill="#109838" opacity="0.38" transform="rotate(5 561.2 478.4)"/>
<ellipse cx="477.0" cy="511.4" rx="7.2" ry="2.1" fill="#1cb450" opacity="0.59" transform="rotate(121 477.0 511.4)"/>
<ellipse cx="545.8" cy="412.0" rx="4.5" ry="2.1" fill="#18b090" opacity="0.74" transform="rotate(112 545.8 412.0)"/>
<ellipse cx="549.0" cy="364.5" rx="5.9" ry="2.4" fill="#1cb450" opacity="0.64" transform="rotate(91 549.0 364.5)"/>
<ellipse cx="589.3" cy="334.2" rx="5.6" ry="2.0" fill="#18b090" opacity="0.36" transform="rotate(5 589.3 334.2)"/>
<ellipse cx="542.9" cy="493.6" rx="5.4" ry="2.5" fill="#14a040" opacity="0.44" transform="rotate(178 542.9 493.6)"/>
<ellipse cx="516.0" cy="348.0" rx="5.8" ry="1.5" fill="#1cb450" opacity="0.63" transform="rotate(112 516.0 348.0)"/>
<ellipse cx="517.1" cy="449.3" rx="5.0" ry="2.9" fill="#0c8030" opacity="0.76" transform="rotate(138 517.1 449.3)"/>
<ellipse cx="541.4" cy="530.6" rx="5.7" ry="2.8" fill="#0c8030" opacity="0.40" transform="rotate(134 541.4 530.6)"/>
<ellipse cx="555.2" cy="451.6" rx="6.9" ry="1.7" fill="#109838" opacity="0.69" transform="rotate(150 555.2 451.6)"/>
<ellipse cx="544.5" cy="372.9" rx="6.0" ry="1.7" fill="#14a040" opacity="0.52" transform="rotate(138 544.5 372.9)"/>
<ellipse cx="625.9" cy="330.0" rx="2.6" ry="1.4" fill="#0c8030" opacity="0.42" transform="rotate(23 625.9 330.0)"/>
<ellipse cx="581.4" cy="315.2" rx="6.4" ry="2.4" fill="#1cb450" opacity="0.60" transform="rotate(175 581.4 315.2)"/>
<ellipse cx="580.6" cy="352.0" rx="5.9" ry="2.8" fill="#0c8030" opacity="0.72" transform="rotate(150 580.6 352.0)"/>
<ellipse cx="424.9" cy="446.1" rx="4.4" ry="1.6" fill="#1cb450" opacity="0.50" transform="rotate(10 424.9 446.1)"/>
<ellipse cx="408.6" cy="472.3" rx="4.3" ry="2.9" fill="#0c8030" opacity="0.49" transform="rotate(170 408.6 472.3)"/>
<ellipse cx="538.7" cy="384.1" rx="3.5" ry="1.5" fill="#14a040" opacity="0.66" transform="rotate(4 538.7 384.1)"/>
<ellipse cx="480.8" cy="518.9" rx="7.7" ry="3.0" fill="#18b090" opacity="0.75" transform="rotate(101 480.8 518.9)"/>
<ellipse cx="476.8" cy="460.8" rx="5.9" ry="2.3" fill="#14a040" opacity="0.49" transform="rotate(30 476.8 460.8)"/>
<ellipse cx="450.9" cy="512.0" rx="3.1" ry="1.3" fill="#18b090" opacity="0.78" transform="rotate(124 450.9 512.0)"/>
<ellipse cx="432.2" cy="355.1" rx="3.3" ry="2.3" fill="#1cb450" opacity="0.64" transform="rotate(51 432.2 355.1)"/>
<ellipse cx="435.2" cy="480.2" rx="5.5" ry="1.6" fill="#18b090" opacity="0.59" transform="rotate(94 435.2 480.2)"/>
<ellipse cx="596.0" cy="501.0" rx="4.6" ry="2.5" fill="#14a040" opacity="0.43" transform="rotate(144 596.0 501.0)"/>
<ellipse cx="504.5" cy="350.3" rx="2.8" ry="2.1" fill="#18b090" opacity="0.55" transform="rotate(137 504.5 350.3)"/>
<ellipse cx="440.8" cy="380.5" rx="5.8" ry="2.8" fill="#18b090" opacity="0.79" transform="rotate(122 440.8 380.5)"/>
<ellipse cx="468.5" cy="307.8" rx="4.9" ry="1.5" fill="#0c8030" opacity="0.55" transform="rotate(22 468.5 307.8)"/>
<ellipse cx="472.9" cy="348.2" rx="2.9" ry="2.2" fill="#0c8030" opacity="0.62" transform="rotate(71 472.9 348.2)"/>
<ellipse cx="495.4" cy="317.9" rx="3.5" ry="2.1" fill="#14a040" opacity="0.71" transform="rotate(11 495.4 317.9)"/>
<ellipse cx="469.5" cy="312.2" rx="2.7" ry="2.4" fill="#14a040" opacity="0.65" transform="rotate(85 469.5 312.2)"/>
<ellipse cx="445.0" cy="309.9" rx="5.6" ry="1.8" fill="#14a040" opacity="0.75" transform="rotate(153 445.0 309.9)"/>
<ellipse cx="443.3" cy="528.2" rx="7.2" ry="1.5" fill="#1cb450" opacity="0.51" transform="rotate(158 443.3 528.2)"/>
<ellipse cx="441.5" cy="378.5" rx="6.4" ry="2.0" fill="#18b090" opacity="0.52" transform="rotate(96 441.5 378.5)"/>
<ellipse cx="501.6" cy="463.8" rx="5.5" ry="2.5" fill="#14a040" opacity="0.66" transform="rotate(93 501.6 463.8)"/>
<ellipse cx="576.8" cy="406.8" rx="4.9" ry="2.4" fill="#1cb450" opacity="0.54" transform="rotate(14 576.8 406.8)"/>
<ellipse cx="456.5" cy="457.4" rx="4.0" ry="2.7" fill="#1cb450" opacity="0.76" transform="rotate(101 456.5 457.4)"/>
<ellipse cx="603.5" cy="435.9" rx="7.2" ry="2.4" fill="#14a040" opacity="0.70" transform="rotate(130 603.5 435.9)"/>
<ellipse cx="607.3" cy="511.4" rx="3.8" ry="2.9" fill="#18b090" opacity="0.65" transform="rotate(180 607.3 511.4)"/>
<ellipse cx="422.3" cy="372.0" rx="6.8" ry="1.8" fill="#14a040" opacity="0.46" transform="rotate(87 422.3 372.0)"/>
<ellipse cx="472.9" cy="350.7" rx="6.3" ry="2.9" fill="#0c8030" opacity="0.55" transform="rotate(126 472.9 350.7)"/>
<ellipse cx="450.8" cy="296.2" rx="5.9" ry="2.3" fill="#1cb450" opacity="0.46" transform="rotate(105 450.8 296.2)"/>
<ellipse cx="593.4" cy="488.8" rx="7.6" ry="1.5" fill="#1cb450" opacity="0.64" transform="rotate(121 593.4 488.8)"/>
<ellipse cx="580.9" cy="509.9" rx="2.5" ry="2.6" fill="#1cb450" opacity="0.58" transform="rotate(2 580.9 509.9)"/>
<ellipse cx="565.1" cy="288.4" rx="7.6" ry="2.6" fill="#18b090" opacity="0.37" transform="rotate(162 565.1 288.4)"/>
<ellipse cx="493.0" cy="351.7" rx="7.8" ry="1.4" fill="#1cb450" opacity="0.40" transform="rotate(97 493.0 351.7)"/>
<ellipse cx="451.3" cy="370.9" rx="4.4" ry="2.8" fill="#0c8030" opacity="0.43" transform="rotate(92 451.3 370.9)"/>
<ellipse cx="529.9" cy="305.3" rx="2.7" ry="2.4" fill="#18b090" opacity="0.70" transform="rotate(88 529.9 305.3)"/>
<ellipse cx="504.6" cy="343.4" rx="3.4" ry="2.2" fill="#109838" opacity="0.66" transform="rotate(57 504.6 343.4)"/>
<ellipse cx="495.7" cy="474.3" rx="7.3" ry="2.1" fill="#14a040" opacity="0.55" transform="rotate(17 495.7 474.3)"/>
<ellipse cx="508.7" cy="316.9" rx="5.4" ry="2.8" fill="#1cb450" opacity="0.64" transform="rotate(60 508.7 316.9)"/>
<ellipse cx="580.5" cy="485.5" rx="5.5" ry="3.0" fill="#109838" opacity="0.64" transform="rotate(66 580.5 485.5)"/>
<ellipse cx="429.3" cy="347.1" rx="7.3" ry="1.6" fill="#18b090" opacity="0.66" transform="rotate(174 429.3 347.1)"/>
<ellipse cx="466.3" cy="478.6" rx="5.3" ry="2.3" fill="#0c8030" opacity="0.44" transform="rotate(139 466.3 478.6)"/>
<ellipse cx="438.2" cy="522.9" rx="3.3" ry="1.6" fill="#18b090" opacity="0.65" transform="rotate(3 438.2 522.9)"/>
<ellipse cx="493.5" cy="352.7" rx="4.7" ry="1.4" fill="#109838" opacity="0.40" transform="rotate(100 493.5 352.7)"/>
<ellipse cx="535.4" cy="465.0" rx="4.3" ry="1.5" fill="#18b090" opacity="0.76" transform="rotate(131 535.4 465.0)"/>
<ellipse cx="449.5" cy="347.4" rx="8.0" ry="2.8" fill="#109838" opacity="0.61" transform="rotate(68 449.5 347.4)"/>
<ellipse cx="552.4" cy="299.0" rx="4.8" ry="2.4" fill="#1cb450" opacity="0.53" transform="rotate(14 552.4 299.0)"/>
<ellipse cx="631.8" cy="438.8" rx="4.3" ry="1.5" fill="#109838" opacity="0.42" transform="rotate(86 631.8 438.8)"/>
<ellipse cx="503.4" cy="539.4" rx="3.6" ry="1.4" fill="#14a040" opacity="0.75" transform="rotate(35 503.4 539.4)"/>
<ellipse cx="417.2" cy="354.3" rx="4.0" ry="2.4" fill="#14a040" opacity="0.69" transform="rotate(34 417.2 354.3)"/>
<ellipse cx="630.1" cy="376.0" rx="2.8" ry="1.7" fill="#0c8030" opacity="0.51" transform="rotate(153 630.1 376.0)"/>
<ellipse cx="488.9" cy="411.7" rx="5.6" ry="2.3" fill="#1cb450" opacity="0.64" transform="rotate(93 488.9 411.7)"/>
<ellipse cx="481.8" cy="384.3" rx="6.1" ry="2.8" fill="#109838" opacity="0.79" transform="rotate(24 481.8 384.3)"/>
<ellipse cx="423.6" cy="359.9" rx="3.8" ry="2.7" fill="#1cb450" opacity="0.45" transform="rotate(155 423.6 359.9)"/>
<ellipse cx="437.8" cy="518.8" rx="3.3" ry="2.4" fill="#109838" opacity="0.41" transform="rotate(3 437.8 518.8)"/>
<ellipse cx="459.5" cy="494.4" rx="3.4" ry="2.6" fill="#109838" opacity="0.45" transform="rotate(166 459.5 494.4)"/>
<ellipse cx="425.9" cy="379.8" rx="7.6" ry="1.7" fill="#0c8030" opacity="0.70" transform="rotate(99 425.9 379.8)"/>
<ellipse cx="472.5" cy="458.4" rx="6.6" ry="2.3" fill="#0c8030" opacity="0.52" transform="rotate(15 472.5 458.4)"/>
<ellipse cx="544.7" cy="462.5" rx="2.8" ry="1.9" fill="#109838" opacity="0.45" transform="rotate(174 544.7 462.5)"/>
<ellipse cx="530.9" cy="379.0" rx="3.9" ry="2.0" fill="#1cb450" opacity="0.65" transform="rotate(169 530.9 379.0)"/>
<ellipse cx="502.8" cy="422.9" rx="3.1" ry="2.1" fill="#14a040" opacity="0.42" transform="rotate(99 502.8 422.9)"/>
<ellipse cx="507.9" cy="427.4" rx="4.1" ry="2.3" fill="#0c8030" opacity="0.46" transform="rotate(37 507.9 427.4)"/>
<ellipse cx="616.5" cy="323.6" rx="6.1" ry="2.0" fill="#0c8030" opacity="0.45" transform="rotate(127 616.5 323.6)"/>
<ellipse cx="542.6" cy="515.4" rx="5.5" ry="2.9" fill="#109838" opacity="0.74" transform="rotate(56 542.6 515.4)"/>
<ellipse cx="453.2" cy="506.6" rx="3.6" ry="2.8" fill="#109838" opacity="0.41" transform="rotate(106 453.2 506.6)"/>
<ellipse cx="613.3" cy="391.2" rx="3.4" ry="1.4" fill="#18b090" opacity="0.39" transform="rotate(163 613.3 391.2)"/>
<ellipse cx="436.0" cy="443.9" rx="4.3" ry="2.4" fill="#14a040" opacity="0.38" transform="rotate(44 436.0 443.9)"/>
<ellipse cx="517.6" cy="349.2" rx="3.5" ry="2.0" fill="#0c8030" opacity="0.48" transform="rotate(99 517.6 349.2)"/>
<ellipse cx="403.7" cy="488.9" rx="7.0" ry="1.5" fill="#109838" opacity="0.52" transform="rotate(42 403.7 488.9)"/>
<ellipse cx="572.8" cy="519.4" rx="4.5" ry="2.3" fill="#109838" opacity="0.72" transform="rotate(107 572.8 519.4)"/>
<ellipse cx="473.6" cy="417.4" rx="7.3" ry="2.3" fill="#1cb450" opacity="0.35" transform="rotate(68 473.6 417.4)"/>
<ellipse cx="565.0" cy="363.6" rx="7.3" ry="1.9" fill="#1cb450" opacity="0.44" transform="rotate(17 565.0 363.6)"/>
<ellipse cx="564.3" cy="523.2" rx="2.7" ry="2.9" fill="#0c8030" opacity="0.51" transform="rotate(142 564.3 523.2)"/>
<ellipse cx="433.6" cy="372.8" rx="6.3" ry="1.7" fill="#18b090" opacity="0.58" transform="rotate(30 433.6 372.8)"/>
<ellipse cx="409.8" cy="396.8" rx="4.1" ry="2.0" fill="#18b090" opacity="0.46" transform="rotate(28 409.8 396.8)"/>
<ellipse cx="490.7" cy="393.4" rx="2.7" ry="1.9" fill="#18b090" opacity="0.36" transform="rotate(37 490.7 393.4)"/>
<ellipse cx="417.0" cy="337.2" rx="7.6" ry="1.5" fill="#109838" opacity="0.64" transform="rotate(123 417.0 337.2)"/>
<ellipse cx="639.0" cy="380.9" rx="3.7" ry="1.6" fill="#18b090" opacity="0.53" transform="rotate(177 639.0 380.9)"/>
<ellipse cx="517.3" cy="483.6" rx="3.0" ry="2.9" fill="#0c8030" opacity="0.39" transform="rotate(98 517.3 483.6)"/>
<ellipse cx="631.3" cy="508.0" rx="6.2" ry="2.9" fill="#1cb450" opacity="0.59" transform="rotate(19 631.3 508.0)"/>
<ellipse cx="405.2" cy="466.0" rx="5.1" ry="1.4" fill="#0c8030" opacity="0.70" transform="rotate(27 405.2 466.0)"/>
<ellipse cx="429.7" cy="395.9" rx="4.9" ry="2.0" fill="#109838" opacity="0.71" transform="rotate(76 429.7 395.9)"/>
<ellipse cx="580.9" cy="295.5" rx="2.8" ry="2.8" fill="#18b090" opacity="0.50" transform="rotate(80 580.9 295.5)"/>
<ellipse cx="531.9" cy="482.5" rx="4.6" ry="2.1" fill="#18b090" opacity="0.63" transform="rotate(16 531.9 482.5)"/>
<ellipse cx="584.4" cy="485.3" rx="2.8" ry="1.4" fill="#18b090" opacity="0.43" transform="rotate(52 584.4 485.3)"/>
<ellipse cx="581.3" cy="303.7" rx="5.7" ry="2.5" fill="#18b090" opacity="0.75" transform="rotate(68 581.3 303.7)"/>
<ellipse cx="426.6" cy="334.0" rx="7.5" ry="2.8" fill="#1cb450" opacity="0.40" transform="rotate(26 426.6 334.0)"/>
<ellipse cx="549.9" cy="505.8" rx="7.6" ry="2.5" fill="#18b090" opacity="0.73" transform="rotate(122 549.9 505.8)"/>
<ellipse cx="487.9" cy="394.8" rx="5.3" ry="1.4" fill="#0c8030" opacity="0.53" transform="rotate(85 487.9 394.8)"/>
<ellipse cx="467.5" cy="501.1" rx="5.1" ry="2.0" fill="#109838" opacity="0.72" transform="rotate(120 467.5 501.1)"/>
<ellipse cx="443.0" cy="319.4" rx="3.3" ry="1.8" fill="#14a040" opacity="0.64" transform="rotate(74 443.0 319.4)"/>
<ellipse cx="457.5" cy="432.5" rx="4.2" ry="2.6" fill="#0c8030" opacity="0.73" transform="rotate(148 457.5 432.5)"/>
<ellipse cx="434.8" cy="370.4" rx="6.5" ry="2.4" fill="#18b090" opacity="0.75" transform="rotate(116 434.8 370.4)"/>
<ellipse cx="577.5" cy="434.0" rx="7.4" ry="2.4" fill="#0c8030" opacity="0.72" transform="rotate(30 577.5 434.0)"/>
<ellipse cx="606.3" cy="318.1" rx="3.8" ry="1.9" fill="#18b090" opacity="0.43" transform="rotate(150 606.3 318.1)"/>
<ellipse cx="625.1" cy="354.5" rx="6.2" ry="2.6" fill="#0c8030" opacity="0.63" transform="rotate(122 625.1 354.5)"/>
<ellipse cx="579.4" cy="424.5" rx="3.9" ry="2.6" fill="#1cb450" opacity="0.37" transform="rotate(115 579.4 424.5)"/>
<ellipse cx="474.2" cy="487.8" rx="6.0" ry="1.7" fill="#1cb450" opacity="0.41" transform="rotate(95 474.2 487.8)"/>
<ellipse cx="627.5" cy="323.2" rx="3.2" ry="2.9" fill="#14a040" opacity="0.72" transform="rotate(120 627.5 323.2)"/>
<ellipse cx="465.6" cy="503.9" rx="3.2" ry="2.8" fill="#18b090" opacity="0.42" transform="rotate(158 465.6 503.9)"/>
<ellipse cx="636.2" cy="376.0" rx="7.6" ry="2.5" fill="#109838" opacity="0.73" transform="rotate(104 636.2 376.0)"/>
<ellipse cx="637.6" cy="519.8" rx="3.8" ry="2.3" fill="#109838" opacity="0.61" transform="rotate(55 637.6 519.8)"/>
<ellipse cx="459.0" cy="519.5" rx="6.4" ry="2.5" fill="#18b090" opacity="0.38" transform="rotate(154 459.0 519.5)"/>
<ellipse cx="567.3" cy="291.2" rx="4.1" ry="1.7" fill="#14a040" opacity="0.65" transform="rotate(62 567.3 291.2)"/>
<ellipse cx="620.0" cy="328.1" rx="7.4" ry="2.8" fill="#109838" opacity="0.75" transform="rotate(117 620.0 328.1)"/>
<ellipse cx="488.0" cy="411.9" rx="4.2" ry="3.0" fill="#1cb450" opacity="0.69" transform="rotate(34 488.0 411.9)"/>
<ellipse cx="583.5" cy="485.5" rx="3.9" ry="2.4" fill="#1cb450" opacity="0.77" transform="rotate(31 583.5 485.5)"/>
<ellipse cx="569.5" cy="304.6" rx="6.9" ry="2.6" fill="#18b090" opacity="0.38" transform="rotate(157 569.5 304.6)"/>
<ellipse cx="591.2" cy="413.6" rx="5.2" ry="1.4" fill="#14a040" opacity="0.58" transform="rotate(176 591.2 413.6)"/>
<ellipse cx="449.4" cy="417.5" rx="4.6" ry="2.8" fill="#109838" opacity="0.35" transform="rotate(130 449.4 417.5)"/>
<ellipse cx="570.9" cy="414.7" rx="5.2" ry="1.7" fill="#18b090" opacity="0.49" transform="rotate(71 570.9 414.7)"/>
<ellipse cx="457.5" cy="374.2" rx="3.9" ry="2.3" fill="#1cb450" opacity="0.40" transform="rotate(16 457.5 374.2)"/>
<ellipse cx="593.0" cy="490.9" rx="5.3" ry="1.4" fill="#18b090" opacity="0.65" transform="rotate(47 593.0 490.9)"/>
<ellipse cx="495.1" cy="397.8" rx="6.7" ry="1.4" fill="#18b090" opacity="0.52" transform="rotate(37 495.1 397.8)"/>
<ellipse cx="556.4" cy="343.5" rx="6.8" ry="1.5" fill="#14a040" opacity="0.53" transform="rotate(100 556.4 343.5)"/>
<ellipse cx="546.4" cy="310.9" rx="6.1" ry="2.5" fill="#0c8030" opacity="0.59" transform="rotate(32 546.4 310.9)"/>
<ellipse cx="518.0" cy="431.5" rx="3.8" ry="2.6" fill="#18b090" opacity="0.39" transform="rotate(114 518.0 431.5)"/>
<ellipse cx="522.4" cy="426.2" rx="2.9" ry="1.6" fill="#18b090" opacity="0.45" transform="rotate(72 522.4 426.2)"/>
<ellipse cx="466.4" cy="335.4" rx="4.0" ry="1.7" fill="#18b090" opacity="0.70" transform="rotate(14 466.4 335.4)"/>
<ellipse cx="627.8" cy="525.2" rx="4.5" ry="1.9" fill="#109838" opacity="0.67" transform="rotate(64 627.8 525.2)"/>
<ellipse cx="517.5" cy="378.8" rx="6.3" ry="1.6" fill="#0c8030" opacity="0.49" transform="rotate(89 517.5 378.8)"/>
<ellipse cx="540.5" cy="435.7" rx="6.7" ry="1.8" fill="#1cb450" opacity="0.55" transform="rotate(52 540.5 435.7)"/>
<ellipse cx="453.1" cy="477.7" rx="3.3" ry="1.8" fill="#18b090" opacity="0.73" transform="rotate(176 453.1 477.7)"/>
<ellipse cx="488.9" cy="458.2" rx="6.0" ry="2.8" fill="#0c8030" opacity="0.40" transform="rotate(90 488.9 458.2)"/>
<ellipse cx="500.3" cy="522.0" rx="7.7" ry="1.9" fill="#1cb450" opacity="0.38" transform="rotate(0 500.3 522.0)"/>
<ellipse cx="619.1" cy="431.9" rx="6.0" ry="1.9" fill="#109838" opacity="0.46" transform="rotate(156 619.1 431.9)"/>
<ellipse cx="620.1" cy="342.6" rx="4.3" ry="1.4" fill="#18b090" opacity="0.38" transform="rotate(105 620.1 342.6)"/>
<ellipse cx="436.6" cy="432.6" rx="7.6" ry="2.7" fill="#109838" opacity="0.38" transform="rotate(62 436.6 432.6)"/>
<ellipse cx="466.7" cy="419.5" rx="8.0" ry="3.0" fill="#18b090" opacity="0.50" transform="rotate(121 466.7 419.5)"/>
<ellipse cx="641.2" cy="437.7" rx="3.5" ry="2.0" fill="#0c8030" opacity="0.40" transform="rotate(116 641.2 437.7)"/>
<ellipse cx="471.5" cy="353.7" rx="8.0" ry="1.7" fill="#14a040" opacity="0.48" transform="rotate(173 471.5 353.7)"/>
<ellipse cx="542.8" cy="426.3" rx="5.4" ry="2.9" fill="#109838" opacity="0.68" transform="rotate(160 542.8 426.3)"/>
<ellipse cx="480.3" cy="328.2" rx="7.3" ry="2.8" fill="#1cb450" opacity="0.77" transform="rotate(171 480.3 328.2)"/>
<ellipse cx="587.2" cy="425.2" rx="6.5" ry="2.7" fill="#0c8030" opacity="0.55" transform="rotate(22 587.2 425.2)"/>
<ellipse cx="470.3" cy="454.2" rx="3.8" ry="1.6" fill="#0c8030" opacity="0.44" transform="rotate(68 470.3 454.2)"/>
<ellipse cx="444.2" cy="396.2" rx="4.2" ry="2.5" fill="#109838" opacity="0.73" transform="rotate(71 444.2 396.2)"/>
<ellipse cx="514.0" cy="510.6" rx="6.0" ry="2.3" fill="#1cb450" opacity="0.38" transform="rotate(115 514.0 510.6)"/>
<ellipse cx="481.2" cy="526.9" rx="3.7" ry="2.7" fill="#14a040" opacity="0.37" transform="rotate(41 481.2 526.9)"/>
<ellipse cx="587.8" cy="320.6" rx="3.7" ry="1.9" fill="#0c8030" opacity="0.54" transform="rotate(78 587.8 320.6)"/>
<ellipse cx="559.9" cy="483.8" rx="4.5" ry="2.4" fill="#18b090" opacity="0.38" transform="rotate(138 559.9 483.8)"/>
<ellipse cx="552.2" cy="392.6" rx="6.1" ry="2.5" fill="#18b090" opacity="0.54" transform="rotate(133 552.2 392.6)"/>
<ellipse cx="429.6" cy="450.4" rx="3.5" ry="3.0" fill="#1cb450" opacity="0.68" transform="rotate(176 429.6 450.4)"/>
<ellipse cx="641.6" cy="328.6" rx="3.0" ry="2.6" fill="#14a040" opacity="0.38" transform="rotate(95 641.6 328.6)"/>
<ellipse cx="602.9" cy="422.7" rx="6.8" ry="1.6" fill="#109838" opacity="0.43" transform="rotate(168 602.9 422.7)"/>
<ellipse cx="453.0" cy="506.2" rx="5.0" ry="2.3" fill="#18b090" opacity="0.75" transform="rotate(46 453.0 506.2)"/>
<ellipse cx="414.1" cy="386.8" rx="4.6" ry="1.4" fill="#18b090" opacity="0.46" transform="rotate(77 414.1 386.8)"/>
<ellipse cx="453.7" cy="316.3" rx="2.6" ry="2.9" fill="#14a040" opacity="0.57" transform="rotate(103 453.7 316.3)"/>
<ellipse cx="464.3" cy="356.0" rx="5.9" ry="1.5" fill="#14a040" opacity="0.59" transform="rotate(94 464.3 356.0)"/>
<ellipse cx="608.0" cy="396.9" rx="5.3" ry="1.7" fill="#1cb450" opacity="0.52" transform="rotate(98 608.0 396.9)"/>
<ellipse cx="627.7" cy="369.7" rx="7.4" ry="2.3" fill="#0c8030" opacity="0.50" transform="rotate(102 627.7 369.7)"/>
<ellipse cx="507.9" cy="323.5" rx="4.1" ry="1.5" fill="#1cb450" opacity="0.72" transform="rotate(52 507.9 323.5)"/>
<ellipse cx="409.6" cy="417.7" rx="4.8" ry="1.5" fill="#109838" opacity="0.58" transform="rotate(20 409.6 417.7)"/>
<ellipse cx="576.3" cy="381.3" rx="5.3" ry="2.4" fill="#18b090" opacity="0.74" transform="rotate(169 576.3 381.3)"/>
<ellipse cx="495.2" cy="418.7" rx="3.7" ry="1.9" fill="#18b090" opacity="0.75" transform="rotate(48 495.2 418.7)"/>
<ellipse cx="468.6" cy="485.2" rx="4.3" ry="2.1" fill="#1cb450" opacity="0.71" transform="rotate(105 468.6 485.2)"/>
<ellipse cx="403.4" cy="461.1" rx="2.5" ry="2.2" fill="#18b090" opacity="0.53" transform="rotate(165 403.4 461.1)"/>
<ellipse cx="396.8" cy="466.3" rx="3.5" ry="2.9" fill="#14a040" opacity="0.71" transform="rotate(69 396.8 466.3)"/>
<ellipse cx="437.9" cy="519.8" rx="6.5" ry="2.0" fill="#109838" opacity="0.54" transform="rotate(34 437.9 519.8)"/>
<ellipse cx="534.0" cy="483.6" rx="3.1" ry="2.3" fill="#1cb450" opacity="0.59" transform="rotate(55 534.0 483.6)"/>
<ellipse cx="464.8" cy="448.6" rx="7.3" ry="1.8" fill="#109838" opacity="0.75" transform="rotate(4 464.8 448.6)"/>
<ellipse cx="437.6" cy="459.1" rx="4.1" ry="3.0" fill="#1cb450" opacity="0.65" transform="rotate(179 437.6 459.1)"/>
<ellipse cx="539.2" cy="440.0" rx="2.6" ry="2.0" fill="#14a040" opacity="0.48" transform="rotate(120 539.2 440.0)"/>
<ellipse cx="425.8" cy="383.1" rx="2.8" ry="2.1" fill="#0c8030" opacity="0.78" transform="rotate(171 425.8 383.1)"/>
<ellipse cx="543.0" cy="292.6" rx="7.5" ry="2.4" fill="#109838" opacity="0.78" transform="rotate(25 543.0 292.6)"/>
<ellipse cx="578.8" cy="452.4" rx="3.6" ry="1.5" fill="#14a040" opacity="0.50" transform="rotate(89 578.8 452.4)"/>
<ellipse cx="456.8" cy="436.9" rx="7.6" ry="1.5" fill="#0c8030" opacity="0.42" transform="rotate(103 456.8 436.9)"/>
<ellipse cx="509.7" cy="444.0" rx="5.3" ry="2.1" fill="#14a040" opacity="0.42" transform="rotate(48 509.7 444.0)"/>
<ellipse cx="502.9" cy="312.5" rx="5.1" ry="1.3" fill="#1cb450" opacity="0.53" transform="rotate(37 502.9 312.5)"/>
<ellipse cx="570.7" cy="382.6" rx="3.1" ry="1.5" fill="#18b090" opacity="0.36" transform="rotate(168 570.7 382.6)"/>
<ellipse cx="480.3" cy="300.7" rx="5.9" ry="2.9" fill="#14a040" opacity="0.51" transform="rotate(14 480.3 300.7)"/>
<ellipse cx="587.5" cy="415.0" rx="6.0" ry="1.4" fill="#14a040" opacity="0.65" transform="rotate(133 587.5 415.0)"/>
<ellipse cx="595.4" cy="526.4" rx="6.5" ry="2.2" fill="#14a040" opacity="0.59" transform="rotate(30 595.4 526.4)"/>
<ellipse cx="488.2" cy="299.9" rx="3.1" ry="2.7" fill="#1cb450" opacity="0.44" transform="rotate(12 488.2 299.9)"/>
<ellipse cx="524.5" cy="473.3" rx="6.2" ry="2.0" fill="#18b090" opacity="0.43" transform="rotate(26 524.5 473.3)"/>
<ellipse cx="533.3" cy="519.6" rx="4.6" ry="2.4" fill="#109838" opacity="0.39" transform="rotate(13 533.3 519.6)"/>
<ellipse cx="570.0" cy="435.8" rx="6.5" ry="2.7" fill="#0c8030" opacity="0.69" transform="rotate(34 570.0 435.8)"/>
<ellipse cx="551.4" cy="478.4" rx="5.3" ry="2.5" fill="#18b090" opacity="0.38" transform="rotate(73 551.4 478.4)"/>
<ellipse cx="468.6" cy="500.3" rx="7.5" ry="1.5" fill="#1cb450" opacity="0.61" transform="rotate(65 468.6 500.3)"/>
<ellipse cx="478.6" cy="308.7" rx="6.7" ry="2.4" fill="#14a040" opacity="0.66" transform="rotate(6 478.6 308.7)"/>
<ellipse cx="395.9" cy="388.3" rx="3.5" ry="2.1" fill="#1cb450" opacity="0.79" transform="rotate(35 395.9 388.3)"/>
<ellipse cx="492.5" cy="301.7" rx="5.9" ry="1.6" fill="#1cb450" opacity="0.61" transform="rotate(116 492.5 301.7)"/>
<ellipse cx="603.7" cy="499.3" rx="6.7" ry="2.1" fill="#18b090" opacity="0.42" transform="rotate(85 603.7 499.3)"/>
<ellipse cx="488.3" cy="391.8" rx="4.5" ry="1.8" fill="#18b090" opacity="0.37" transform="rotate(29 488.3 391.8)"/>
<ellipse cx="630.4" cy="514.5" rx="4.1" ry="2.3" fill="#14a040" opacity="0.37" transform="rotate(89 630.4 514.5)"/>
<ellipse cx="423.4" cy="449.9" rx="4.3" ry="2.1" fill="#0c8030" opacity="0.60" transform="rotate(85 423.4 449.9)"/>
<ellipse cx="552.1" cy="392.8" rx="4.5" ry="1.9" fill="#14a040" opacity="0.67" transform="rotate(174 552.1 392.8)"/>
<ellipse cx="417.8" cy="476.2" rx="7.5" ry="2.2" fill="#14a040" opacity="0.61" transform="rotate(132 417.8 476.2)"/>
<ellipse cx="587.2" cy="403.7" rx="6.8" ry="1.4" fill="#18b090" opacity="0.60" transform="rotate(132 587.2 403.7)"/>
<ellipse cx="444.0" cy="452.5" rx="5.7" ry="2.6" fill="#109838" opacity="0.76" transform="rotate(73 444.0 452.5)"/>
<ellipse cx="607.4" cy="484.8" rx="7.1" ry="2.6" fill="#1cb450" opacity="0.69" transform="rotate(33 607.4 484.8)"/>
<ellipse cx="589.3" cy="408.1" rx="6.3" ry="2.3" fill="#0c8030" opacity="0.76" transform="rotate(51 589.3 408.1)"/>
<ellipse cx="438.5" cy="458.0" rx="4.2" ry="1.9" fill="#0c8030" opacity="0.42" transform="rotate(129 438.5 458.0)"/>
<ellipse cx="488.8" cy="512.1" rx="3.2" ry="3.0" fill="#0c8030" opacity="0.60" transform="rotate(97 488.8 512.1)"/>
<ellipse cx="549.2" cy="321.5" rx="2.5" ry="2.9" fill="#109838" opacity="0.39" transform="rotate(135 549.2 321.5)"/>
<ellipse cx="464.5" cy="392.7" rx="5.8" ry="2.8" fill="#1cb450" opacity="0.63" transform="rotate(140 464.5 392.7)"/>
<ellipse cx="423.1" cy="436.2" rx="8.0" ry="2.0" fill="#18b090" opacity="0.66" transform="rotate(60 423.1 436.2)"/>
<ellipse cx="512.2" cy="391.8" rx="2.8" ry="1.9" fill="#18b090" opacity="0.69" transform="rotate(95 512.2 391.8)"/>
<ellipse cx="476.4" cy="471.0" rx="4.2" ry="1.4" fill="#0c8030" opacity="0.70" transform="rotate(28 476.4 471.0)"/>
<ellipse cx="635.9" cy="331.9" rx="3.8" ry="2.2" fill="#0c8030" opacity="0.66" transform="rotate(49 635.9 331.9)"/>
<ellipse cx="450.5" cy="399.9" rx="7.9" ry="2.1" fill="#14a040" opacity="0.80" transform="rotate(62 450.5 399.9)"/>
<ellipse cx="453.6" cy="395.4" rx="3.6" ry="2.3" fill="#109838" opacity="0.48" transform="rotate(40 453.6 395.4)"/>
<ellipse cx="508.3" cy="296.6" rx="5.9" ry="2.5" fill="#0c8030" opacity="0.61" transform="rotate(167 508.3 296.6)"/>
<ellipse cx="490.1" cy="309.4" rx="6.1" ry="1.5" fill="#0c8030" opacity="0.54" transform="rotate(140 490.1 309.4)"/>
<ellipse cx="452.8" cy="527.9" rx="5.7" ry="2.7" fill="#18b090" opacity="0.62" transform="rotate(69 452.8 527.9)"/>
<ellipse cx="430.9" cy="286.6" rx="7.0" ry="2.5" fill="#0c8030" opacity="0.79" transform="rotate(71 430.9 286.6)"/>
<ellipse cx="542.2" cy="339.0" rx="2.5" ry="1.9" fill="#109838" opacity="0.50" transform="rotate(168 542.2 339.0)"/>
<ellipse cx="480.7" cy="300.5" rx="4.6" ry="2.5" fill="#18b090" opacity="0.46" transform="rotate(112 480.7 300.5)"/>
<ellipse cx="455.9" cy="338.6" rx="4.5" ry="2.0" fill="#1cb450" opacity="0.53" transform="rotate(106 455.9 338.6)"/>
<ellipse cx="572.8" cy="507.7" rx="3.4" ry="1.7" fill="#18b090" opacity="0.39" transform="rotate(79 572.8 507.7)"/>
<ellipse cx="611.6" cy="333.3" rx="4.1" ry="1.8" fill="#1cb450" opacity="0.76" transform="rotate(112 611.6 333.3)"/>
<ellipse cx="531.4" cy="296.3" rx="4.2" ry="2.3" fill="#18b090" opacity="0.71" transform="rotate(152 531.4 296.3)"/>
<ellipse cx="557.4" cy="311.3" rx="7.0" ry="2.7" fill="#109838" opacity="0.78" transform="rotate(51 557.4 311.3)"/>
<ellipse cx="634.7" cy="436.6" rx="2.8" ry="2.7" fill="#14a040" opacity="0.43" transform="rotate(33 634.7 436.6)"/>
<ellipse cx="536.5" cy="307.8" rx="7.3" ry="1.7" fill="#14a040" opacity="0.60" transform="rotate(58 536.5 307.8)"/>
<ellipse cx="585.5" cy="332.2" rx="2.9" ry="1.6" fill="#18b090" opacity="0.68" transform="rotate(92 585.5 332.2)"/>
<ellipse cx="490.1" cy="375.4" rx="4.7" ry="2.6" fill="#18b090" opacity="0.54" transform="rotate(62 490.1 375.4)"/>
<ellipse cx="628.2" cy="388.0" rx="4.1" ry="2.2" fill="#0c8030" opacity="0.44" transform="rotate(9 628.2 388.0)"/>
<ellipse cx="484.2" cy="340.1" rx="7.6" ry="2.1" fill="#109838" opacity="0.45" transform="rotate(81 484.2 340.1)"/>
<ellipse cx="619.1" cy="301.3" rx="3.8" ry="2.1" fill="#1cb450" opacity="0.74" transform="rotate(137 619.1 301.3)"/>
<ellipse cx="526.7" cy="516.2" rx="4.9" ry="2.6" fill="#14a040" opacity="0.56" transform="rotate(168 526.7 516.2)"/>
<ellipse cx="499.5" cy="527.3" rx="2.8" ry="2.7" fill="#109838" opacity="0.58" transform="rotate(103 499.5 527.3)"/>
<ellipse cx="643.5" cy="338.5" rx="7.2" ry="2.2" fill="#18b090" opacity="0.71" transform="rotate(55 643.5 338.5)"/>
<ellipse cx="449.4" cy="434.6" rx="3.7" ry="1.8" fill="#1cb450" opacity="0.60" transform="rotate(135 449.4 434.6)"/>
<ellipse cx="459.9" cy="475.3" rx="6.2" ry="2.2" fill="#14a040" opacity="0.50" transform="rotate(34 459.9 475.3)"/>
<ellipse cx="598.5" cy="305.8" rx="6.2" ry="1.8" fill="#18b090" opacity="0.62" transform="rotate(11 598.5 305.8)"/>
<ellipse cx="520.7" cy="419.7" rx="6.6" ry="1.7" fill="#14a040" opacity="0.48" transform="rotate(113 520.7 419.7)"/>
<ellipse cx="601.1" cy="447.1" rx="6.0" ry="1.9" fill="#14a040" opacity="0.71" transform="rotate(2 601.1 447.1)"/>
<ellipse cx="517.4" cy="472.6" rx="4.4" ry="2.6" fill="#0c8030" opacity="0.48" transform="rotate(143 517.4 472.6)"/>
<ellipse cx="630.2" cy="445.3" rx="3.2" ry="1.6" fill="#14a040" opacity="0.58" transform="rotate(154 630.2 445.3)"/>
<ellipse cx="589.9" cy="344.1" rx="5.3" ry="2.7" fill="#18b090" opacity="0.61" transform="rotate(90 589.9 344.1)"/>
</g>
<g filter="url(#fBlurS)">
<ellipse cx="621.4" cy="518.2" rx="8.2" ry="5.2" fill="#2e3ab4" opacity="0.95" transform="rotate(-26 621.4 518.2)"/>
<ellipse cx="446.9" cy="398.7" rx="6.0" ry="4.6" fill="#222a86" opacity="0.82" transform="rotate(-83 446.9 398.7)"/>
<ellipse cx="570.3" cy="393.2" rx="6.9" ry="6.1" fill="#222a86" opacity="0.82" transform="rotate(-49 570.3 393.2)"/>
<ellipse cx="587.7" cy="433.0" rx="7.4" ry="6.2" fill="#222a86" opacity="0.82" transform="rotate(12 587.7 433.0)"/>
<ellipse cx="537.4" cy="449.9" rx="6.3" ry="4.0" fill="#2e3ab4" opacity="0.95" transform="rotate(-38 537.4 449.9)"/>
<ellipse cx="595.5" cy="339.7" rx="5.6" ry="3.6" fill="#222a86" opacity="0.82" transform="rotate(-81 595.5 339.7)"/>
<ellipse cx="537.6" cy="487.9" rx="6.3" ry="4.7" fill="#222a86" opacity="0.82" transform="rotate(-56 537.6 487.9)"/>
<ellipse cx="462.7" cy="318.7" rx="7.9" ry="6.8" fill="#222a86" opacity="0.82" transform="rotate(-2 462.7 318.7)"/>
<ellipse cx="531.1" cy="511.1" rx="7.2" ry="6.9" fill="#3a48cf" opacity="1" transform="rotate(-68 531.1 511.1)"/>
<ellipse cx="414.5" cy="392.0" rx="5.3" ry="4.8" fill="#3a48cf" opacity="1" transform="rotate(-16 414.5 392.0)"/>
<ellipse cx="592.9" cy="518.3" rx="7.0" ry="6.9" fill="#222a86" opacity="0.82" transform="rotate(-10 592.9 518.3)"/>
<ellipse cx="633.2" cy="382.7" rx="5.9" ry="3.7" fill="#222a86" opacity="0.82" transform="rotate(-38 633.2 382.7)"/>
<ellipse cx="527.1" cy="333.5" rx="7.0" ry="6.4" fill="#2e3ab4" opacity="0.95" transform="rotate(-60 527.1 333.5)"/>
<ellipse cx="615.7" cy="398.7" rx="6.4" ry="6.0" fill="#3a48cf" opacity="1" transform="rotate(-4 615.7 398.7)"/>
<ellipse cx="566.2" cy="490.1" rx="7.4" ry="5.1" fill="#2e3ab4" opacity="0.95" transform="rotate(-55 566.2 490.1)"/>
<ellipse cx="427.0" cy="443.0" rx="6.3" ry="5.1" fill="#222a86" opacity="0.82" transform="rotate(-1 427.0 443.0)"/>
<ellipse cx="627.8" cy="311.9" rx="7.1" ry="5.7" fill="#2e3ab4" opacity="0.95" transform="rotate(-61 627.8 311.9)"/>
<ellipse cx="513.3" cy="399.9" rx="7.6" ry="4.6" fill="#2e3ab4" opacity="0.95" transform="rotate(-47 513.3 399.9)"/>
<ellipse cx="449.7" cy="454.8" rx="5.8" ry="4.5" fill="#222a86" opacity="0.82" transform="rotate(-43 449.7 454.8)"/>
<ellipse cx="567.8" cy="407.1" rx="7.5" ry="6.1" fill="#2e3ab4" opacity="0.95" transform="rotate(-29 567.8 407.1)"/>
<ellipse cx="472.1" cy="506.4" rx="5.5" ry="5.1" fill="#2e3ab4" opacity="0.95" transform="rotate(1 472.1 506.4)"/>
<ellipse cx="586.2" cy="453.0" rx="7.3" ry="5.2" fill="#222a86" opacity="0.82" transform="rotate(-53 586.2 453.0)"/>
<ellipse cx="473.1" cy="520.8" rx="6.4" ry="4.8" fill="#3a48cf" opacity="1" transform="rotate(-43 473.1 520.8)"/>
<ellipse cx="515.0" cy="424.6" rx="6.1" ry="4.3" fill="#222a86" opacity="0.82" transform="rotate(-76 515.0 424.6)"/>
<ellipse cx="464.0" cy="495.4" rx="6.9" ry="4.4" fill="#222a86" opacity="0.82" transform="rotate(-39 464.0 495.4)"/>
<ellipse cx="536.0" cy="398.1" rx="6.1" ry="5.6" fill="#3a48cf" opacity="1" transform="rotate(-60 536.0 398.1)"/>
<ellipse cx="552.2" cy="303.4" rx="7.9" ry="5.6" fill="#222a86" opacity="0.82" transform="rotate(-49 552.2 303.4)"/>
<ellipse cx="600.6" cy="314.7" rx="7.7" ry="5.8" fill="#222a86" opacity="0.82" transform="rotate(-17 600.6 314.7)"/>
<ellipse cx="557.1" cy="333.5" rx="8.5" ry="8.1" fill="#222a86" opacity="0.82" transform="rotate(-67 557.1 333.5)"/>
<ellipse cx="546.7" cy="326.3" rx="7.7" ry="6.0" fill="#2e3ab4" opacity="0.95" transform="rotate(-14 546.7 326.3)"/>
<ellipse cx="584.7" cy="488.1" rx="7.2" ry="6.0" fill="#222a86" opacity="0.82" transform="rotate(-52 584.7 488.1)"/>
<ellipse cx="476.6" cy="440.2" rx="7.0" ry="6.5" fill="#222a86" opacity="0.82" transform="rotate(-41 476.6 440.2)"/>
<ellipse cx="556.3" cy="469.9" rx="8.3" ry="6.0" fill="#3a48cf" opacity="1" transform="rotate(4 556.3 469.9)"/>
<ellipse cx="635.1" cy="323.9" rx="6.5" ry="5.8" fill="#222a86" opacity="0.82" transform="rotate(-2 635.1 323.9)"/>
<ellipse cx="495.3" cy="465.0" rx="7.8" ry="6.2" fill="#2e3ab4" opacity="0.95" transform="rotate(-64 495.3 465.0)"/>
<ellipse cx="415.1" cy="368.1" rx="6.7" ry="6.1" fill="#2e3ab4" opacity="0.95" transform="rotate(-26 415.1 368.1)"/>
<ellipse cx="459.8" cy="368.1" rx="7.5" ry="5.8" fill="#3a48cf" opacity="1" transform="rotate(-68 459.8 368.1)"/>
<ellipse cx="538.3" cy="522.7" rx="7.0" ry="5.9" fill="#2e3ab4" opacity="0.95" transform="rotate(-42 538.3 522.7)"/>
<ellipse cx="558.6" cy="395.3" rx="5.4" ry="5.0" fill="#222a86" opacity="0.82" transform="rotate(-46 558.6 395.3)"/>
<ellipse cx="414.8" cy="301.4" rx="6.5" ry="6.3" fill="#2e3ab4" opacity="0.95" transform="rotate(-11 414.8 301.4)"/>
<ellipse cx="560.4" cy="358.0" rx="5.8" ry="4.8" fill="#2e3ab4" opacity="0.95" transform="rotate(-79 560.4 358.0)"/>
<ellipse cx="430.1" cy="309.3" rx="6.8" ry="4.5" fill="#222a86" opacity="0.82" transform="rotate(-21 430.1 309.3)"/>
<ellipse cx="545.6" cy="419.3" rx="5.9" ry="4.3" fill="#222a86" opacity="0.82" transform="rotate(13 545.6 419.3)"/>
<ellipse cx="468.9" cy="410.3" rx="7.1" ry="6.4" fill="#3a48cf" opacity="1" transform="rotate(-55 468.9 410.3)"/>
<ellipse cx="406.5" cy="480.7" rx="7.1" ry="6.7" fill="#2e3ab4" opacity="0.95" transform="rotate(-70 406.5 480.7)"/>
<ellipse cx="626.7" cy="451.5" rx="5.6" ry="5.3" fill="#222a86" opacity="0.82" transform="rotate(12 626.7 451.5)"/>
<ellipse cx="572.6" cy="520.2" rx="7.3" ry="5.8" fill="#2e3ab4" opacity="0.95" transform="rotate(-58 572.6 520.2)"/>
<ellipse cx="637.5" cy="446.6" rx="8.2" ry="5.5" fill="#2e3ab4" opacity="0.95" transform="rotate(-12 637.5 446.6)"/>
<ellipse cx="443.1" cy="344.8" rx="5.4" ry="4.6" fill="#3a48cf" opacity="1" transform="rotate(-71 443.1 344.8)"/>
<ellipse cx="478.9" cy="452.3" rx="7.3" ry="6.7" fill="#3a48cf" opacity="1" transform="rotate(-64 478.9 452.3)"/>
<ellipse cx="590.6" cy="327.2" rx="5.7" ry="4.7" fill="#2e3ab4" opacity="0.95" transform="rotate(13 590.6 327.2)"/>
<ellipse cx="503.1" cy="413.5" rx="8.0" ry="6.3" fill="#2e3ab4" opacity="0.95" transform="rotate(-31 503.1 413.5)"/>
<ellipse cx="601.0" cy="356.4" rx="7.2" ry="6.6" fill="#3a48cf" opacity="1" transform="rotate(-13 601.0 356.4)"/>
<ellipse cx="619.1" cy="323.6" rx="6.9" ry="5.1" fill="#2e3ab4" opacity="0.95" transform="rotate(-64 619.1 323.6)"/>
<ellipse cx="424.8" cy="352.0" rx="6.5" ry="6.0" fill="#222a86" opacity="0.82" transform="rotate(-39 424.8 352.0)"/>
<ellipse cx="581.9" cy="399.2" rx="5.4" ry="5.1" fill="#2e3ab4" opacity="0.95" transform="rotate(-58 581.9 399.2)"/>
<ellipse cx="511.7" cy="478.0" rx="6.3" ry="4.0" fill="#2e3ab4" opacity="0.95" transform="rotate(-42 511.7 478.0)"/>
<ellipse cx="589.9" cy="389.0" rx="7.5" ry="5.5" fill="#222a86" opacity="0.82" transform="rotate(-12 589.9 389.0)"/>
<ellipse cx="610.7" cy="517.2" rx="5.3" ry="4.9" fill="#2e3ab4" opacity="0.95" transform="rotate(-7 610.7 517.2)"/>
<ellipse cx="426.4" cy="467.1" rx="7.8" ry="6.6" fill="#3a48cf" opacity="1" transform="rotate(11 426.4 467.1)"/>
<ellipse cx="552.1" cy="512.6" rx="5.7" ry="4.1" fill="#2e3ab4" opacity="0.95" transform="rotate(-32 552.1 512.6)"/>
<ellipse cx="549.1" cy="440.6" rx="8.4" ry="6.3" fill="#2e3ab4" opacity="0.95" transform="rotate(-11 549.1 440.6)"/>
<ellipse cx="497.0" cy="373.7" rx="5.7" ry="3.5" fill="#222a86" opacity="0.82" transform="rotate(-51 497.0 373.7)"/>
<ellipse cx="420.5" cy="408.4" rx="6.4" ry="6.1" fill="#2e3ab4" opacity="0.95" transform="rotate(-7 420.5 408.4)"/>
<ellipse cx="455.4" cy="526.9" rx="6.6" ry="6.2" fill="#222a86" opacity="0.82" transform="rotate(-60 455.4 526.9)"/>
<ellipse cx="550.5" cy="457.6" rx="6.1" ry="5.8" fill="#2e3ab4" opacity="0.95" transform="rotate(12 550.5 457.6)"/>
<ellipse cx="634.9" cy="526.4" rx="5.7" ry="5.0" fill="#2e3ab4" opacity="0.95" transform="rotate(-10 634.9 526.4)"/>
<ellipse cx="476.2" cy="481.0" rx="5.6" ry="3.5" fill="#222a86" opacity="0.82" transform="rotate(-73 476.2 481.0)"/>
<ellipse cx="485.8" cy="317.3" rx="7.5" ry="5.4" fill="#2e3ab4" opacity="0.95" transform="rotate(-28 485.8 317.3)"/>
<ellipse cx="509.7" cy="467.2" rx="7.3" ry="6.7" fill="#3a48cf" opacity="1" transform="rotate(-9 509.7 467.2)"/>
<ellipse cx="578.9" cy="360.2" rx="6.9" ry="6.2" fill="#2e3ab4" opacity="0.95" transform="rotate(-7 578.9 360.2)"/>
<ellipse cx="601.9" cy="488.8" rx="7.0" ry="5.9" fill="#2e3ab4" opacity="0.95" transform="rotate(-81 601.9 488.8)"/>
<ellipse cx="574.2" cy="509.9" rx="8.1" ry="6.2" fill="#3a48cf" opacity="1" transform="rotate(-62 574.2 509.9)"/>
<ellipse cx="538.5" cy="319.3" rx="8.6" ry="7.1" fill="#3a48cf" opacity="1" transform="rotate(-9 538.5 319.3)"/>
<ellipse cx="442.2" cy="438.5" rx="6.7" ry="6.0" fill="#222a86" opacity="0.82" transform="rotate(-73 442.2 438.5)"/>
<ellipse cx="493.4" cy="293.7" rx="6.6" ry="6.4" fill="#222a86" opacity="0.82" transform="rotate(2 493.4 293.7)"/>
<ellipse cx="458.3" cy="444.5" rx="6.2" ry="4.2" fill="#222a86" opacity="0.82" transform="rotate(-76 458.3 444.5)"/>
<ellipse cx="447.0" cy="509.5" rx="5.3" ry="4.3" fill="#2e3ab4" opacity="0.95" transform="rotate(-64 447.0 509.5)"/>
<ellipse cx="401.9" cy="381.4" rx="7.7" ry="4.7" fill="#222a86" opacity="0.82" transform="rotate(-44 401.9 381.4)"/>
<ellipse cx="516.5" cy="442.4" rx="5.5" ry="5.1" fill="#2e3ab4" opacity="0.95" transform="rotate(-58 516.5 442.4)"/>
<ellipse cx="447.3" cy="313.2" rx="6.0" ry="3.9" fill="#3a48cf" opacity="1" transform="rotate(-76 447.3 313.2)"/>
<ellipse cx="527.0" cy="411.0" rx="6.9" ry="6.3" fill="#222a86" opacity="0.82" transform="rotate(-80 527.0 411.0)"/>
<ellipse cx="559.8" cy="295.0" rx="6.9" ry="5.8" fill="#222a86" opacity="0.82" transform="rotate(-0 559.8 295.0)"/>
<ellipse cx="539.3" cy="301.1" rx="7.8" ry="7.5" fill="#2e3ab4" opacity="0.95" transform="rotate(-30 539.3 301.1)"/>
<ellipse cx="596.3" cy="408.8" rx="5.5" ry="5.0" fill="#2e3ab4" opacity="0.95" transform="rotate(-1 596.3 408.8)"/>
<ellipse cx="549.5" cy="367.4" rx="7.9" ry="5.4" fill="#3a48cf" opacity="1" transform="rotate(-61 549.5 367.4)"/>
<ellipse cx="495.7" cy="428.9" rx="7.5" ry="7.1" fill="#222a86" opacity="0.82" transform="rotate(-63 495.7 428.9)"/>
<ellipse cx="502.2" cy="319.4" rx="5.5" ry="4.5" fill="#222a86" opacity="0.82" transform="rotate(-80 502.2 319.4)"/>
<ellipse cx="593.0" cy="507.1" rx="5.3" ry="4.8" fill="#2e3ab4" opacity="0.95" transform="rotate(-67 593.0 507.1)"/>
<ellipse cx="415.6" cy="470.1" rx="8.4" ry="5.8" fill="#222a86" opacity="0.82" transform="rotate(-68 415.6 470.1)"/>
<ellipse cx="605.9" cy="478.3" rx="5.7" ry="5.4" fill="#3a48cf" opacity="1" transform="rotate(-11 605.9 478.3)"/>
<ellipse cx="574.4" cy="299.1" rx="5.9" ry="4.7" fill="#222a86" opacity="0.82" transform="rotate(-62 574.4 299.1)"/>
<ellipse cx="486.4" cy="402.2" rx="8.3" ry="6.8" fill="#2e3ab4" opacity="0.95" transform="rotate(-29 486.4 402.2)"/>
<ellipse cx="446.1" cy="483.8" rx="7.8" ry="7.1" fill="#2e3ab4" opacity="0.95" transform="rotate(-40 446.1 483.8)"/>
<ellipse cx="510.3" cy="502.6" rx="7.3" ry="4.9" fill="#222a86" opacity="0.82" transform="rotate(-68 510.3 502.6)"/>
<ellipse cx="490.1" cy="346.3" rx="7.1" ry="4.8" fill="#222a86" opacity="0.82" transform="rotate(-32 490.1 346.3)"/>
<ellipse cx="437.0" cy="366.0" rx="6.1" ry="4.4" fill="#3a48cf" opacity="1" transform="rotate(-36 437.0 366.0)"/>
<ellipse cx="444.4" cy="463.7" rx="6.7" ry="5.5" fill="#2e3ab4" opacity="0.95" transform="rotate(-35 444.4 463.7)"/>
<ellipse cx="543.0" cy="390.0" rx="5.8" ry="3.5" fill="#2e3ab4" opacity="0.95" transform="rotate(-73 543.0 390.0)"/>
<ellipse cx="504.3" cy="530.2" rx="7.7" ry="5.7" fill="#2e3ab4" opacity="0.95" transform="rotate(6 504.3 530.2)"/>
<ellipse cx="437.0" cy="393.2" rx="6.3" ry="4.3" fill="#2e3ab4" opacity="0.95" transform="rotate(-73 437.0 393.2)"/>
<ellipse cx="434.9" cy="377.2" rx="5.3" ry="4.6" fill="#222a86" opacity="0.82" transform="rotate(-22 434.9 377.2)"/>
<ellipse cx="466.2" cy="349.5" rx="5.3" ry="4.4" fill="#222a86" opacity="0.82" transform="rotate(-26 466.2 349.5)"/>
<ellipse cx="607.8" cy="451.3" rx="6.4" ry="6.2" fill="#2e3ab4" opacity="0.95" transform="rotate(-77 607.8 451.3)"/>
<ellipse cx="485.4" cy="489.4" rx="7.8" ry="6.8" fill="#2e3ab4" opacity="0.95" transform="rotate(-58 485.4 489.4)"/>
<ellipse cx="538.9" cy="339.8" rx="7.3" ry="5.3" fill="#222a86" opacity="0.82" transform="rotate(15 538.9 339.8)"/>
<ellipse cx="456.6" cy="382.3" rx="6.7" ry="5.8" fill="#222a86" opacity="0.82" transform="rotate(-34 456.6 382.3)"/>
<ellipse cx="555.7" cy="415.7" rx="7.0" ry="5.4" fill="#2e3ab4" opacity="0.95" transform="rotate(2 555.7 415.7)"/>
<ellipse cx="496.9" cy="394.6" rx="7.5" ry="5.8" fill="#222a86" opacity="0.82" transform="rotate(-78 496.9 394.6)"/>
<ellipse cx="486.7" cy="382.9" rx="6.8" ry="4.6" fill="#2e3ab4" opacity="0.95" transform="rotate(-62 486.7 382.9)"/>
<ellipse cx="551.7" cy="379.8" rx="8.5" ry="7.3" fill="#3a48cf" opacity="1" transform="rotate(-2 551.7 379.8)"/>
<ellipse cx="615.6" cy="310.2" rx="8.4" ry="7.0" fill="#3a48cf" opacity="1" transform="rotate(-44 615.6 310.2)"/>
<ellipse cx="471.9" cy="303.8" rx="6.8" ry="5.0" fill="#2e3ab4" opacity="0.95" transform="rotate(-83 471.9 303.8)"/>
<ellipse cx="530.0" cy="372.2" rx="5.4" ry="5.1" fill="#222a86" opacity="0.82" transform="rotate(12 530.0 372.2)"/>
<ellipse cx="558.2" cy="432.0" rx="6.0" ry="4.9" fill="#222a86" opacity="0.82" transform="rotate(-58 558.2 432.0)"/>
<ellipse cx="509.2" cy="304.0" rx="6.0" ry="5.8" fill="#222a86" opacity="0.82" transform="rotate(-8 509.2 304.0)"/>
<ellipse cx="638.5" cy="371.3" rx="8.1" ry="5.8" fill="#2e3ab4" opacity="0.95" transform="rotate(4 638.5 371.3)"/>
<ellipse cx="608.8" cy="325.8" rx="6.5" ry="4.8" fill="#3a48cf" opacity="1" transform="rotate(-7 608.8 325.8)"/>
<ellipse cx="473.0" cy="395.4" rx="7.4" ry="6.6" fill="#222a86" opacity="0.82" transform="rotate(-52 473.0 395.4)"/>
<ellipse cx="406.0" cy="358.6" rx="8.4" ry="5.2" fill="#222a86" opacity="0.82" transform="rotate(-35 406.0 358.6)"/>
<ellipse cx="522.7" cy="465.2" rx="6.8" ry="4.4" fill="#222a86" opacity="0.82" transform="rotate(4 522.7 465.2)"/>
<ellipse cx="611.7" cy="498.5" rx="6.5" ry="5.4" fill="#2e3ab4" opacity="0.95" transform="rotate(-38 611.7 498.5)"/>
<ellipse cx="490.4" cy="527.0" rx="7.7" ry="5.0" fill="#2e3ab4" opacity="0.95" transform="rotate(-31 490.4 527.0)"/>
<ellipse cx="545.1" cy="357.9" rx="6.1" ry="5.9" fill="#2e3ab4" opacity="0.95" transform="rotate(-25 545.1 357.9)"/>
<ellipse cx="633.9" cy="412.1" rx="5.3" ry="4.9" fill="#222a86" opacity="0.82" transform="rotate(-75 633.9 412.1)"/>
<ellipse cx="509.1" cy="343.5" rx="6.7" ry="5.2" fill="#2e3ab4" opacity="0.95" transform="rotate(-32 509.1 343.5)"/>
<ellipse cx="564.4" cy="305.2" rx="6.0" ry="3.9" fill="#2e3ab4" opacity="0.95" transform="rotate(-52 564.4 305.2)"/>
<ellipse cx="604.0" cy="296.6" rx="8.0" ry="5.2" fill="#3a48cf" opacity="1" transform="rotate(-11 604.0 296.6)"/>
<ellipse cx="636.0" cy="429.8" rx="5.4" ry="3.8" fill="#2e3ab4" opacity="0.95" transform="rotate(-41 636.0 429.8)"/>
<ellipse cx="631.8" cy="501.1" rx="5.4" ry="3.5" fill="#222a86" opacity="0.82" transform="rotate(-20 631.8 501.1)"/>
<ellipse cx="487.1" cy="331.6" rx="6.2" ry="4.0" fill="#222a86" opacity="0.82" transform="rotate(-21 487.1 331.6)"/>
<ellipse cx="459.0" cy="484.9" rx="8.1" ry="5.9" fill="#3a48cf" opacity="1" transform="rotate(-12 459.0 484.9)"/>
<ellipse cx="477.3" cy="371.8" rx="6.1" ry="4.2" fill="#2e3ab4" opacity="0.95" transform="rotate(-34 477.3 371.8)"/>
<ellipse cx="594.5" cy="420.0" rx="7.4" ry="5.6" fill="#2e3ab4" opacity="0.95" transform="rotate(-78 594.5 420.0)"/>
<ellipse cx="620.9" cy="335.4" rx="5.8" ry="5.2" fill="#2e3ab4" opacity="0.95" transform="rotate(-23 620.9 335.4)"/>
<ellipse cx="506.3" cy="513.5" rx="6.9" ry="5.2" fill="#222a86" opacity="0.82" transform="rotate(-50 506.3 513.5)"/>
<ellipse cx="428.7" cy="294.3" rx="6.5" ry="4.3" fill="#222a86" opacity="0.82" transform="rotate(-25 428.7 294.3)"/>
<ellipse cx="627.5" cy="297.6" rx="7.7" ry="7.0" fill="#3a48cf" opacity="1" transform="rotate(-47 627.5 297.6)"/>
<ellipse cx="579.2" cy="416.1" rx="6.9" ry="5.4" fill="#3a48cf" opacity="1" transform="rotate(-82 579.2 416.1)"/>
<ellipse cx="536.7" cy="432.1" rx="6.9" ry="6.4" fill="#2e3ab4" opacity="0.95" transform="rotate(-38 536.7 432.1)"/>
<ellipse cx="597.8" cy="441.4" rx="6.3" ry="4.2" fill="#222a86" opacity="0.82" transform="rotate(-33 597.8 441.4)"/>
<ellipse cx="618.8" cy="350.3" rx="6.1" ry="4.7" fill="#222a86" opacity="0.82" transform="rotate(-17 618.8 350.3)"/>
<ellipse cx="404.5" cy="469.3" rx="6.8" ry="6.6" fill="#2e3ab4" opacity="0.95" transform="rotate(1 404.5 469.3)"/>
<ellipse cx="531.4" cy="458.5" rx="6.1" ry="3.7" fill="#2e3ab4" opacity="0.95" transform="rotate(14 531.4 458.5)"/>
<ellipse cx="487.2" cy="358.0" rx="6.8" ry="6.4" fill="#2e3ab4" opacity="0.95" transform="rotate(-23 487.2 358.0)"/>
<ellipse cx="453.3" cy="408.9" rx="7.9" ry="7.1" fill="#222a86" opacity="0.82" transform="rotate(-19 453.3 408.9)"/>
<ellipse cx="431.2" cy="339.9" rx="5.9" ry="3.9" fill="#2e3ab4" opacity="0.95" transform="rotate(-70 431.2 339.9)"/>
<ellipse cx="447.1" cy="520.7" rx="7.7" ry="5.0" fill="#2e3ab4" opacity="0.95" transform="rotate(-51 447.1 520.7)"/>
<ellipse cx="550.8" cy="524.3" rx="6.3" ry="5.5" fill="#3a48cf" opacity="1" transform="rotate(-44 550.8 524.3)"/>
<ellipse cx="571.3" cy="433.8" rx="6.4" ry="5.0" fill="#222a86" opacity="0.82" transform="rotate(-34 571.3 433.8)"/>
<ellipse cx="417.0" cy="330.2" rx="5.5" ry="4.1" fill="#2e3ab4" opacity="0.95" transform="rotate(12 417.0 330.2)"/>
<ellipse cx="567.1" cy="315.5" rx="7.9" ry="4.8" fill="#3a48cf" opacity="1" transform="rotate(-46 567.1 315.5)"/>
<ellipse cx="404.3" cy="456.9" rx="7.6" ry="7.2" fill="#222a86" opacity="0.82" transform="rotate(8 404.3 456.9)"/>
<ellipse cx="499.9" cy="349.1" rx="5.9" ry="5.5" fill="#3a48cf" opacity="1" transform="rotate(-11 499.9 349.1)"/>
<ellipse cx="405.0" cy="411.5" rx="6.3" ry="4.5" fill="#222a86" opacity="0.82" transform="rotate(14 405.0 411.5)"/>
<ellipse cx="615.4" cy="424.1" rx="7.2" ry="6.0" fill="#2e3ab4" opacity="0.95" transform="rotate(-59 615.4 424.1)"/>
<ellipse cx="443.0" cy="301.0" rx="7.7" ry="4.7" fill="#222a86" opacity="0.82" transform="rotate(7 443.0 301.0)"/>
<ellipse cx="571.6" cy="373.6" rx="7.6" ry="5.1" fill="#222a86" opacity="0.82" transform="rotate(-62 571.6 373.6)"/>
<ellipse cx="548.5" cy="343.6" rx="6.4" ry="4.6" fill="#2e3ab4" opacity="0.95" transform="rotate(-63 548.5 343.6)"/>
<ellipse cx="607.9" cy="412.8" rx="7.8" ry="7.0" fill="#2e3ab4" opacity="0.95" transform="rotate(-51 607.9 412.8)"/>
<ellipse cx="461.8" cy="392.3" rx="6.5" ry="4.6" fill="#2e3ab4" opacity="0.95" transform="rotate(8 461.8 392.3)"/>
<ellipse cx="429.8" cy="416.1" rx="6.7" ry="5.7" fill="#2e3ab4" opacity="0.95" transform="rotate(-79 429.8 416.1)"/>
<ellipse cx="437.5" cy="455.1" rx="5.5" ry="3.3" fill="#222a86" opacity="0.82" transform="rotate(1 437.5 455.1)"/>
<ellipse cx="473.5" cy="361.2" rx="6.1" ry="5.2" fill="#2e3ab4" opacity="0.95" transform="rotate(-32 473.5 361.2)"/>
<ellipse cx="445.4" cy="382.0" rx="8.1" ry="7.3" fill="#2e3ab4" opacity="0.95" transform="rotate(-29 445.4 382.0)"/>
<ellipse cx="485.9" cy="306.8" rx="6.7" ry="5.6" fill="#2e3ab4" opacity="0.95" transform="rotate(-18 485.9 306.8)"/>
<ellipse cx="523.0" cy="492.0" rx="6.0" ry="4.3" fill="#222a86" opacity="0.82" transform="rotate(-61 523.0 492.0)"/>
<ellipse cx="493.4" cy="439.4" rx="5.3" ry="4.2" fill="#2e3ab4" opacity="0.95" transform="rotate(-50 493.4 439.4)"/>
<ellipse cx="498.1" cy="450.7" rx="7.4" ry="4.4" fill="#2e3ab4" opacity="0.95" transform="rotate(-33 498.1 450.7)"/>
<ellipse cx="573.5" cy="460.4" rx="8.0" ry="6.0" fill="#2e3ab4" opacity="0.95" transform="rotate(-20 573.5 460.4)"/>
<ellipse cx="480.3" cy="422.0" rx="8.6" ry="7.5" fill="#2e3ab4" opacity="0.95" transform="rotate(-63 480.3 422.0)"/>
<ellipse cx="628.4" cy="394.4" rx="5.4" ry="4.1" fill="#2e3ab4" opacity="0.95" transform="rotate(-20 628.4 394.4)"/>
<ellipse cx="560.8" cy="519.1" rx="7.8" ry="5.7" fill="#222a86" opacity="0.82" transform="rotate(8 560.8 519.1)"/>
<ellipse cx="440.2" cy="414.2" rx="6.0" ry="4.8" fill="#3a48cf" opacity="1" transform="rotate(-18 440.2 414.2)"/>
<ellipse cx="401.3" cy="334.7" rx="8.1" ry="7.7" fill="#2e3ab4" opacity="0.95" transform="rotate(-29 401.3 334.7)"/>
<ellipse cx="579.3" cy="500.1" rx="8.5" ry="7.3" fill="#222a86" opacity="0.82" transform="rotate(-25 579.3 500.1)"/>
<ellipse cx="461.9" cy="425.8" rx="6.5" ry="4.0" fill="#2e3ab4" opacity="0.95" transform="rotate(-50 461.9 425.8)"/>
<ellipse cx="608.3" cy="387.3" rx="5.7" ry="4.8" fill="#2e3ab4" opacity="0.95" transform="rotate(-80 608.3 387.3)"/>
<ellipse cx="582.1" cy="477.8" rx="6.4" ry="5.7" fill="#222a86" opacity="0.82" transform="rotate(-34 582.1 477.8)"/>
<ellipse cx="568.1" cy="424.0" rx="5.8" ry="3.9" fill="#3a48cf" opacity="1" transform="rotate(-2 568.1 424.0)"/>
<ellipse cx="588.5" cy="308.3" rx="8.4" ry="7.2" fill="#2e3ab4" opacity="0.95" transform="rotate(9 588.5 308.3)"/>
<ellipse cx="475.8" cy="336.4" rx="7.9" ry="6.1" fill="#222a86" opacity="0.82" transform="rotate(-16 475.8 336.4)"/>
<ellipse cx="635.2" cy="336.3" rx="7.1" ry="4.7" fill="#2e3ab4" opacity="0.95" transform="rotate(-52 635.2 336.3)"/>
<ellipse cx="524.6" cy="526.3" rx="5.6" ry="5.2" fill="#222a86" opacity="0.82" transform="rotate(6 524.6 526.3)"/>
<ellipse cx="620.1" cy="506.7" rx="5.8" ry="4.2" fill="#222a86" opacity="0.82" transform="rotate(-80 620.1 506.7)"/>
<ellipse cx="418.5" cy="449.4" rx="5.7" ry="4.8" fill="#2e3ab4" opacity="0.95" transform="rotate(-42 418.5 449.4)"/>
<ellipse cx="555.7" cy="315.6" rx="7.3" ry="5.1" fill="#222a86" opacity="0.82" transform="rotate(11 555.7 315.6)"/>
<ellipse cx="482.2" cy="508.4" rx="6.0" ry="3.7" fill="#222a86" opacity="0.82" transform="rotate(13 482.2 508.4)"/>
<ellipse cx="536.8" cy="477.1" rx="5.6" ry="3.5" fill="#2e3ab4" opacity="0.95" transform="rotate(-79 536.8 477.1)"/>
<ellipse cx="516.6" cy="386.1" rx="5.8" ry="5.6" fill="#222a86" opacity="0.82" transform="rotate(-78 516.6 386.1)"/>
<ellipse cx="512.7" cy="370.0" rx="8.5" ry="6.7" fill="#2e3ab4" opacity="0.95" transform="rotate(-35 512.7 370.0)"/>
<ellipse cx="449.6" cy="353.6" rx="5.4" ry="3.7" fill="#2e3ab4" opacity="0.95" transform="rotate(-26 449.6 353.6)"/>
<ellipse cx="521.1" cy="358.7" rx="6.4" ry="5.4" fill="#3a48cf" opacity="1" transform="rotate(-63 521.1 358.7)"/>
<ellipse cx="638.5" cy="463.1" rx="7.5" ry="4.7" fill="#2e3ab4" opacity="0.95" transform="rotate(-44 638.5 463.1)"/>
<ellipse cx="425.8" cy="481.3" rx="8.0" ry="6.5" fill="#2e3ab4" opacity="0.95" transform="rotate(-30 425.8 481.3)"/>
<ellipse cx="452.7" cy="329.1" rx="8.5" ry="6.7" fill="#222a86" opacity="0.82" transform="rotate(-14 452.7 329.1)"/>
<ellipse cx="594.3" cy="478.0" rx="6.5" ry="6.4" fill="#2e3ab4" opacity="0.95" transform="rotate(14 594.3 478.0)"/>
<ellipse cx="473.5" cy="384.5" rx="6.8" ry="5.5" fill="#2e3ab4" opacity="0.95" transform="rotate(8 473.5 384.5)"/>
<ellipse cx="555.7" cy="502.3" rx="6.9" ry="5.7" fill="#3a48cf" opacity="1" transform="rotate(-3 555.7 502.3)"/>
<ellipse cx="437.2" cy="330.1" rx="6.0" ry="4.9" fill="#222a86" opacity="0.82" transform="rotate(-63 437.2 330.1)"/>
<ellipse cx="620.2" cy="363.3" rx="8.3" ry="7.1" fill="#2e3ab4" opacity="0.95" transform="rotate(5 620.2 363.3)"/>
<ellipse cx="615.6" cy="488.1" rx="7.3" ry="5.4" fill="#2e3ab4" opacity="0.95" transform="rotate(-32 615.6 488.1)"/>
<ellipse cx="460.7" cy="305.1" rx="6.7" ry="5.8" fill="#3a48cf" opacity="1" transform="rotate(-72 460.7 305.1)"/>
<ellipse cx="458.3" cy="512.2" rx="5.9" ry="5.2" fill="#3a48cf" opacity="1" transform="rotate(-41 458.3 512.2)"/>
<ellipse cx="575.8" cy="443.0" rx="7.7" ry="7.2" fill="#3a48cf" opacity="1" transform="rotate(-71 575.8 443.0)"/>
<ellipse cx="528.5" cy="297.4" rx="6.6" ry="4.3" fill="#2e3ab4" opacity="0.95" transform="rotate(-84 528.5 297.4)"/>
<ellipse cx="481.3" cy="466.3" rx="5.3" ry="4.9" fill="#222a86" opacity="0.82" transform="rotate(-38 481.3 466.3)"/>
<ellipse cx="529.5" cy="442.5" rx="6.9" ry="6.4" fill="#2e3ab4" opacity="0.95" transform="rotate(1 529.5 442.5)"/>
<ellipse cx="418.8" cy="381.3" rx="5.7" ry="5.2" fill="#2e3ab4" opacity="0.95" transform="rotate(-58 418.8 381.3)"/>
<ellipse cx="517.6" cy="512.9" rx="8.2" ry="7.3" fill="#2e3ab4" opacity="0.95" transform="rotate(-71 517.6 512.9)"/>
<ellipse cx="466.8" cy="331.0" rx="6.5" ry="5.1" fill="#2e3ab4" opacity="0.95" transform="rotate(-60 466.8 331.0)"/>
<ellipse cx="435.3" cy="526.6" rx="6.7" ry="4.2" fill="#2e3ab4" opacity="0.95" transform="rotate(-74 435.3 526.6)"/>
<ellipse cx="579.0" cy="312.7" rx="7.8" ry="7.5" fill="#3a48cf" opacity="1" transform="rotate(15 579.0 312.7)"/>
<ellipse cx="508.9" cy="354.1" rx="8.5" ry="5.7" fill="#2e3ab4" opacity="0.95" transform="rotate(-29 508.9 354.1)"/>
<ellipse cx="531.0" cy="312.1" rx="5.5" ry="3.8" fill="#2e3ab4" opacity="0.95" transform="rotate(-65 531.0 312.1)"/>
</g>
<g filter="url(#fBlurM)">
<circle cx="631.1" cy="302.7" r="1.9" fill="#28b8d8" opacity="0.52"/>
<circle cx="510.1" cy="425.0" r="1.6" fill="#28b8d8" opacity="0.57"/>
<circle cx="552.1" cy="386.6" r="1.4" fill="#28b8d8" opacity="0.55"/>
<circle cx="401.0" cy="341.1" r="1.6" fill="#28b8d8" opacity="0.68"/>
<circle cx="468.6" cy="362.2" r="2.1" fill="#28b8d8" opacity="0.52"/>
<circle cx="479.4" cy="491.0" r="1.3" fill="#28b8d8" opacity="0.64"/>
<circle cx="510.9" cy="516.5" r="1.7" fill="#28b8d8" opacity="0.67"/>
<circle cx="627.0" cy="447.0" r="1.2" fill="#28b8d8" opacity="0.72"/>
<circle cx="594.3" cy="324.6" r="1.6" fill="#28b8d8" opacity="0.63"/>
<circle cx="554.8" cy="370.8" r="1.7" fill="#28b8d8" opacity="0.68"/>
<circle cx="606.6" cy="316.0" r="1.9" fill="#28b8d8" opacity="0.65"/>
<circle cx="592.8" cy="512.6" r="1.4" fill="#28b8d8" opacity="0.78"/>
<circle cx="589.3" cy="476.2" r="1.6" fill="#28b8d8" opacity="0.67"/>
<circle cx="501.6" cy="373.7" r="1.4" fill="#28b8d8" opacity="0.51"/>
<circle cx="498.0" cy="409.7" r="2.1" fill="#28b8d8" opacity="0.88"/>
<circle cx="425.2" cy="406.3" r="1.6" fill="#28b8d8" opacity="0.85"/>
<circle cx="489.9" cy="427.1" r="2.0" fill="#28b8d8" opacity="0.83"/>
<circle cx="513.2" cy="497.5" r="1.6" fill="#28b8d8" opacity="0.66"/>
<circle cx="450.2" cy="309.3" r="1.5" fill="#28b8d8" opacity="0.51"/>
<circle cx="583.5" cy="303.8" r="2.4" fill="#28b8d8" opacity="0.89"/>
<circle cx="536.3" cy="481.5" r="2.3" fill="#28b8d8" opacity="0.53"/>
<circle cx="563.7" cy="332.0" r="1.9" fill="#28b8d8" opacity="0.54"/>
<circle cx="549.1" cy="422.4" r="1.2" fill="#28b8d8" opacity="0.52"/>
<circle cx="484.6" cy="525.0" r="2.2" fill="#28b8d8" opacity="0.58"/>
<circle cx="625.7" cy="397.8" r="2.3" fill="#28b8d8" opacity="0.83"/>
<circle cx="468.5" cy="503.9" r="1.4" fill="#28b8d8" opacity="0.66"/>
<circle cx="501.8" cy="391.2" r="1.2" fill="#28b8d8" opacity="0.67"/>
<circle cx="594.2" cy="330.0" r="2.0" fill="#28b8d8" opacity="0.56"/>
<circle cx="455.7" cy="448.7" r="2.1" fill="#28b8d8" opacity="0.81"/>
<circle cx="637.7" cy="328.4" r="1.2" fill="#28b8d8" opacity="0.67"/>
<circle cx="439.5" cy="466.0" r="2.2" fill="#28b8d8" opacity="0.59"/>
<circle cx="604.2" cy="474.0" r="1.8" fill="#28b8d8" opacity="0.73"/>
<circle cx="424.9" cy="461.0" r="1.2" fill="#28b8d8" opacity="0.64"/>
<circle cx="622.4" cy="369.6" r="1.4" fill="#28b8d8" opacity="0.89"/>
<circle cx="439.4" cy="384.5" r="1.5" fill="#28b8d8" opacity="0.60"/>
<circle cx="591.7" cy="342.0" r="1.7" fill="#28b8d8" opacity="0.50"/>
<circle cx="450.1" cy="395.2" r="2.3" fill="#28b8d8" opacity="0.74"/>
<circle cx="640.9" cy="335.7" r="2.0" fill="#28b8d8" opacity="0.53"/>
<circle cx="535.0" cy="437.3" r="2.3" fill="#28b8d8" opacity="0.75"/>
<circle cx="586.0" cy="498.8" r="2.1" fill="#28b8d8" opacity="0.73"/>
<circle cx="608.6" cy="301.0" r="1.6" fill="#28b8d8" opacity="0.85"/>
<circle cx="601.6" cy="438.0" r="1.6" fill="#28b8d8" opacity="0.90"/>
<circle cx="431.0" cy="485.0" r="1.7" fill="#28b8d8" opacity="0.51"/>
<circle cx="566.3" cy="434.7" r="1.9" fill="#28b8d8" opacity="0.85"/>
<circle cx="481.1" cy="374.7" r="1.5" fill="#28b8d8" opacity="0.74"/>
<circle cx="471.0" cy="389.4" r="2.0" fill="#28b8d8" opacity="0.60"/>
<circle cx="594.6" cy="313.2" r="1.5" fill="#28b8d8" opacity="0.82"/>
<circle cx="579.8" cy="506.5" r="1.4" fill="#28b8d8" opacity="0.80"/>
<circle cx="499.6" cy="353.8" r="1.3" fill="#28b8d8" opacity="0.86"/>
<circle cx="614.9" cy="359.3" r="1.4" fill="#28b8d8" opacity="0.89"/>
<circle cx="451.2" cy="357.6" r="1.2" fill="#28b8d8" opacity="0.61"/>
<circle cx="559.3" cy="463.9" r="2.1" fill="#28b8d8" opacity="0.82"/>
<circle cx="548.7" cy="308.7" r="1.3" fill="#28b8d8" opacity="0.78"/>
<circle cx="527.7" cy="493.0" r="2.0" fill="#28b8d8" opacity="0.69"/>
<circle cx="468.7" cy="362.6" r="2.3" fill="#28b8d8" opacity="0.67"/>
<circle cx="492.2" cy="450.8" r="1.5" fill="#28b8d8" opacity="0.89"/>
<circle cx="637.2" cy="328.7" r="1.9" fill="#28b8d8" opacity="0.86"/>
<circle cx="586.2" cy="326.5" r="2.2" fill="#28b8d8" opacity="0.54"/>
<circle cx="573.5" cy="315.4" r="1.8" fill="#28b8d8" opacity="0.74"/>
<circle cx="520.5" cy="440.7" r="1.2" fill="#28b8d8" opacity="0.58"/>
<circle cx="507.5" cy="408.9" r="1.5" fill="#28b8d8" opacity="0.83"/>
<circle cx="478.8" cy="383.2" r="2.0" fill="#28b8d8" opacity="0.89"/>
<circle cx="427.7" cy="411.2" r="2.1" fill="#28b8d8" opacity="0.73"/>
<circle cx="532.5" cy="487.9" r="1.7" fill="#28b8d8" opacity="0.54"/>
<circle cx="400.1" cy="361.8" r="2.3" fill="#28b8d8" opacity="0.83"/>
<circle cx="412.0" cy="372.4" r="1.4" fill="#28b8d8" opacity="0.88"/>
<circle cx="631.0" cy="446.0" r="1.6" fill="#28b8d8" opacity="0.58"/>
<circle cx="458.2" cy="516.9" r="1.5" fill="#28b8d8" opacity="0.71"/>
<circle cx="404.9" cy="386.8" r="1.9" fill="#28b8d8" opacity="0.87"/>
<circle cx="416.7" cy="296.5" r="1.6" fill="#28b8d8" opacity="0.81"/>
<circle cx="461.9" cy="447.8" r="1.6" fill="#28b8d8" opacity="0.73"/>
<circle cx="638.1" cy="433.5" r="1.8" fill="#28b8d8" opacity="0.71"/>
<circle cx="532.4" cy="375.8" r="1.3" fill="#28b8d8" opacity="0.55"/>
<circle cx="575.0" cy="303.8" r="1.5" fill="#28b8d8" opacity="0.54"/>
<circle cx="633.4" cy="416.3" r="2.0" fill="#28b8d8" opacity="0.75"/>
<circle cx="502.2" cy="455.0" r="1.4" fill="#28b8d8" opacity="0.70"/>
<circle cx="421.0" cy="355.5" r="1.4" fill="#28b8d8" opacity="0.60"/>
<circle cx="548.0" cy="510.5" r="1.6" fill="#28b8d8" opacity="0.76"/>
<circle cx="407.5" cy="336.7" r="2.2" fill="#28b8d8" opacity="0.61"/>
<circle cx="534.0" cy="519.0" r="1.3" fill="#28b8d8" opacity="0.55"/>
<circle cx="406.5" cy="385.4" r="2.0" fill="#28b8d8" opacity="0.55"/>
<circle cx="441.5" cy="453.3" r="1.3" fill="#28b8d8" opacity="0.85"/>
<circle cx="550.4" cy="516.8" r="1.5" fill="#28b8d8" opacity="0.55"/>
<circle cx="453.6" cy="442.9" r="1.4" fill="#28b8d8" opacity="0.60"/>
<circle cx="598.1" cy="474.4" r="1.7" fill="#28b8d8" opacity="0.68"/>
</g>
<g filter="url(#fBlurS)">
<ellipse cx="600.5" cy="407.8" rx="5.2" ry="2.2" fill="#e83478" opacity="0.88" transform="rotate(0 600.5 407.8)"/>
<ellipse cx="521.8" cy="424.2" rx="2.4" ry="2.6" fill="#a838a0" opacity="0.88" transform="rotate(0 521.8 424.2)"/>
<ellipse cx="563.1" cy="515.3" rx="4.4" ry="3.4" fill="#e03888" opacity="0.88" transform="rotate(0 563.1 515.3)"/>
</g>
<path d="M497.6,441.6 L510.0,429.7" stroke="#fff" stroke-width="2.8" fill="none"/><path d="M507.4,437.9 L510.0,429.7 L501.7,432.0" stroke="#fff" stroke-width="2.5" fill="none" stroke-linejoin="miter" stroke-miterlimit="8"/>
<path d="M578.9,427.4 L591.6,415.1" stroke="#fff" stroke-width="2.8" fill="none"/><path d="M589.0,423.3 L591.6,415.1 L583.3,417.4" stroke="#fff" stroke-width="2.5" fill="none" stroke-linejoin="miter" stroke-miterlimit="8"/>
<path d="M541.6,529.4 L554.2,517.1" stroke="#fff" stroke-width="2.8" fill="none"/><path d="M551.7,525.3 L554.2,517.1 L545.9,519.5" stroke="#fff" stroke-width="2.5" fill="none" stroke-linejoin="miter" stroke-miterlimit="8"/>
</g>
<rect x="401.2" y="293.3" width="238.1" height="237.1" fill="none" stroke="#050505" stroke-width="1.0"/>
<text x="406.2" y="310.8" font-size="17.2" font-weight="bold" fill="#fff">Post (0.58%)</text>
<g font-weight="bold" font-size="14.6">
<text fill="#3953a4" transform="translate(658.4,242.5) rotate(-90)">DAPI</text>
<text fill="#5cb947" transform="translate(658.4,199.1) rotate(-90)">CD3<tspan font-size="8.5" dy="-5.4">+</tspan></text>
<text fill="#b84f9e" transform="translate(658.4,152) rotate(-90)">Foxp3<tspan font-size="8.5" dy="-5.4">+</tspan></text>
</g>
<g font-weight="bold" font-size="14.6">
<text fill="#3953a4" transform="translate(658.4,482.5) rotate(-90)">DAPI</text>
<text fill="#5cb947" transform="translate(658.4,439.1) rotate(-90)">CD3<tspan font-size="8.5" dy="-5.4">+</tspan></text>
<text fill="#b84f9e" transform="translate(658.4,392) rotate(-90)">Foxp3<tspan font-size="8.5" dy="-5.4">+</tspan></text>
</g>
<rect x="72.90" y="748.20" width="19.9" height="77.20" fill="#0459a8"/>
<rect x="100.95" y="748.20" width="19.9" height="70.10" fill="#0459a8"/>
<rect x="129.00" y="748.20" width="19.9" height="68.00" fill="#0459a8"/>
<rect x="157.05" y="748.20" width="19.9" height="58.80" fill="#0459a8"/>
<rect x="185.10" y="748.20" width="19.9" height="58.80" fill="#0459a8"/>
<rect x="213.15" y="748.20" width="19.9" height="47.10" fill="#0459a8"/>
<rect x="241.20" y="702.90" width="19.9" height="45.30" fill="#0459a8"/>
<rect x="269.25" y="702.90" width="19.9" height="45.30" fill="#0459a8"/>
<rect x="297.30" y="702.90" width="19.9" height="45.30" fill="#0459a8"/>
<rect x="325.35" y="700.40" width="19.9" height="47.80" fill="#0459a8"/>
<rect x="353.40" y="695.80" width="19.9" height="52.40" fill="#0459a8"/>
<rect x="381.45" y="695.80" width="19.9" height="52.40" fill="#0459a8"/>
<rect x="409.50" y="693.40" width="19.9" height="54.80" fill="#0459a8"/>
<rect x="437.55" y="690.90" width="19.9" height="57.30" fill="#0459a8"/>
<rect x="465.60" y="688.80" width="19.9" height="59.40" fill="#0459a8"/>
<rect x="493.65" y="686.70" width="19.9" height="61.50" fill="#0459a8"/>
<rect x="521.70" y="686.70" width="19.9" height="61.50" fill="#0459a8"/>
<rect x="549.75" y="682.10" width="19.9" height="66.10" fill="#0459a8"/>
<rect x="577.80" y="680.00" width="19.9" height="68.20" fill="#0459a8"/>
<rect x="605.85" y="675.40" width="19.9" height="72.80" fill="#0459a8"/>
<rect x="633.90" y="662.00" width="19.9" height="86.20" fill="#0459a8"/>
<rect x="661.95" y="659.20" width="19.9" height="89.00" fill="#0459a8"/>
<rect x="690.00" y="632.10" width="19.9" height="116.10" fill="#0459a8"/>
<rect x="718.05" y="618.70" width="19.9" height="129.50" fill="#0459a8"/>
<g stroke="#1c191a" stroke-width="1.3" fill="none">
<line x1="68.9" y1="611.8" x2="68.9" y2="839"/>
<line x1="68.9" y1="838.4" x2="738" y2="838.4"/>
<line x1="68.9" y1="748.2" x2="738" y2="748.2"/>
<line x1="60.2" y1="612.4" x2="68.9" y2="612.4"/>
<line x1="60.2" y1="657.3" x2="68.9" y2="657.3"/>
<line x1="60.2" y1="703.0" x2="68.9" y2="703.0"/>
<line x1="60.2" y1="748.2" x2="68.9" y2="748.2"/>
<line x1="60.2" y1="794.0" x2="68.9" y2="794.0"/>
<line x1="60.2" y1="838.4" x2="68.9" y2="838.4"/>
<line x1="82.85" y1="838.4" x2="82.85" y2="846.4"/>
<line x1="110.90" y1="838.4" x2="110.90" y2="846.4"/>
<line x1="138.95" y1="838.4" x2="138.95" y2="846.4"/>
<line x1="167.00" y1="838.4" x2="167.00" y2="846.4"/>
<line x1="195.05" y1="838.4" x2="195.05" y2="846.4"/>
<line x1="223.10" y1="838.4" x2="223.10" y2="846.4"/>
<line x1="251.15" y1="838.4" x2="251.15" y2="846.4"/>
<line x1="279.20" y1="838.4" x2="279.20" y2="846.4"/>
<line x1="307.25" y1="838.4" x2="307.25" y2="846.4"/>
<line x1="335.30" y1="838.4" x2="335.30" y2="846.4"/>
<line x1="363.35" y1="838.4" x2="363.35" y2="846.4"/>
<line x1="391.40" y1="838.4" x2="391.40" y2="846.4"/>
<line x1="419.45" y1="838.4" x2="419.45" y2="846.4"/>
<line x1="447.50" y1="838.4" x2="447.50" y2="846.4"/>
<line x1="475.55" y1="838.4" x2="475.55" y2="846.4"/>
<line x1="503.60" y1="838.4" x2="503.60" y2="846.4"/>
<line x1="531.65" y1="838.4" x2="531.65" y2="846.4"/>
<line x1="559.70" y1="838.4" x2="559.70" y2="846.4"/>
<line x1="587.75" y1="838.4" x2="587.75" y2="846.4"/>
<line x1="615.80" y1="838.4" x2="615.80" y2="846.4"/>
<line x1="643.85" y1="838.4" x2="643.85" y2="846.4"/>
<line x1="671.90" y1="838.4" x2="671.90" y2="846.4"/>
<line x1="699.95" y1="838.4" x2="699.95" y2="846.4"/>
<line x1="728.00" y1="838.4" x2="728.00" y2="846.4"/>
<line x1="78.4" y1="703.2" x2="738" y2="703.2" stroke-dasharray="7.5 7.38" stroke-width="1.4"/>
<line x1="78.4" y1="794.2" x2="738" y2="794.2" stroke-dasharray="7.5 7.38" stroke-width="1.4"/>
</g>
<g font-size="14.2" fill="#231f20" text-anchor="end">
<text x="57.9" y="617.4">6</text>
<text x="57.9" y="662.3">4</text>
<text x="57.9" y="708.0">2</text>
<text x="57.9" y="753.2">0</text>
<text x="57.9" y="799.0">–2</text>
<text x="57.9" y="843.4">–4</text>
</g>
<g font-size="14.4" fill="#231f20" text-anchor="end">
<text transform="translate(85.75,849.9) rotate(-90)">CCL22</text>
<text transform="translate(113.80,850.4) rotate(-90)">IL2</text>
<text transform="translate(141.85,850.0) rotate(-90)">RORC</text>
<text transform="translate(169.90,850.4) rotate(-90)">IL8</text>
<text transform="translate(197.95,850.4) rotate(-90)">CTLA4</text>
<text transform="translate(226.00,851.1) rotate(-90)">FOXP3</text>
<text transform="translate(254.05,850.5) rotate(-90)">CCR5</text>
<text transform="translate(282.10,851.4) rotate(-90)">CD274</text>
<text transform="translate(310.15,852.0) rotate(-90)">IL7</text>
<text transform="translate(338.20,850.5) rotate(-90)">TNFRSF14</text>
<text transform="translate(366.25,851.2) rotate(-90)">TGFB1</text>
<text transform="translate(394.30,852.4) rotate(-90)">CD40</text>
<text transform="translate(422.35,851.7) rotate(-90)">CD4</text>
<text transform="translate(450.40,852.5) rotate(-90)">PRF1</text>
<text transform="translate(478.45,853.2) rotate(-90)">TNFSF4</text>
<text transform="translate(506.50,851.1) rotate(-90)">CD86</text>
<text transform="translate(534.55,851.6) rotate(-90)">CXCL9</text>
<text transform="translate(562.60,852.3) rotate(-90)">CD3E</text>
<text transform="translate(590.65,852.6) rotate(-90)">LAG3</text>
<text transform="translate(618.70,851.8) rotate(-90)">PDCD1</text>
<text transform="translate(646.75,850.4) rotate(-90)">CCL28</text>
<text transform="translate(674.80,850.1) rotate(-90)">GZMB</text>
<text transform="translate(702.85,850.2) rotate(-90)">IFNg</text>
<text transform="translate(730.90,850.1) rotate(-90)">IL2RA</text>
</g>
<text font-size="14.95" fill="#231f20" text-anchor="middle" transform="translate(28.9,727.4) rotate(-90)">Fold change relative to pre-treatment</text>
</svg>
</body></html>
